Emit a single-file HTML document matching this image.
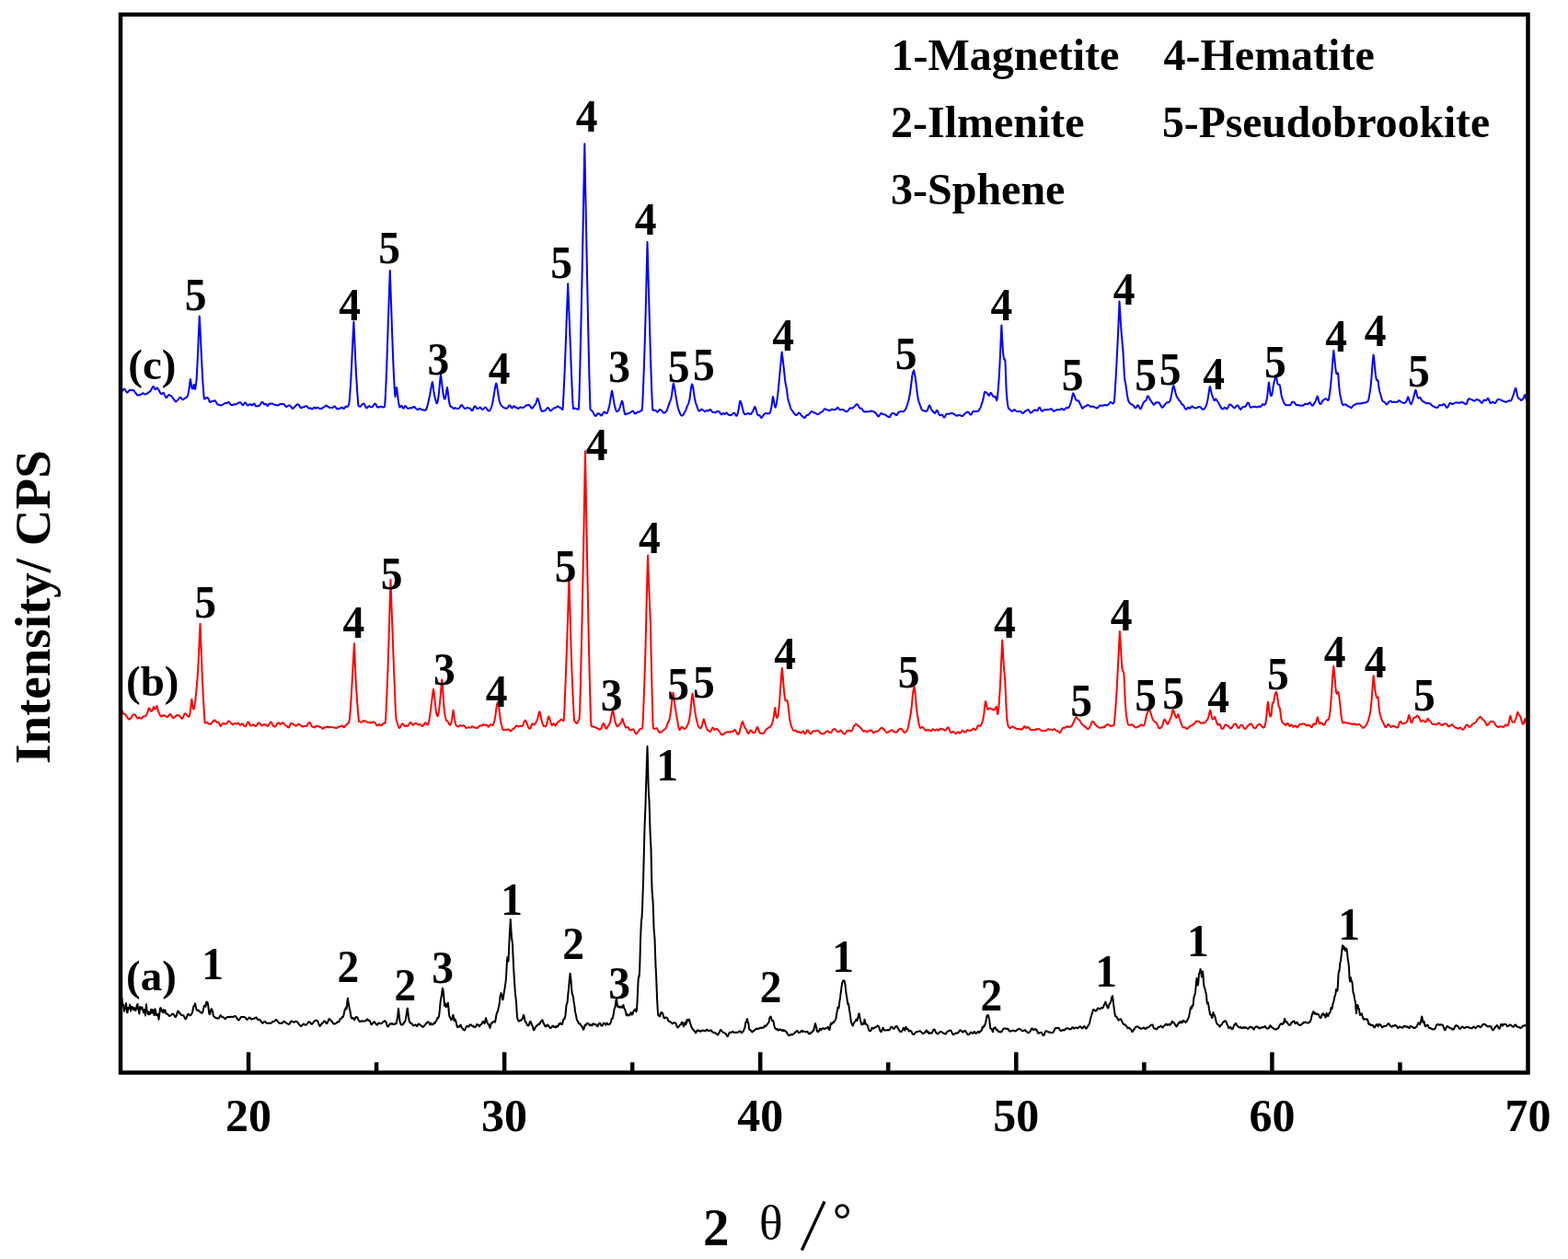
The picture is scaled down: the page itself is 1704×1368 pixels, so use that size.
<!DOCTYPE html>
<html><head><meta charset="utf-8"><title>XRD patterns</title>
<style>
html,body{margin:0;padding:0;background:#fff;}
body{width:1704px;height:1368px;overflow:hidden;}
svg{display:block;}
.serif{font-family:"Liberation Serif","Noto Serif CJK SC",serif;font-weight:bold;}
</style></head><body>
<svg width="1704" height="1368" viewBox="0 0 1704 1368">
<rect x="0" y="0" width="1704" height="1368" fill="#fff"/>
<g fill="none" stroke-width="2.0" stroke-linejoin="round" stroke-linecap="round">
<path d="M132.5 1085.0L133.0 1091.0L133.5 1092.1L134.0 1091.5L134.5 1094.9L135.0 1098.8L135.5 1096.4L136.0 1096.1L136.5 1092.4L137.0 1090.3L137.5 1093.8L138.0 1100.0L138.5 1100.2L139.0 1097.6L139.5 1095.0L140.0 1096.0L140.5 1095.7L141.0 1091.6L141.5 1094.6L142.0 1098.7L142.5 1093.7L143.0 1094.5L143.5 1094.0L144.0 1094.9L144.5 1097.0L145.0 1094.8L145.5 1096.7L146.0 1096.9L146.5 1097.7L147.0 1095.3L147.5 1097.9L148.0 1096.1L148.5 1093.8L149.0 1092.0L149.5 1091.0L150.0 1096.1L150.5 1095.8L151.0 1100.3L151.5 1101.5L152.0 1094.0L152.5 1094.9L153.0 1094.6L153.5 1096.2L154.0 1096.5L154.5 1094.4L155.0 1097.9L155.5 1098.1L156.0 1100.4L156.5 1098.0L157.0 1097.1L157.5 1099.2L158.0 1103.5L158.5 1096.0L159.0 1091.3L159.5 1097.4L160.0 1098.7L160.5 1100.4L161.0 1102.2L161.5 1102.3L162.0 1099.6L162.5 1099.8L163.0 1101.9L163.5 1101.1L164.0 1097.0L164.5 1100.6L165.0 1096.7L165.5 1098.6L166.0 1100.8L166.5 1097.5L167.0 1097.8L167.5 1103.1L168.0 1102.4L168.5 1096.2L169.0 1097.8L169.5 1101.0L170.0 1103.3L170.5 1101.9L171.0 1102.2L171.5 1101.9L172.0 1104.1L172.5 1107.7L173.0 1104.1L173.5 1100.5L174.0 1095.7L174.5 1095.1L175.0 1095.8L175.5 1098.7L176.0 1098.7L176.5 1098.6L177.0 1100.2L177.5 1097.1L178.0 1099.6L178.5 1099.7L179.0 1098.0L179.5 1097.6L180.0 1099.6L180.5 1101.4L181.0 1101.4L181.5 1101.4L182.0 1101.7L182.5 1102.3L183.0 1103.1L183.5 1103.7L184.0 1103.9L184.5 1103.8L185.0 1103.7L185.5 1103.4L186.0 1102.9L186.5 1102.2L187.0 1101.8L187.5 1101.7L188.0 1101.8L188.5 1102.0L189.0 1102.6L189.5 1103.4L190.0 1104.4L190.5 1105.1L191.0 1105.0L191.5 1104.1L192.0 1102.9L192.5 1101.1L193.0 1099.4L193.5 1098.6L194.0 1098.9L194.5 1099.8L195.0 1100.8L195.5 1101.3L196.0 1101.5L196.5 1102.1L197.0 1102.8L197.5 1103.1L198.0 1103.2L198.5 1103.2L199.0 1103.2L199.5 1103.4L200.0 1104.4L200.5 1105.7L201.0 1106.8L201.5 1107.4L202.0 1107.1L202.5 1106.2L203.0 1105.0L203.5 1103.5L204.0 1102.2L204.5 1101.6L205.0 1102.0L205.5 1102.7L206.0 1103.2L206.5 1103.2L207.0 1103.1L207.5 1102.7L208.0 1102.0L208.5 1101.0L209.0 1100.3L209.5 1098.3L210.0 1095.0L210.5 1093.4L211.0 1093.0L211.5 1091.9L211.8 1090.7L212.0 1090.4L212.5 1092.3L213.0 1095.3L213.5 1096.8L214.0 1097.9L214.5 1097.9L215.0 1097.4L215.5 1097.7L216.0 1098.1L216.5 1098.8L217.0 1099.4L217.5 1099.3L218.0 1099.8L218.5 1100.4L219.0 1100.7L219.5 1100.8L220.0 1100.3L220.5 1099.1L221.0 1096.6L221.5 1094.5L221.8 1092.9L222.0 1093.0L222.5 1092.6L223.0 1093.6L223.5 1093.8L224.0 1089.4L224.5 1088.6L224.8 1088.8L225.0 1090.8L225.5 1088.9L226.0 1091.1L226.5 1094.7L227.0 1099.2L227.5 1102.0L228.0 1102.1L228.5 1100.9L229.0 1098.4L229.5 1096.7L229.8 1096.1L230.0 1096.4L230.5 1097.7L231.0 1098.6L231.5 1101.3L232.0 1103.7L232.5 1104.6L233.0 1104.9L233.5 1105.3L234.0 1105.8L234.5 1106.3L235.0 1106.3L235.5 1106.1L236.0 1106.5L236.5 1106.7L237.0 1106.4L237.5 1106.4L238.0 1106.2L238.5 1105.2L239.0 1104.0L239.5 1103.2L240.0 1103.3L240.5 1104.0L241.0 1104.8L241.5 1105.2L242.0 1105.3L242.5 1105.2L243.0 1105.4L243.5 1105.9L244.0 1106.7L244.5 1107.3L245.0 1107.1L245.5 1106.4L246.0 1105.9L246.5 1105.5L247.0 1105.2L247.5 1105.1L248.0 1105.0L248.5 1105.0L249.0 1105.1L249.5 1105.2L250.0 1105.0L250.5 1104.9L251.0 1104.9L251.5 1104.7L252.0 1104.7L252.5 1104.9L253.0 1105.1L253.5 1105.0L254.0 1104.8L254.5 1104.4L255.0 1104.1L255.5 1104.1L256.0 1104.3L256.5 1104.9L257.0 1105.5L257.5 1106.3L258.0 1107.2L258.5 1108.1L259.0 1108.6L259.5 1108.6L260.0 1108.1L260.5 1107.4L261.0 1106.4L261.5 1105.5L262.0 1105.0L262.5 1104.9L263.0 1105.0L263.5 1105.1L264.0 1105.2L264.5 1105.1L265.0 1105.0L265.5 1105.0L266.0 1105.3L266.5 1105.8L267.0 1106.3L267.5 1106.9L268.0 1107.6L268.5 1107.9L269.0 1107.6L269.5 1107.1L270.0 1106.5L270.5 1106.0L271.0 1105.6L271.5 1105.7L272.0 1106.3L272.5 1107.0L273.0 1107.4L273.5 1107.5L274.0 1107.3L274.5 1107.1L275.0 1107.0L275.5 1107.0L276.0 1107.0L276.5 1106.6L277.0 1106.2L277.5 1105.8L278.0 1105.5L278.5 1105.5L279.0 1106.1L279.5 1106.9L280.0 1107.7L280.5 1108.2L281.0 1108.3L281.5 1108.3L282.0 1108.1L282.5 1108.1L283.0 1108.6L283.5 1109.4L284.0 1110.3L284.5 1111.0L285.0 1111.5L285.5 1111.8L286.0 1111.4L286.5 1110.7L287.0 1110.2L287.5 1110.0L288.0 1110.0L288.5 1110.5L289.0 1111.1L289.5 1111.5L290.0 1111.8L290.5 1111.9L291.0 1111.8L291.5 1111.7L292.0 1111.7L292.5 1111.7L293.0 1111.9L293.5 1112.0L294.0 1111.8L294.5 1111.5L295.0 1111.4L295.5 1111.0L296.0 1110.4L296.5 1110.0L297.0 1109.9L297.5 1109.9L298.0 1109.7L298.5 1109.4L299.0 1109.0L299.5 1108.5L300.0 1108.0L300.5 1108.2L301.0 1108.8L301.5 1109.4L302.0 1110.1L302.5 1110.7L303.0 1111.2L303.5 1111.7L304.0 1111.9L304.5 1111.8L305.0 1111.8L305.5 1111.8L306.0 1112.0L306.5 1112.0L307.0 1111.5L307.5 1110.7L308.0 1110.0L308.5 1109.7L309.0 1109.7L309.5 1110.2L310.0 1110.8L310.5 1111.2L311.0 1111.5L311.5 1111.8L312.0 1112.1L312.5 1112.3L313.0 1112.6L313.5 1112.9L314.0 1112.9L314.5 1112.6L315.0 1111.9L315.5 1111.0L316.0 1110.2L316.5 1109.6L317.0 1109.5L317.5 1109.9L318.0 1110.4L318.5 1110.6L319.0 1110.6L319.5 1110.7L320.0 1110.6L320.5 1110.2L321.0 1110.0L321.5 1109.8L322.0 1109.8L322.5 1110.1L323.0 1110.5L323.5 1111.0L324.0 1111.7L324.5 1112.5L325.0 1112.9L325.5 1113.6L326.0 1114.2L326.5 1114.7L327.0 1115.0L327.5 1115.0L328.0 1114.4L328.5 1113.7L329.0 1113.3L329.5 1112.8L330.0 1112.5L330.5 1112.7L331.0 1113.2L331.5 1113.6L332.0 1113.7L332.5 1113.7L333.0 1113.4L333.5 1112.9L334.0 1112.3L334.5 1111.5L335.0 1110.6L335.5 1110.3L336.0 1110.4L336.5 1110.5L337.0 1110.9L337.5 1111.5L338.0 1112.3L338.5 1112.8L339.0 1112.8L339.5 1112.4L340.0 1111.8L340.5 1111.0L341.0 1110.2L341.5 1109.8L342.0 1109.4L342.5 1109.1L343.0 1108.8L343.5 1108.7L344.0 1108.9L344.5 1109.0L345.0 1109.3L345.5 1110.1L346.0 1111.5L346.5 1112.8L347.0 1114.2L347.5 1115.0L348.0 1114.7L348.5 1113.8L349.0 1113.1L349.5 1112.3L350.0 1111.9L350.5 1111.8L351.0 1111.3L351.5 1110.5L352.0 1109.8L352.5 1109.4L353.0 1109.7L353.5 1110.3L354.0 1110.8L354.5 1111.5L355.0 1112.1L355.5 1111.8L356.0 1111.0L356.5 1109.7L357.0 1108.3L357.5 1107.4L358.0 1107.0L358.5 1107.4L359.0 1108.4L359.5 1108.9L360.0 1109.2L360.5 1109.9L361.0 1110.3L361.5 1111.0L362.0 1111.9L362.5 1112.3L363.0 1112.4L363.5 1112.7L364.0 1112.5L364.5 1112.1L365.0 1111.9L365.5 1111.7L366.0 1111.3L366.5 1110.6L367.0 1110.1L367.5 1110.3L368.0 1110.5L368.5 1110.1L369.0 1109.0L369.5 1107.6L370.0 1106.9L370.5 1107.1L371.0 1106.8L371.5 1105.6L372.0 1105.0L372.5 1105.3L373.0 1104.6L373.5 1102.7L374.0 1100.6L374.5 1098.1L375.0 1096.6L375.5 1096.1L376.0 1094.7L376.5 1096.4L377.0 1093.9L377.4 1087.5L377.5 1086.3L378.0 1084.8L378.5 1088.7L379.0 1091.1L379.5 1094.3L380.0 1097.1L380.5 1098.5L381.0 1101.9L381.5 1105.2L382.0 1106.5L382.5 1106.5L383.0 1106.1L383.5 1106.0L384.0 1106.6L384.5 1107.7L385.0 1108.3L385.5 1107.7L386.0 1106.5L386.5 1105.5L387.0 1105.1L387.5 1105.0L388.0 1105.3L388.5 1105.8L389.0 1107.0L389.5 1108.1L390.0 1109.1L390.5 1109.7L391.0 1109.9L391.5 1110.0L392.0 1109.9L392.5 1109.5L393.0 1109.2L393.5 1109.4L394.0 1109.7L394.5 1109.7L395.0 1109.5L395.5 1109.4L396.0 1109.5L396.5 1109.4L397.0 1109.3L397.5 1109.3L398.0 1108.8L398.5 1108.1L399.0 1107.3L399.5 1107.7L400.0 1108.5L400.5 1108.7L401.0 1108.5L401.5 1108.8L402.0 1109.7L402.5 1110.7L403.0 1112.2L403.5 1113.3L404.0 1113.2L404.5 1112.8L405.0 1112.2L405.5 1111.4L406.0 1110.7L406.5 1110.2L407.0 1110.2L407.5 1111.0L408.0 1111.8L408.5 1112.5L409.0 1113.1L409.5 1113.6L410.0 1113.7L410.5 1112.9L411.0 1111.8L411.5 1111.5L412.0 1111.6L412.5 1111.8L413.0 1112.2L413.5 1112.2L414.0 1112.2L414.5 1112.1L415.0 1111.9L415.5 1111.3L416.0 1110.4L416.5 1110.3L417.0 1110.1L417.5 1109.7L418.0 1109.3L418.5 1109.3L419.0 1109.9L419.5 1110.7L420.0 1112.1L420.5 1113.8L421.0 1115.0L421.5 1115.6L422.0 1115.3L422.5 1114.3L423.0 1113.8L423.5 1113.0L424.0 1112.2L424.5 1112.5L425.0 1112.7L425.5 1112.2L426.0 1112.1L426.5 1112.2L427.0 1112.7L427.5 1113.2L428.0 1112.9L428.5 1112.8L429.0 1112.7L429.5 1112.2L430.0 1112.5L430.5 1112.3L431.0 1110.6L431.5 1107.7L432.0 1105.5L432.5 1101.1L432.9 1096.2L433.0 1095.8L433.5 1100.0L434.0 1106.1L434.5 1109.5L435.0 1111.3L435.5 1112.8L436.0 1113.4L436.5 1113.7L437.0 1113.1L437.5 1112.7L438.0 1113.1L438.5 1112.4L439.0 1111.1L439.5 1110.1L440.0 1110.1L440.5 1108.8L441.0 1106.9L441.5 1103.8L442.0 1100.0L442.5 1096.4L442.9 1095.6L443.0 1096.2L443.5 1101.0L444.0 1105.4L444.5 1108.1L445.0 1109.9L445.5 1111.4L446.0 1111.6L446.5 1111.4L447.0 1112.1L447.5 1112.6L448.0 1112.6L448.5 1113.7L449.0 1114.2L449.5 1114.6L450.0 1114.4L450.5 1113.9L451.0 1113.4L451.5 1113.4L452.0 1113.7L452.5 1114.6L453.0 1115.1L453.5 1114.8L454.0 1113.8L454.5 1112.9L455.0 1112.4L455.5 1112.7L456.0 1113.2L456.5 1113.6L457.0 1114.2L457.5 1114.6L458.0 1114.5L458.5 1115.0L459.0 1115.6L459.5 1115.9L460.0 1115.7L460.5 1115.1L461.0 1114.9L461.5 1114.1L462.0 1113.4L462.5 1113.0L463.0 1112.2L463.5 1111.5L464.0 1111.4L464.5 1110.7L465.0 1110.4L465.5 1110.6L466.0 1110.7L466.5 1111.6L467.0 1113.1L467.5 1113.4L468.0 1112.6L468.5 1111.9L469.0 1112.8L469.5 1113.4L470.0 1113.2L470.5 1112.8L471.0 1112.8L471.5 1111.8L472.0 1111.2L472.5 1111.8L473.0 1111.2L473.5 1109.9L474.0 1109.1L474.5 1108.6L475.0 1106.9L475.5 1105.7L476.0 1106.4L476.5 1106.0L477.0 1104.2L477.5 1100.8L478.0 1095.5L478.5 1089.9L479.0 1086.2L479.5 1083.2L480.0 1081.5L480.5 1076.6L481.0 1073.7L481.5 1075.4L482.0 1079.1L482.5 1085.7L483.0 1092.8L483.5 1092.8L484.0 1090.6L484.5 1093.8L485.0 1094.2L485.5 1093.4L486.0 1091.5L486.5 1090.1L486.9 1089.7L487.0 1090.3L487.5 1095.6L488.0 1102.4L488.5 1104.7L489.0 1105.1L489.5 1106.1L490.0 1107.7L490.5 1108.3L491.0 1107.5L491.5 1106.6L492.0 1103.9L492.5 1102.8L492.9 1104.6L493.0 1105.4L493.5 1109.0L494.0 1109.2L494.5 1107.5L495.0 1108.3L495.5 1110.2L496.0 1112.3L496.5 1114.4L497.0 1115.9L497.5 1116.0L498.0 1115.2L498.5 1115.2L499.0 1115.8L499.5 1115.5L500.0 1114.3L500.5 1113.6L501.0 1114.4L501.5 1116.0L502.0 1117.0L502.5 1117.3L503.0 1117.9L503.5 1118.7L504.0 1119.2L504.5 1119.5L505.0 1119.1L505.5 1118.2L506.0 1117.2L506.5 1116.1L507.0 1115.4L507.5 1114.8L508.0 1114.9L508.5 1115.2L509.0 1115.3L509.5 1115.6L510.0 1114.6L510.5 1113.4L511.0 1113.4L511.5 1113.6L512.0 1113.4L512.5 1113.9L513.0 1114.8L513.5 1115.2L514.0 1115.0L514.5 1114.8L515.0 1115.5L515.5 1116.2L516.0 1116.0L516.5 1116.1L517.0 1115.6L517.5 1114.6L518.0 1113.4L518.5 1112.9L519.0 1113.4L519.5 1113.4L520.0 1114.0L520.5 1114.7L521.0 1115.4L521.5 1114.9L522.0 1113.5L522.5 1113.3L523.0 1113.1L523.5 1112.5L524.0 1111.4L524.5 1110.2L525.0 1110.0L525.5 1110.1L526.0 1111.3L526.5 1112.2L527.0 1111.3L527.5 1108.1L527.8 1106.7L528.0 1106.2L528.5 1107.6L529.0 1109.8L529.5 1111.0L530.0 1112.2L530.5 1112.6L531.0 1113.3L531.5 1114.2L532.0 1115.8L532.5 1116.9L533.0 1115.2L533.5 1112.8L534.0 1111.8L534.5 1111.2L535.0 1111.5L535.5 1111.1L536.0 1110.3L536.5 1110.0L537.0 1109.8L537.5 1110.2L538.0 1110.6L538.5 1108.6L539.0 1105.3L539.5 1102.5L540.0 1100.4L540.5 1099.4L541.0 1099.0L541.5 1096.1L542.0 1093.9L542.5 1091.8L543.0 1087.8L543.5 1082.9L544.0 1080.9L544.5 1079.0L545.0 1080.5L545.5 1082.4L546.0 1085.9L546.5 1086.3L547.0 1084.1L547.5 1079.9L548.0 1076.7L548.5 1074.5L548.8 1072.0L549.0 1070.4L549.5 1067.4L550.0 1061.9L550.5 1053.3L551.0 1043.9L551.5 1039.9L552.0 1043.6L552.5 1044.4L553.0 1033.2L553.5 1022.8L554.0 1012.9L554.5 1003.9L554.8 998.9L555.0 1002.3L555.5 1011.0L556.0 1018.7L556.5 1022.0L557.0 1025.1L557.5 1038.0L558.0 1048.7L558.5 1057.6L559.0 1066.2L559.5 1073.0L560.0 1080.7L560.5 1084.3L561.0 1088.9L561.5 1097.7L562.0 1104.4L562.5 1107.2L563.0 1108.7L563.5 1108.9L564.0 1109.7L564.5 1109.0L565.0 1108.5L565.5 1108.7L566.0 1108.8L566.5 1108.7L567.0 1107.7L567.5 1107.0L568.0 1106.6L568.5 1104.9L568.7 1103.4L569.0 1102.7L569.5 1103.8L570.0 1106.8L570.5 1109.1L571.0 1110.3L571.5 1110.8L572.0 1111.4L572.5 1112.7L573.0 1113.9L573.5 1114.2L574.0 1114.5L574.5 1114.3L575.0 1113.2L575.5 1111.4L576.0 1109.9L576.5 1109.9L577.0 1110.8L577.5 1112.2L578.0 1113.6L578.5 1114.3L579.0 1115.8L579.5 1118.0L580.0 1119.3L580.5 1119.3L581.0 1118.2L581.5 1116.8L582.0 1115.9L582.5 1115.4L583.0 1115.1L583.5 1114.3L584.0 1113.9L584.5 1113.7L585.0 1113.0L585.5 1112.5L586.0 1112.9L586.5 1112.5L587.0 1111.3L587.5 1110.4L588.0 1109.5L588.5 1109.2L589.0 1108.5L589.5 1108.3L589.7 1109.0L590.0 1110.4L590.5 1111.8L591.0 1111.9L591.5 1113.3L592.0 1114.9L592.5 1115.2L593.0 1115.4L593.5 1114.5L594.0 1114.3L594.5 1114.7L595.0 1113.5L595.5 1113.5L596.0 1114.9L596.5 1115.4L597.0 1115.7L597.5 1116.8L598.0 1117.2L598.5 1116.9L599.0 1116.7L599.5 1116.1L600.0 1115.3L600.5 1114.8L601.0 1114.6L601.5 1115.2L602.0 1116.0L602.5 1115.9L603.0 1115.5L603.5 1115.8L604.0 1116.4L604.5 1115.5L605.0 1114.9L605.5 1115.5L606.0 1115.6L606.5 1115.1L607.0 1113.7L607.5 1112.4L608.0 1112.8L608.5 1112.8L609.0 1111.5L609.5 1111.9L610.0 1112.7L610.5 1112.8L611.0 1112.9L611.5 1111.3L612.0 1108.9L612.5 1107.7L613.0 1106.8L613.5 1107.3L614.0 1105.8L614.5 1102.7L615.0 1097.4L615.5 1092.1L616.0 1090.7L616.5 1089.4L617.0 1084.7L617.5 1078.7L618.0 1075.0L618.5 1068.5L619.0 1062.8L619.5 1058.4L619.6 1057.8L620.0 1060.7L620.5 1065.1L621.0 1072.0L621.5 1078.0L622.0 1080.5L622.5 1081.7L623.0 1083.7L623.5 1088.4L624.0 1090.6L624.5 1094.2L625.0 1099.1L625.5 1101.3L626.0 1103.4L626.5 1106.2L627.0 1108.4L627.5 1109.0L628.0 1109.5L628.5 1111.1L629.0 1112.3L629.5 1112.0L630.0 1111.9L630.5 1112.8L631.0 1113.8L631.5 1114.3L632.0 1114.8L632.5 1115.2L633.0 1116.4L633.5 1117.8L634.0 1118.7L634.5 1118.1L635.0 1116.5L635.5 1114.3L636.0 1113.6L636.5 1114.0L637.0 1113.5L637.5 1112.4L638.0 1111.9L638.5 1112.3L639.0 1112.1L639.5 1112.1L640.0 1113.0L640.5 1113.7L641.0 1114.2L641.5 1114.1L642.0 1113.5L642.5 1113.4L643.0 1114.2L643.5 1114.3L644.0 1113.1L644.5 1112.2L644.6 1112.2L645.0 1112.5L645.5 1112.8L646.0 1113.0L646.5 1112.8L647.0 1113.0L647.5 1113.2L648.0 1113.7L648.5 1114.4L649.0 1115.0L649.5 1115.2L650.0 1114.6L650.5 1112.8L651.0 1111.9L651.5 1111.9L652.0 1111.7L652.5 1112.6L653.0 1114.0L653.5 1114.5L654.0 1114.4L654.5 1114.6L655.0 1113.9L655.5 1112.4L656.0 1111.6L656.5 1111.6L657.0 1112.2L657.5 1112.4L658.0 1112.8L658.5 1113.6L659.0 1112.7L659.5 1111.6L660.0 1111.9L660.5 1112.7L661.0 1113.1L661.5 1113.3L662.0 1113.0L662.5 1112.9L663.0 1112.4L663.5 1111.5L664.0 1110.0L664.5 1107.4L665.0 1106.7L665.5 1107.1L666.0 1105.9L666.5 1102.9L667.0 1100.7L667.5 1096.8L668.0 1095.2L668.5 1094.3L669.0 1090.3L669.5 1086.7L670.0 1086.0L670.5 1089.5L671.0 1093.0L671.5 1094.1L672.0 1094.3L672.5 1093.4L673.0 1093.4L673.5 1094.7L674.0 1094.4L674.5 1093.8L675.0 1093.7L675.5 1094.7L676.0 1094.9L676.5 1094.1L677.0 1092.6L677.5 1092.0L678.0 1094.6L678.5 1096.0L679.0 1096.5L679.5 1097.8L680.0 1099.5L680.5 1102.7L681.0 1103.5L681.5 1102.0L682.0 1102.2L682.5 1102.8L683.0 1103.3L683.5 1103.5L684.0 1103.2L684.5 1102.4L685.0 1101.5L685.5 1100.1L686.0 1100.9L686.5 1102.5L687.0 1102.5L687.5 1101.8L688.0 1100.4L688.5 1098.5L689.0 1097.8L689.5 1097.9L690.0 1097.0L690.5 1096.6L691.0 1098.7L691.5 1099.3L692.0 1097.1L692.5 1089.6L693.0 1078.8L693.5 1067.4L694.0 1060.8L694.5 1061.6L695.0 1057.1L695.5 1042.3L696.0 1021.5L696.5 1009.6L697.0 999.9L697.5 997.2L698.0 987.9L698.5 972.8L699.0 958.2L699.5 939.6L700.0 919.1L700.5 899.7L701.0 886.8L701.5 874.7L702.0 856.2L702.5 839.8L703.0 825.8L703.5 811.1L704.0 828.1L704.5 850.2L705.0 862.6L705.5 869.9L706.0 884.9L706.5 902.1L707.0 913.1L707.5 921.4L708.0 948.0L708.5 965.7L709.0 973.1L709.5 978.8L710.0 990.9L710.5 1007.5L711.0 1014.5L711.5 1019.8L712.0 1034.9L712.5 1049.1L713.0 1057.9L713.5 1070.3L714.0 1083.9L714.5 1093.0L715.0 1101.5L715.5 1103.6L716.0 1103.4L716.5 1103.7L717.0 1104.5L717.5 1103.2L718.0 1100.3L718.5 1100.5L719.0 1101.0L719.4 1100.4L719.5 1100.3L720.0 1100.6L720.5 1102.3L721.0 1104.6L721.5 1105.6L722.0 1106.5L722.5 1106.4L723.0 1105.4L723.5 1105.4L724.0 1105.5L724.5 1105.9L725.0 1106.1L725.4 1106.7L725.5 1106.9L726.0 1108.4L726.5 1109.2L727.0 1109.7L727.5 1110.1L728.0 1110.2L728.5 1110.2L729.0 1110.5L729.5 1111.2L730.0 1111.8L730.5 1112.2L731.0 1112.3L731.5 1111.5L732.0 1111.2L732.5 1111.6L733.0 1111.4L733.5 1111.5L734.0 1111.5L734.5 1112.0L735.0 1113.6L735.5 1115.1L736.0 1116.0L736.5 1116.5L737.0 1116.1L737.5 1115.6L738.0 1115.0L738.5 1114.3L739.0 1113.7L739.5 1113.4L740.0 1113.1L740.5 1111.7L741.0 1110.9L741.5 1110.8L742.0 1111.6L742.5 1114.2L743.0 1115.3L743.5 1114.5L744.0 1113.0L744.5 1110.7L745.0 1111.6L745.5 1113.0L746.0 1110.9L746.5 1108.1L747.0 1108.1L747.3 1108.8L747.5 1109.5L748.0 1109.1L748.5 1108.6L749.0 1107.5L749.5 1109.3L750.0 1111.6L750.5 1112.9L751.0 1114.5L751.5 1116.1L752.0 1116.7L752.5 1117.7L753.0 1118.6L753.5 1119.0L754.0 1119.5L754.5 1120.4L755.0 1120.4L755.5 1121.3L756.0 1122.4L756.5 1121.8L757.0 1120.6L757.5 1120.0L758.0 1119.3L758.5 1119.5L759.0 1120.1L759.5 1120.5L760.0 1120.3L760.5 1119.8L761.0 1120.2L761.5 1120.8L762.0 1120.4L762.5 1120.3L763.0 1119.8L763.5 1119.6L764.0 1119.6L764.5 1119.9L765.0 1120.1L765.5 1120.0L766.0 1120.2L766.5 1120.4L767.0 1119.6L767.5 1119.0L768.0 1118.7L768.5 1118.8L769.0 1119.6L769.5 1119.9L770.0 1119.9L770.5 1120.0L771.0 1120.0L771.5 1119.7L772.0 1119.5L772.5 1119.5L773.0 1119.9L773.5 1120.5L774.0 1121.1L774.5 1121.4L775.0 1121.8L775.5 1122.2L776.0 1122.2L776.5 1121.8L777.0 1122.2L777.5 1122.5L778.0 1122.8L778.5 1123.1L779.0 1123.7L779.5 1124.3L780.0 1124.6L780.5 1124.0L781.0 1123.0L781.5 1122.1L782.0 1121.1L782.5 1120.0L783.0 1119.1L783.5 1119.1L784.0 1119.7L784.5 1120.6L785.0 1121.2L785.5 1121.6L786.0 1122.0L786.5 1121.9L787.0 1122.0L787.5 1122.5L788.0 1122.8L788.5 1122.9L789.0 1123.4L789.5 1124.6L790.0 1125.6L790.5 1126.2L791.0 1125.8L791.5 1124.7L792.0 1123.5L792.5 1122.5L793.0 1121.9L793.5 1121.8L794.0 1121.8L794.5 1121.8L795.0 1121.7L795.5 1121.3L796.0 1120.7L796.5 1120.8L797.0 1121.5L797.5 1122.0L798.0 1122.1L798.5 1121.9L799.0 1121.7L799.5 1122.0L800.0 1122.0L800.5 1121.7L801.0 1121.8L801.5 1121.9L802.0 1121.6L802.5 1121.2L803.0 1120.7L803.5 1120.4L804.0 1120.6L804.5 1120.5L805.0 1121.2L805.5 1122.2L806.0 1122.4L806.5 1121.7L807.0 1121.4L807.5 1121.0L808.0 1119.9L808.5 1118.6L809.0 1117.6L809.5 1116.3L810.0 1112.8L810.5 1110.4L811.0 1110.9L811.5 1108.3L812.0 1107.0L812.5 1109.5L813.0 1110.8L813.5 1113.3L814.0 1117.5L814.5 1118.9L815.0 1119.2L815.5 1119.0L816.0 1119.7L816.5 1120.3L817.0 1121.0L817.5 1121.5L818.0 1120.8L818.5 1120.2L819.0 1120.2L819.5 1119.7L820.0 1119.5L820.5 1119.0L821.0 1118.3L821.5 1118.4L822.0 1118.2L822.5 1117.4L823.0 1117.4L823.5 1117.9L824.0 1118.1L824.5 1117.9L825.0 1117.6L825.5 1116.9L826.0 1117.0L826.5 1116.9L827.0 1116.6L827.5 1116.6L828.0 1117.0L828.5 1117.0L829.0 1116.7L829.5 1116.5L830.0 1116.4L830.5 1115.7L831.0 1114.6L831.5 1114.2L832.0 1115.1L832.5 1114.7L833.0 1114.1L833.5 1113.6L834.0 1112.7L834.5 1112.0L835.0 1111.5L835.5 1110.8L836.0 1108.3L836.5 1105.4L837.0 1105.7L837.3 1104.6L837.5 1104.6L838.0 1105.2L838.5 1107.0L839.0 1109.0L839.5 1109.3L840.0 1109.1L840.5 1109.4L841.0 1112.3L841.5 1115.0L842.0 1116.4L842.5 1117.6L843.0 1118.0L843.5 1118.3L844.0 1118.5L844.5 1118.1L845.0 1118.3L845.5 1119.5L846.0 1119.4L846.5 1119.1L847.0 1119.1L847.5 1118.4L848.0 1118.3L848.5 1119.0L849.0 1119.3L849.5 1119.5L850.0 1120.0L850.5 1119.3L851.0 1119.1L851.5 1119.9L852.0 1120.3L852.5 1119.6L853.0 1119.7L853.5 1120.3L854.0 1120.8L854.5 1121.1L855.0 1121.9L855.5 1122.7L856.0 1123.5L856.5 1124.4L857.0 1125.0L857.5 1124.9L858.0 1124.8L858.5 1124.9L859.0 1124.6L859.5 1124.0L860.0 1123.8L860.5 1124.0L861.0 1124.4L861.5 1124.2L862.0 1123.5L862.5 1123.1L863.0 1122.9L863.5 1122.5L864.0 1121.9L864.5 1121.4L865.0 1121.0L865.5 1120.6L866.0 1120.1L866.5 1120.2L867.0 1120.7L867.5 1121.6L868.0 1122.3L868.5 1122.1L869.0 1121.9L869.5 1121.7L870.0 1121.4L870.5 1120.5L871.0 1119.8L871.5 1119.9L872.0 1120.9L872.5 1121.2L873.0 1120.5L873.5 1120.4L874.0 1120.6L874.5 1120.9L875.0 1121.2L875.5 1121.3L876.0 1121.5L876.5 1121.2L877.0 1121.1L877.5 1120.8L878.0 1121.5L878.5 1122.7L879.0 1123.4L879.5 1123.2L880.0 1123.3L880.5 1122.6L881.0 1122.0L881.5 1122.5L882.0 1121.9L882.5 1121.5L883.0 1120.2L883.5 1120.3L884.0 1120.1L884.5 1118.4L885.0 1116.1L885.5 1113.9L885.7 1113.1L886.0 1112.1L886.5 1113.8L887.0 1115.9L887.5 1118.0L888.0 1120.5L888.5 1121.2L889.0 1121.1L889.5 1120.8L890.0 1120.3L890.5 1119.1L891.0 1117.8L891.5 1118.4L892.0 1119.3L892.5 1118.7L893.0 1117.8L893.5 1117.6L894.0 1117.4L894.5 1117.2L895.0 1117.5L895.5 1118.0L896.0 1118.3L896.5 1117.9L897.0 1117.4L897.5 1116.9L898.0 1116.9L898.5 1117.3L899.0 1116.9L899.5 1116.0L900.0 1115.9L900.5 1117.2L901.0 1118.8L901.5 1119.0L902.0 1117.1L902.5 1113.3L903.0 1111.7L903.5 1113.1L904.0 1112.4L904.5 1111.3L905.0 1111.0L905.5 1110.9L905.7 1110.9L906.0 1111.2L906.5 1109.8L907.0 1109.1L907.5 1108.9L908.0 1107.8L908.5 1106.6L909.0 1103.2L909.5 1099.8L910.0 1097.8L910.5 1094.4L911.0 1094.8L911.5 1095.4L912.0 1091.8L912.5 1087.0L913.0 1084.7L913.5 1080.2L914.0 1077.1L914.5 1072.5L915.0 1069.3L915.5 1067.5L916.0 1066.4L916.3 1065.4L916.5 1065.8L917.0 1065.6L917.5 1065.6L918.0 1067.0L918.5 1070.0L919.0 1073.9L919.5 1079.1L920.0 1081.9L920.5 1085.0L921.0 1088.8L921.5 1091.5L922.0 1090.5L922.5 1092.9L923.0 1097.2L923.5 1099.8L924.0 1103.4L924.5 1107.5L925.0 1110.4L925.5 1111.9L926.0 1113.2L926.5 1114.3L927.0 1114.5L927.5 1112.6L928.0 1111.4L928.5 1110.9L929.0 1110.3L929.5 1109.5L930.0 1108.4L930.5 1107.6L931.0 1107.8L931.5 1109.0L932.0 1107.0L932.5 1105.4L933.0 1103.2L933.5 1101.3L933.6 1101.4L934.0 1102.7L934.5 1106.2L935.0 1108.4L935.5 1110.0L936.0 1112.3L936.5 1113.4L937.0 1112.9L937.5 1112.3L938.0 1112.8L938.5 1112.8L939.0 1110.5L939.5 1107.8L939.6 1107.8L940.0 1109.6L940.5 1112.8L941.0 1112.5L941.5 1112.5L942.0 1113.4L942.5 1113.9L943.0 1115.0L943.5 1116.9L944.0 1118.6L944.5 1119.7L945.0 1120.2L945.5 1120.3L946.0 1120.1L946.5 1119.5L947.0 1118.1L947.5 1116.9L948.0 1117.0L948.5 1117.6L949.0 1117.7L949.5 1117.4L950.0 1116.9L950.5 1116.6L951.0 1116.4L951.5 1116.1L952.0 1116.0L952.5 1115.5L953.0 1115.2L953.5 1114.7L954.0 1114.5L954.5 1114.8L955.0 1115.5L955.5 1116.8L956.0 1118.8L956.5 1120.3L957.0 1120.8L957.5 1121.2L958.0 1120.9L958.5 1119.4L959.0 1117.9L959.5 1116.9L960.0 1117.2L960.5 1118.5L961.0 1119.4L961.5 1119.5L962.0 1119.5L962.5 1119.6L963.0 1119.6L963.5 1119.3L964.0 1119.0L964.5 1119.2L965.0 1119.5L965.5 1119.1L966.0 1119.2L966.5 1119.3L967.0 1118.7L967.5 1117.6L968.0 1116.4L968.5 1115.8L969.0 1115.8L969.5 1115.9L970.0 1116.4L970.5 1117.3L971.0 1118.0L971.5 1117.9L972.0 1117.4L972.5 1116.6L973.0 1115.8L973.5 1115.2L974.0 1114.9L974.5 1114.9L975.0 1115.7L975.5 1116.7L976.0 1117.4L976.5 1118.3L977.0 1119.0L977.5 1120.1L978.0 1120.8L978.5 1120.9L979.0 1121.2L979.5 1120.9L980.0 1120.6L980.5 1119.8L981.0 1118.6L981.5 1117.3L982.0 1116.9L982.5 1118.0L983.0 1119.4L983.5 1119.6L984.0 1116.4L984.5 1115.8L985.0 1117.4L985.5 1118.0L986.0 1118.3L986.5 1118.0L987.0 1119.0L987.5 1120.2L988.0 1120.6L988.5 1120.0L989.0 1119.7L989.5 1119.9L990.0 1120.3L990.5 1120.9L991.0 1121.9L991.5 1123.1L992.0 1123.7L992.5 1124.1L993.0 1124.1L993.5 1123.7L994.0 1123.1L994.5 1122.2L995.0 1121.5L995.5 1121.6L996.0 1121.5L996.5 1121.1L997.0 1121.1L997.5 1120.9L998.0 1120.7L998.5 1120.4L999.0 1120.4L999.5 1120.4L1000.0 1120.3L1000.5 1120.8L1001.0 1121.3L1001.5 1121.9L1002.0 1122.4L1002.5 1123.0L1003.0 1123.0L1003.5 1122.7L1004.0 1122.5L1004.5 1122.5L1005.0 1121.8L1005.5 1121.2L1006.0 1120.8L1006.5 1119.7L1007.0 1119.5L1007.5 1121.4L1008.0 1121.1L1008.5 1120.9L1009.0 1122.4L1009.5 1123.0L1010.0 1122.3L1010.5 1122.5L1011.0 1122.7L1011.5 1122.4L1012.0 1122.6L1012.5 1122.7L1013.0 1122.0L1013.5 1120.8L1014.0 1119.7L1014.5 1118.9L1015.0 1118.4L1015.5 1118.6L1016.0 1119.4L1016.5 1120.7L1017.0 1121.7L1017.5 1122.3L1018.0 1122.8L1018.5 1123.2L1019.0 1123.4L1019.5 1123.0L1020.0 1122.6L1020.5 1122.4L1021.0 1121.8L1021.5 1121.3L1022.0 1121.1L1022.5 1121.0L1023.0 1121.0L1023.5 1121.4L1024.0 1121.9L1024.5 1122.3L1025.0 1122.5L1025.5 1122.7L1026.0 1122.9L1026.5 1123.0L1027.0 1123.4L1027.5 1123.6L1028.0 1123.1L1028.5 1122.3L1029.0 1121.5L1029.5 1121.0L1030.0 1120.6L1030.5 1120.4L1031.0 1120.1L1031.5 1119.8L1032.0 1119.8L1032.5 1119.5L1033.0 1119.4L1033.5 1119.9L1034.0 1120.8L1034.5 1121.9L1035.0 1123.0L1035.5 1124.0L1036.0 1124.2L1036.5 1123.8L1037.0 1123.5L1037.5 1123.3L1038.0 1123.0L1038.5 1122.6L1039.0 1122.6L1039.5 1122.7L1040.0 1122.7L1040.5 1122.4L1041.0 1122.4L1041.5 1122.0L1042.0 1121.1L1042.5 1120.4L1043.0 1119.7L1043.5 1119.3L1044.0 1119.5L1044.5 1119.9L1045.0 1120.4L1045.5 1121.1L1046.0 1121.5L1046.5 1121.5L1047.0 1121.4L1047.5 1120.6L1048.0 1120.0L1048.5 1120.1L1049.0 1120.1L1049.5 1120.6L1050.0 1121.4L1050.5 1122.3L1051.0 1123.2L1051.5 1124.0L1052.0 1124.2L1052.5 1124.0L1053.0 1124.0L1053.5 1123.6L1054.0 1122.8L1054.5 1121.9L1055.0 1121.5L1055.5 1121.8L1056.0 1122.2L1056.5 1122.6L1057.0 1122.9L1057.5 1122.8L1058.0 1122.0L1058.5 1121.1L1059.0 1120.9L1059.5 1121.6L1060.0 1122.7L1060.5 1123.0L1061.0 1122.7L1061.5 1122.4L1062.0 1121.9L1062.5 1121.2L1063.0 1120.7L1063.5 1121.6L1064.0 1122.2L1064.5 1121.8L1065.0 1121.0L1065.5 1120.5L1066.0 1120.1L1066.5 1119.8L1067.0 1118.6L1067.5 1116.1L1068.0 1116.1L1068.5 1116.8L1069.0 1115.1L1069.5 1114.4L1070.0 1114.8L1070.5 1113.1L1071.0 1111.4L1071.5 1109.2L1072.0 1106.8L1072.5 1103.6L1073.0 1103.1L1073.5 1103.2L1073.7 1102.8L1074.0 1103.2L1074.5 1105.7L1075.0 1107.0L1075.5 1110.6L1076.0 1115.2L1076.5 1117.6L1077.0 1117.9L1077.5 1118.0L1078.0 1118.5L1078.5 1120.6L1079.0 1121.3L1079.5 1118.5L1080.0 1117.0L1080.5 1117.0L1081.0 1116.8L1081.5 1116.4L1082.0 1117.1L1082.5 1118.7L1083.0 1119.4L1083.5 1119.2L1084.0 1119.1L1084.5 1120.0L1085.0 1120.9L1085.5 1121.2L1086.0 1121.3L1086.5 1120.9L1087.0 1120.9L1087.5 1121.4L1088.0 1121.4L1088.5 1120.8L1089.0 1120.4L1089.5 1119.4L1090.0 1118.5L1090.5 1117.9L1091.0 1117.6L1091.5 1117.4L1092.0 1117.4L1092.5 1117.6L1093.0 1117.6L1093.5 1117.9L1094.0 1118.2L1094.5 1118.0L1095.0 1117.8L1095.5 1118.0L1096.0 1118.7L1096.5 1119.5L1097.0 1120.4L1097.5 1120.8L1098.0 1120.6L1098.5 1120.4L1099.0 1120.2L1099.5 1120.1L1100.0 1120.0L1100.5 1119.7L1101.0 1119.5L1101.5 1119.8L1102.0 1120.0L1102.5 1120.1L1103.0 1120.4L1103.5 1120.4L1104.0 1120.3L1104.5 1119.9L1105.0 1119.3L1105.5 1118.8L1106.0 1118.6L1106.5 1118.3L1107.0 1118.2L1107.5 1118.1L1108.0 1118.0L1108.5 1118.3L1109.0 1118.5L1109.5 1119.0L1110.0 1119.6L1110.5 1119.9L1111.0 1120.0L1111.5 1120.1L1112.0 1120.2L1112.5 1120.0L1113.0 1119.6L1113.5 1119.5L1114.0 1119.3L1114.5 1119.5L1115.0 1120.4L1115.5 1120.9L1116.0 1121.1L1116.5 1121.6L1117.0 1122.1L1117.5 1122.5L1118.0 1121.9L1118.5 1121.5L1119.0 1121.4L1119.5 1120.9L1120.0 1119.8L1120.5 1118.6L1121.0 1117.9L1121.5 1117.4L1122.0 1117.5L1122.5 1118.5L1123.0 1119.0L1123.5 1118.9L1124.0 1118.6L1124.5 1118.3L1125.0 1118.0L1125.5 1118.6L1126.0 1119.3L1126.5 1119.1L1127.0 1120.0L1127.5 1121.4L1128.0 1122.7L1128.5 1122.5L1129.0 1122.7L1129.5 1122.4L1130.0 1121.9L1130.5 1121.8L1131.0 1121.8L1131.5 1121.9L1132.0 1122.3L1132.5 1123.0L1133.0 1124.1L1133.5 1125.1L1134.0 1125.1L1134.5 1124.7L1135.0 1123.7L1135.5 1122.1L1136.0 1121.1L1136.5 1120.5L1137.0 1120.2L1137.5 1120.4L1138.0 1120.7L1138.5 1121.0L1139.0 1121.2L1139.5 1121.4L1140.0 1121.5L1140.5 1121.6L1141.0 1121.8L1141.5 1122.0L1142.0 1122.2L1142.5 1122.1L1143.0 1122.1L1143.5 1122.1L1144.0 1122.0L1144.5 1121.6L1145.0 1120.8L1145.5 1120.0L1146.0 1118.8L1146.5 1117.8L1147.0 1117.2L1147.5 1117.1L1148.0 1117.1L1148.5 1117.2L1149.0 1117.1L1149.5 1116.9L1150.0 1116.7L1150.5 1116.8L1151.0 1117.4L1151.5 1118.6L1152.0 1119.4L1152.5 1119.9L1153.0 1120.0L1153.5 1120.0L1154.0 1119.6L1154.5 1119.3L1155.0 1119.2L1155.5 1119.1L1156.0 1119.5L1156.5 1119.6L1157.0 1119.1L1157.5 1118.5L1158.0 1118.1L1158.5 1117.7L1159.0 1117.3L1159.5 1117.2L1160.0 1117.4L1160.5 1117.6L1161.0 1117.5L1161.5 1117.7L1162.0 1118.0L1162.5 1118.3L1163.0 1118.4L1163.5 1118.3L1164.0 1118.0L1164.5 1117.4L1165.0 1116.6L1165.5 1116.2L1166.0 1116.3L1166.5 1116.8L1167.0 1117.4L1167.5 1117.5L1168.0 1117.1L1168.5 1116.9L1169.0 1116.6L1169.5 1116.6L1170.0 1116.8L1170.5 1117.0L1171.0 1117.3L1171.5 1117.3L1172.0 1116.7L1172.5 1116.1L1173.0 1115.6L1173.5 1115.4L1174.0 1115.3L1174.5 1115.7L1175.0 1116.4L1175.5 1117.1L1176.0 1117.4L1176.5 1117.1L1177.0 1116.5L1177.5 1115.8L1178.0 1115.3L1178.5 1115.1L1179.0 1115.6L1179.5 1116.6L1180.0 1117.5L1180.5 1117.5L1181.0 1116.9L1181.5 1116.2L1182.0 1115.4L1182.5 1114.5L1183.0 1113.6L1183.5 1113.1L1184.0 1112.2L1184.5 1109.6L1185.0 1107.2L1185.5 1105.3L1186.0 1103.7L1186.5 1102.1L1187.0 1100.5L1187.5 1098.8L1188.0 1096.9L1188.5 1097.0L1189.0 1097.2L1189.5 1097.6L1190.0 1098.2L1190.5 1098.6L1191.0 1098.6L1191.5 1098.1L1191.8 1097.6L1192.0 1097.1L1192.5 1096.1L1193.0 1095.5L1193.5 1095.5L1194.0 1095.9L1194.5 1096.3L1195.0 1096.5L1195.5 1096.3L1196.0 1095.9L1196.5 1095.5L1197.0 1095.1L1197.5 1095.2L1198.0 1095.5L1198.5 1095.1L1199.0 1094.1L1199.5 1092.9L1200.0 1091.7L1200.5 1090.6L1201.0 1089.2L1201.5 1088.6L1201.8 1089.2L1202.0 1090.3L1202.5 1092.0L1203.0 1093.2L1203.5 1094.7L1204.0 1095.5L1204.5 1094.7L1205.0 1093.0L1205.5 1091.1L1206.0 1090.3L1206.5 1090.0L1207.0 1088.9L1207.5 1087.0L1208.0 1084.1L1208.5 1083.2L1209.0 1082.1L1209.2 1082.8L1209.5 1085.7L1210.0 1090.3L1210.5 1094.2L1211.0 1097.9L1211.5 1101.3L1212.0 1104.2L1212.5 1104.5L1213.0 1104.5L1213.5 1105.1L1214.0 1106.0L1214.5 1106.7L1215.0 1107.9L1215.5 1108.5L1216.0 1108.5L1216.5 1108.1L1217.0 1107.6L1217.5 1107.1L1218.0 1107.5L1218.5 1108.2L1219.0 1109.1L1219.5 1110.2L1220.0 1111.5L1220.5 1112.6L1221.0 1112.8L1221.5 1112.9L1222.0 1113.2L1222.5 1113.5L1223.0 1113.7L1223.5 1114.5L1224.0 1115.1L1224.5 1115.3L1225.0 1116.2L1225.5 1117.2L1226.0 1117.2L1226.5 1116.7L1227.0 1116.7L1227.5 1117.2L1228.0 1117.9L1228.5 1118.4L1229.0 1118.5L1229.5 1119.4L1230.0 1120.7L1230.5 1121.1L1231.0 1120.7L1231.5 1119.9L1232.0 1119.2L1232.5 1118.4L1233.0 1117.6L1233.5 1116.9L1234.0 1116.3L1234.5 1115.8L1235.0 1115.6L1235.5 1115.5L1236.0 1115.4L1236.5 1115.5L1237.0 1115.9L1237.5 1116.3L1238.0 1116.8L1238.5 1116.9L1239.0 1117.2L1239.5 1117.7L1240.0 1117.8L1240.5 1117.6L1241.0 1117.4L1241.5 1117.3L1242.0 1117.3L1242.5 1116.9L1243.0 1116.4L1243.5 1116.9L1244.0 1117.5L1244.5 1117.6L1245.0 1118.1L1245.5 1117.8L1246.0 1116.8L1246.5 1116.4L1247.0 1116.6L1247.5 1116.6L1248.0 1116.2L1248.5 1116.1L1249.0 1115.6L1249.5 1114.9L1250.0 1114.5L1250.5 1114.2L1251.0 1113.7L1251.5 1113.6L1252.0 1113.5L1252.5 1113.4L1253.0 1114.7L1253.5 1116.3L1254.0 1117.4L1254.5 1117.6L1255.0 1117.5L1255.5 1117.6L1256.0 1118.2L1256.5 1118.5L1257.0 1118.1L1257.5 1117.8L1258.0 1117.3L1258.5 1116.5L1259.0 1115.9L1259.5 1115.9L1260.0 1115.9L1260.5 1115.7L1261.0 1115.1L1261.5 1114.6L1262.0 1115.1L1262.5 1115.6L1263.0 1116.3L1263.5 1116.6L1264.0 1115.6L1264.5 1115.1L1265.0 1114.8L1265.5 1114.0L1266.0 1113.6L1266.5 1113.8L1267.0 1113.0L1267.5 1112.6L1268.0 1113.2L1268.5 1114.0L1269.0 1113.5L1269.5 1113.4L1270.0 1113.1L1270.5 1112.9L1271.0 1113.8L1271.5 1113.7L1272.0 1113.2L1272.5 1112.2L1272.6 1112.1L1273.0 1111.8L1273.5 1110.4L1274.0 1109.5L1274.5 1110.9L1275.0 1111.2L1275.5 1111.0L1276.0 1111.4L1276.5 1112.4L1277.0 1113.6L1277.5 1113.7L1278.0 1114.7L1278.5 1115.5L1279.0 1114.9L1279.5 1114.2L1280.0 1113.2L1280.5 1112.0L1281.0 1112.0L1281.5 1110.7L1282.0 1110.2L1282.5 1110.9L1283.0 1111.5L1283.5 1110.8L1284.0 1109.6L1284.5 1110.2L1284.6 1110.3L1285.0 1111.1L1285.5 1109.8L1286.0 1108.7L1286.5 1109.2L1287.0 1110.0L1287.5 1109.9L1288.0 1110.1L1288.5 1111.1L1289.0 1110.1L1289.5 1109.4L1290.0 1109.4L1290.5 1108.2L1291.0 1107.2L1291.5 1106.1L1292.0 1104.6L1292.5 1102.2L1293.0 1099.5L1293.5 1096.8L1294.0 1094.5L1294.5 1094.9L1295.0 1095.7L1295.5 1092.8L1296.0 1093.1L1296.5 1092.7L1297.0 1087.9L1297.5 1083.3L1298.0 1082.5L1298.5 1080.6L1299.0 1078.4L1299.5 1073.0L1300.0 1066.5L1300.5 1063.1L1301.0 1067.0L1301.5 1070.6L1302.0 1069.9L1302.5 1064.6L1303.0 1057.8L1303.5 1057.4L1304.0 1055.6L1304.5 1052.9L1305.0 1054.5L1305.5 1057.8L1306.0 1061.5L1306.5 1059.0L1307.0 1055.4L1307.5 1059.5L1308.0 1067.8L1308.5 1071.4L1309.0 1073.3L1309.5 1074.3L1310.0 1077.3L1310.5 1078.9L1311.0 1081.1L1311.5 1087.4L1312.0 1090.5L1312.5 1089.5L1313.0 1089.6L1313.5 1093.1L1314.0 1096.9L1314.5 1098.8L1315.0 1102.4L1315.5 1102.9L1316.0 1102.4L1316.5 1103.6L1317.0 1106.1L1317.5 1105.6L1318.0 1102.6L1318.5 1100.1L1319.0 1102.1L1319.5 1102.9L1320.0 1103.3L1320.5 1105.0L1321.0 1106.7L1321.5 1109.3L1322.0 1111.2L1322.5 1112.1L1323.0 1113.2L1323.5 1113.3L1324.0 1113.7L1324.5 1114.0L1325.0 1114.7L1325.5 1115.7L1326.0 1115.4L1326.5 1114.0L1327.0 1113.8L1327.5 1113.6L1328.0 1112.6L1328.5 1111.9L1329.0 1110.8L1329.5 1110.6L1330.0 1110.5L1330.5 1109.6L1331.0 1109.2L1331.5 1109.6L1332.0 1109.3L1332.5 1110.0L1333.0 1111.9L1333.5 1113.1L1334.0 1114.0L1334.5 1115.3L1335.0 1116.5L1335.5 1117.3L1336.0 1116.7L1336.5 1115.9L1337.0 1115.9L1337.5 1116.5L1338.0 1117.2L1338.5 1118.2L1339.0 1118.3L1339.5 1118.1L1340.0 1117.2L1340.5 1115.7L1341.0 1114.2L1341.5 1113.4L1342.0 1113.0L1342.5 1112.2L1343.0 1111.8L1343.5 1112.9L1344.0 1114.0L1344.5 1114.6L1345.0 1114.7L1345.5 1115.2L1346.0 1115.7L1346.5 1116.1L1347.0 1116.4L1347.5 1116.7L1348.0 1116.4L1348.5 1115.8L1349.0 1116.7L1349.5 1117.1L1350.0 1116.9L1350.5 1116.9L1351.0 1116.7L1351.5 1116.1L1352.0 1116.1L1352.5 1117.1L1353.0 1117.0L1353.5 1116.2L1354.0 1116.3L1354.5 1116.8L1355.0 1117.2L1355.5 1117.5L1356.0 1117.9L1356.5 1118.0L1357.0 1117.3L1357.5 1116.4L1358.0 1116.1L1358.5 1115.8L1359.0 1116.0L1359.5 1115.8L1360.0 1115.7L1360.5 1116.5L1361.0 1117.0L1361.5 1117.0L1362.0 1117.7L1362.5 1118.6L1363.0 1118.0L1363.5 1116.7L1364.0 1116.4L1364.5 1116.2L1365.0 1115.4L1365.5 1115.3L1366.0 1115.7L1366.5 1115.8L1367.0 1115.7L1367.5 1116.4L1368.0 1117.2L1368.5 1117.5L1369.0 1117.3L1369.5 1117.2L1370.0 1116.8L1370.5 1116.5L1371.0 1116.3L1371.5 1116.4L1372.0 1116.6L1372.5 1116.3L1373.0 1115.9L1373.5 1116.0L1374.0 1115.8L1374.5 1115.1L1375.0 1115.3L1375.5 1116.0L1376.0 1116.8L1376.5 1117.5L1377.0 1117.6L1377.5 1117.5L1378.0 1117.5L1378.5 1117.3L1379.0 1117.0L1379.5 1116.1L1380.0 1114.8L1380.5 1114.3L1381.0 1115.0L1381.5 1115.6L1382.0 1116.0L1382.5 1116.2L1383.0 1116.7L1383.5 1117.4L1384.0 1117.5L1384.5 1117.9L1385.0 1118.2L1385.5 1118.3L1386.0 1118.5L1386.5 1118.4L1387.0 1118.5L1387.5 1117.9L1388.0 1117.6L1388.5 1117.5L1389.0 1117.3L1389.5 1116.6L1390.0 1115.3L1390.5 1114.3L1391.0 1113.5L1391.5 1112.8L1392.0 1112.4L1392.5 1112.3L1393.0 1112.2L1393.5 1112.9L1394.0 1112.8L1394.5 1112.1L1395.0 1111.7L1395.5 1109.1L1396.0 1106.9L1396.3 1107.3L1396.5 1108.3L1397.0 1110.6L1397.5 1110.0L1398.0 1110.1L1398.5 1110.5L1399.0 1111.5L1399.5 1112.2L1400.0 1112.5L1400.5 1113.4L1401.0 1113.7L1401.5 1113.8L1402.0 1113.9L1402.5 1113.4L1403.0 1112.1L1403.5 1111.2L1404.0 1111.0L1404.5 1110.6L1405.0 1109.8L1405.5 1109.7L1406.0 1109.5L1406.5 1109.6L1407.0 1110.8L1407.5 1112.2L1408.0 1111.9L1408.3 1111.7L1408.5 1111.8L1409.0 1111.1L1409.5 1110.6L1410.0 1111.1L1410.5 1112.2L1411.0 1113.2L1411.5 1113.5L1412.0 1113.8L1412.5 1113.7L1413.0 1113.6L1413.5 1114.0L1414.0 1113.7L1414.5 1112.8L1415.0 1112.5L1415.5 1112.3L1416.0 1111.9L1416.5 1111.2L1417.0 1110.6L1417.5 1110.8L1418.0 1111.3L1418.5 1110.9L1419.0 1110.7L1419.5 1111.0L1420.0 1111.0L1420.5 1111.3L1421.0 1111.6L1421.5 1111.6L1422.0 1111.2L1422.5 1111.1L1423.0 1110.5L1423.5 1110.4L1424.0 1109.8L1424.5 1108.0L1425.0 1106.5L1425.5 1103.9L1426.0 1101.9L1426.5 1101.0L1427.0 1099.5L1427.5 1099.1L1428.0 1100.8L1428.5 1101.6L1429.0 1100.8L1429.5 1100.7L1430.0 1101.9L1430.5 1102.2L1431.0 1101.9L1431.5 1101.6L1432.0 1101.8L1432.5 1102.2L1433.0 1102.2L1433.5 1103.7L1434.0 1105.2L1434.5 1105.5L1435.0 1105.7L1435.5 1106.0L1436.0 1104.4L1436.5 1102.7L1437.0 1102.0L1437.5 1101.3L1438.0 1101.3L1438.5 1102.0L1439.0 1103.3L1439.5 1102.9L1440.0 1104.0L1440.5 1105.6L1441.0 1103.6L1441.5 1101.0L1442.0 1101.7L1442.5 1103.5L1443.0 1104.1L1443.5 1104.1L1444.0 1101.5L1444.5 1100.8L1445.0 1100.8L1445.5 1099.9L1446.0 1097.8L1446.5 1094.9L1447.0 1095.0L1447.5 1096.3L1448.0 1093.7L1448.5 1090.4L1449.0 1090.0L1449.5 1087.6L1450.0 1085.3L1450.5 1082.3L1451.0 1081.6L1451.5 1079.4L1452.0 1075.1L1452.5 1076.2L1453.0 1076.7L1453.5 1076.3L1454.0 1068.7L1454.5 1058.4L1455.0 1055.3L1455.5 1054.9L1456.0 1049.9L1456.4 1046.0L1456.5 1045.6L1457.0 1044.6L1457.5 1039.7L1458.0 1035.7L1458.5 1030.7L1459.0 1027.2L1459.5 1030.1L1460.0 1031.1L1460.5 1028.8L1460.6 1028.4L1461.0 1030.0L1461.5 1030.7L1462.0 1033.1L1462.5 1032.5L1463.0 1030.4L1463.5 1031.2L1464.0 1034.8L1464.5 1040.4L1465.0 1043.8L1465.5 1046.4L1466.0 1051.4L1466.5 1062.4L1467.0 1066.4L1467.5 1062.0L1468.0 1062.6L1468.5 1066.0L1469.0 1066.1L1469.5 1067.8L1470.0 1072.1L1470.5 1078.6L1471.0 1079.2L1471.5 1081.4L1472.0 1085.2L1472.5 1087.1L1473.0 1089.5L1473.5 1096.1L1474.0 1101.1L1474.5 1096.2L1475.0 1091.8L1475.5 1092.4L1476.0 1094.0L1476.5 1095.8L1477.0 1096.6L1477.5 1100.7L1478.0 1103.0L1478.5 1102.5L1479.0 1102.0L1479.5 1101.2L1480.0 1101.7L1480.5 1103.8L1481.0 1105.0L1481.5 1107.3L1482.0 1107.7L1482.5 1107.2L1483.0 1107.1L1483.5 1107.3L1484.0 1107.1L1484.5 1107.6L1485.0 1107.8L1485.5 1107.5L1486.0 1107.5L1486.5 1109.0L1487.0 1111.6L1487.5 1113.0L1488.0 1112.5L1488.5 1112.4L1489.0 1113.2L1489.5 1113.4L1490.0 1114.2L1490.5 1113.7L1491.0 1113.7L1491.5 1114.3L1492.0 1114.0L1492.5 1114.6L1493.0 1115.9L1493.5 1116.6L1494.0 1116.4L1494.5 1115.2L1495.0 1114.2L1495.5 1113.8L1496.0 1113.1L1496.5 1113.4L1497.0 1114.6L1497.5 1115.2L1498.0 1114.1L1498.5 1112.8L1499.0 1112.9L1499.5 1113.7L1500.0 1113.4L1500.5 1113.7L1501.0 1114.8L1501.5 1115.8L1502.0 1116.4L1502.5 1116.0L1503.0 1115.6L1503.5 1115.1L1504.0 1114.9L1504.5 1114.9L1505.0 1115.1L1505.5 1115.1L1506.0 1114.9L1506.5 1114.7L1507.0 1113.9L1507.5 1113.5L1508.0 1113.0L1508.5 1112.3L1509.0 1112.2L1509.5 1112.5L1510.0 1113.3L1510.5 1114.2L1511.0 1114.7L1511.5 1115.1L1512.0 1115.5L1512.5 1115.7L1513.0 1115.2L1513.5 1114.7L1514.0 1114.5L1514.5 1114.7L1515.0 1114.6L1515.5 1114.3L1516.0 1113.8L1516.5 1114.0L1517.0 1114.5L1517.5 1114.7L1518.0 1115.0L1518.5 1116.2L1519.0 1117.1L1519.5 1117.0L1520.0 1116.6L1520.5 1116.0L1521.0 1115.5L1521.5 1115.7L1522.0 1116.1L1522.5 1116.0L1523.0 1116.3L1523.5 1116.7L1524.0 1116.8L1524.5 1116.5L1525.0 1116.1L1525.5 1115.2L1526.0 1114.7L1526.5 1115.0L1527.0 1115.5L1527.5 1115.3L1528.0 1115.2L1528.5 1115.7L1529.0 1116.0L1529.5 1115.6L1530.0 1115.6L1530.5 1116.3L1531.0 1117.0L1531.5 1117.1L1532.0 1116.6L1532.5 1115.5L1533.0 1114.8L1533.5 1115.2L1534.0 1115.4L1534.5 1115.4L1535.0 1115.9L1535.5 1116.3L1536.0 1116.8L1536.5 1117.0L1537.0 1116.8L1537.5 1117.1L1538.0 1116.7L1538.5 1116.1L1539.0 1116.1L1539.5 1115.6L1540.0 1114.6L1540.5 1113.3L1541.0 1112.4L1541.5 1111.2L1542.0 1111.3L1542.5 1112.7L1543.0 1113.0L1543.5 1112.0L1544.0 1110.3L1544.5 1108.3L1545.0 1104.5L1545.4 1104.8L1545.5 1105.1L1546.0 1109.0L1546.5 1110.9L1547.0 1110.8L1547.5 1109.9L1548.0 1111.8L1548.5 1114.5L1549.0 1115.3L1549.5 1115.3L1550.0 1114.7L1550.5 1113.7L1551.0 1113.7L1551.5 1113.8L1552.0 1114.6L1552.5 1116.1L1553.0 1116.8L1553.5 1116.9L1554.0 1116.9L1554.5 1116.9L1555.0 1117.3L1555.5 1117.9L1556.0 1117.9L1556.5 1118.1L1557.0 1118.5L1557.5 1118.6L1558.0 1118.4L1558.5 1118.2L1559.0 1118.2L1559.5 1117.8L1560.0 1116.7L1560.5 1115.2L1561.0 1114.1L1561.5 1113.5L1562.0 1113.1L1562.5 1112.9L1563.0 1113.0L1563.5 1113.4L1564.0 1113.8L1564.5 1113.7L1565.0 1113.3L1565.5 1113.3L1566.0 1113.6L1566.5 1113.6L1567.0 1113.4L1567.5 1113.5L1568.0 1114.0L1568.5 1115.3L1569.0 1116.7L1569.5 1118.1L1570.0 1119.3L1570.5 1119.3L1571.0 1118.2L1571.5 1116.9L1572.0 1116.2L1572.5 1115.3L1573.0 1115.0L1573.5 1115.3L1574.0 1115.9L1574.5 1116.3L1575.0 1116.5L1575.5 1116.7L1576.0 1117.1L1576.5 1117.3L1577.0 1117.5L1577.5 1117.6L1578.0 1118.0L1578.5 1118.5L1579.0 1118.8L1579.5 1118.6L1580.0 1117.9L1580.5 1116.9L1581.0 1115.9L1581.5 1115.1L1582.0 1114.4L1582.5 1114.1L1583.0 1114.4L1583.5 1114.7L1584.0 1114.9L1584.5 1115.3L1585.0 1115.9L1585.5 1116.9L1586.0 1117.7L1586.5 1117.9L1587.0 1117.7L1587.5 1117.2L1588.0 1116.6L1588.5 1115.9L1589.0 1115.6L1589.5 1115.6L1590.0 1116.1L1590.5 1116.6L1591.0 1116.9L1591.5 1116.9L1592.0 1117.0L1592.5 1116.6L1593.0 1116.1L1593.5 1115.9L1594.0 1116.1L1594.5 1116.0L1595.0 1115.9L1595.5 1115.8L1596.0 1116.1L1596.5 1116.5L1597.0 1116.7L1597.5 1117.0L1598.0 1117.1L1598.5 1117.1L1599.0 1117.3L1599.5 1117.2L1600.0 1117.0L1600.5 1116.5L1601.0 1115.7L1601.5 1115.6L1602.0 1115.8L1602.5 1116.2L1603.0 1116.8L1603.5 1117.2L1604.0 1117.0L1604.5 1116.3L1605.0 1115.7L1605.5 1115.3L1606.0 1114.9L1606.5 1114.7L1607.0 1114.9L1607.5 1115.3L1608.0 1115.8L1608.5 1116.2L1609.0 1116.2L1609.5 1115.9L1610.0 1115.3L1610.5 1114.5L1611.0 1113.7L1611.5 1113.4L1612.0 1113.2L1612.5 1112.8L1613.0 1112.7L1613.5 1113.0L1614.0 1113.4L1614.5 1113.8L1615.0 1114.0L1615.5 1114.4L1616.0 1114.9L1616.5 1115.4L1617.0 1115.6L1617.5 1115.3L1618.0 1115.2L1618.5 1115.3L1619.0 1115.2L1619.5 1115.1L1620.0 1115.3L1620.5 1115.8L1621.0 1117.0L1621.5 1118.3L1622.0 1119.2L1622.5 1119.4L1623.0 1118.9L1623.5 1118.1L1624.0 1117.4L1624.5 1116.8L1625.0 1115.9L1625.5 1115.4L1626.0 1115.0L1626.5 1114.3L1627.0 1114.0L1627.5 1114.8L1628.0 1115.8L1628.5 1116.9L1629.0 1117.5L1629.5 1117.8L1630.0 1116.8L1630.5 1115.6L1631.0 1113.5L1631.5 1112.7L1632.0 1113.2L1632.5 1114.5L1633.0 1114.5L1633.5 1113.7L1634.0 1112.9L1634.5 1112.8L1635.0 1113.1L1635.5 1113.0L1636.0 1113.0L1636.5 1112.9L1637.0 1113.8L1637.5 1114.8L1638.0 1115.2L1638.5 1115.1L1639.0 1114.9L1639.5 1114.5L1640.0 1113.9L1640.5 1113.5L1641.0 1113.6L1641.5 1113.8L1642.0 1114.0L1642.5 1114.2L1643.0 1114.7L1643.5 1115.2L1644.0 1115.5L1644.5 1115.8L1645.0 1115.7L1645.5 1114.8L1646.0 1113.9L1646.5 1113.5L1647.0 1113.4L1647.5 1114.0L1648.0 1114.9L1648.5 1115.3L1649.0 1115.6L1649.5 1115.9L1650.0 1115.9L1650.5 1115.9L1651.0 1116.2L1651.5 1116.7L1652.0 1116.9L1652.5 1116.9L1653.0 1116.7L1653.5 1116.5L1654.0 1115.8L1654.5 1115.1L1655.0 1114.7L1655.5 1114.6L1656.0 1114.7L1656.5 1114.5L1657.0 1114.2L1657.5 1114.0L1658.0 1114.1L1658.5 1114.5L1659.0 1114.8L1659.5 1115.3" stroke="#000" />
<path d="M132.5 772.4L132.6 772.3L133.0 773.0L133.5 774.1L134.0 775.1L134.5 775.7L135.0 776.0L135.5 776.1L136.0 776.4L136.5 776.7L137.0 777.4L137.5 778.2L138.0 779.1L138.5 779.9L139.0 780.5L139.5 781.1L140.0 781.5L140.5 781.6L141.0 781.3L141.4 780.9L141.5 780.9L142.0 780.5L142.5 779.9L143.0 779.0L143.5 778.1L144.0 777.3L144.5 776.9L145.0 776.7L145.5 776.6L146.0 776.5L146.5 776.6L147.0 776.8L147.5 777.5L148.0 778.4L148.5 779.5L149.0 780.3L149.5 780.6L150.0 780.5L150.5 780.0L151.0 779.6L151.5 779.5L152.0 779.9L152.5 780.4L153.0 780.8L153.5 780.8L154.0 780.4L154.5 779.7L155.0 779.0L155.5 778.5L156.0 778.4L156.5 778.4L157.0 778.4L157.5 778.3L158.0 778.0L158.5 777.5L159.0 776.9L159.5 776.0L160.0 774.9L160.5 773.4L161.0 771.7L161.5 770.1L161.7 769.6L162.0 769.4L162.5 769.8L163.0 770.7L163.5 771.8L164.0 772.5L164.5 772.8L165.0 772.7L165.5 772.1L166.0 770.9L166.5 769.2L167.0 768.0L167.5 769.0L168.0 770.1L168.5 770.5L169.0 770.1L169.5 769.1L170.0 767.8L170.5 767.0L171.0 768.7L171.5 770.9L172.0 772.8L172.5 774.2L173.0 775.3L173.5 776.3L174.0 777.2L174.5 777.9L175.0 778.4L175.5 778.6L176.0 778.3L176.5 777.8L177.0 777.3L177.5 777.1L178.0 777.2L178.5 777.5L179.0 777.7L179.5 777.9L180.0 778.2L180.5 778.5L181.0 778.8L181.5 779.0L182.0 778.9L182.5 778.6L183.0 778.1L183.5 777.4L184.0 776.6L184.5 776.1L185.0 776.0L185.5 776.3L186.0 777.0L186.5 777.9L187.0 778.8L187.5 779.6L188.0 780.0L188.5 780.1L189.0 779.8L189.5 779.4L190.0 778.9L190.5 778.5L191.0 778.1L191.5 777.8L192.0 777.4L192.5 777.1L193.0 777.0L193.5 777.1L194.0 777.3L194.5 777.6L195.0 777.8L195.5 778.2L196.0 778.8L196.5 779.5L197.0 780.3L197.5 780.8L198.0 780.9L198.5 780.4L199.0 779.4L199.5 778.1L200.0 776.7L200.5 775.8L201.0 775.4L201.5 775.3L202.0 775.6L202.5 776.1L203.0 776.6L203.5 777.4L204.0 778.1L204.5 778.6L205.0 778.9L205.5 778.8L206.0 777.3L206.5 775.0L207.0 771.6L207.5 767.0L208.0 761.9L208.3 759.8L208.5 760.7L209.0 764.5L209.5 768.3L210.0 770.2L210.5 770.6L211.0 769.6L211.5 766.8L212.0 763.7L212.5 760.0L212.7 757.0L213.0 754.0L213.5 748.9L214.0 743.6L214.5 737.5L215.0 730.2L215.5 721.5L216.0 711.5L216.5 700.2L217.0 688.8L217.5 677.7L218.0 689.7L218.5 702.5L219.0 715.6L219.5 728.2L220.0 739.7L220.5 750.2L221.0 759.9L221.5 769.1L222.0 777.5L222.5 784.4L223.0 785.7L223.5 785.4L224.0 785.0L224.5 784.8L225.0 784.9L225.5 785.3L226.0 785.9L226.5 786.3L227.0 786.6L227.5 786.7L228.0 786.8L228.5 786.8L229.0 786.7L229.5 786.3L230.0 785.8L230.5 785.0L231.0 784.3L231.5 783.6L232.0 783.1L232.5 782.7L233.0 782.6L233.5 782.6L234.0 783.0L234.5 783.6L235.0 784.3L235.5 784.8L236.0 785.0L236.5 784.8L237.0 784.6L237.5 784.9L238.0 785.6L238.5 786.8L239.0 788.0L239.5 788.8L240.0 788.9L240.5 788.4L241.0 787.6L241.5 786.6L242.0 786.0L242.5 785.9L243.0 786.1L243.5 786.3L244.0 786.4L244.5 786.4L245.0 786.4L245.5 786.5L246.0 786.4L246.5 786.0L247.0 785.3L247.5 784.4L248.0 783.8L248.5 783.5L249.0 783.7L249.5 784.1L250.0 784.6L250.5 785.0L251.0 785.4L251.5 785.9L252.0 786.5L252.5 787.1L253.0 787.4L253.5 787.3L254.0 786.8L254.5 786.3L255.0 786.1L255.5 786.1L256.0 786.3L256.5 786.5L257.0 786.4L257.5 786.1L258.0 785.8L258.5 785.6L259.0 785.7L259.5 786.2L260.0 787.0L260.5 787.6L261.0 787.8L261.5 787.6L262.0 787.1L262.5 786.6L263.0 786.4L263.5 786.6L264.0 787.1L264.5 787.7L265.0 788.2L265.5 788.6L266.0 789.0L266.5 789.3L267.0 789.2L267.5 788.6L268.0 787.5L268.5 786.2L269.0 785.1L269.5 784.5L270.0 784.6L270.5 785.4L271.0 786.5L271.5 787.6L272.0 788.3L272.5 788.5L273.0 788.5L273.5 788.3L274.0 788.0L274.5 787.7L275.0 787.4L275.5 787.4L276.0 787.7L276.5 788.2L277.0 788.7L277.5 789.0L278.0 789.0L278.5 788.7L279.0 788.1L279.5 787.4L280.0 786.6L280.5 785.9L281.0 785.5L281.5 785.4L282.0 785.6L282.5 786.1L283.0 786.8L283.5 787.6L284.0 788.3L284.5 788.5L285.0 788.3L285.5 787.9L286.0 787.4L286.5 787.2L287.0 787.1L287.5 787.2L288.0 787.3L288.5 787.5L289.0 787.7L289.5 788.1L290.0 788.5L290.5 788.8L291.0 788.8L291.5 788.5L292.0 787.8L292.5 787.0L293.0 786.1L293.5 785.2L294.0 784.6L294.5 784.5L295.0 785.0L295.5 785.9L296.0 787.0L296.5 787.9L297.0 788.7L297.5 789.2L298.0 789.5L298.5 789.6L299.0 789.5L299.5 789.2L300.0 788.5L300.5 787.7L301.0 786.8L301.5 786.0L302.0 785.5L302.5 785.3L303.0 785.5L303.5 786.0L304.0 786.6L304.5 787.0L305.0 787.1L305.5 786.7L306.0 786.1L306.5 785.6L307.0 785.2L307.5 785.3L308.0 785.7L308.5 786.4L309.0 787.1L309.5 787.7L310.0 788.0L310.5 788.3L311.0 788.6L311.5 788.9L312.0 789.3L312.5 789.8L313.0 790.3L313.5 790.6L314.0 790.4L314.5 789.6L315.0 788.4L315.5 787.2L316.0 786.3L316.5 785.9L317.0 785.8L317.5 786.1L318.0 786.4L318.5 786.7L319.0 787.1L319.5 787.6L320.0 788.1L320.5 788.4L321.0 788.6L321.5 788.6L322.0 788.5L322.5 788.3L323.0 787.9L323.5 787.4L324.0 787.0L324.5 786.7L325.0 786.7L325.5 787.1L326.0 787.6L326.5 788.2L327.0 788.7L327.5 789.0L328.0 789.2L328.5 789.3L329.0 789.4L329.5 789.4L330.0 789.3L330.5 789.1L331.0 789.0L331.5 789.0L332.0 789.0L332.5 789.0L333.0 788.8L333.5 788.4L334.0 787.7L334.5 786.9L335.0 786.0L335.5 785.2L336.0 784.9L336.5 784.9L337.0 785.5L337.5 786.5L338.0 787.6L338.5 788.7L339.0 789.4L339.5 789.7L340.0 789.7L340.5 789.8L341.0 790.0L341.5 790.3L342.0 790.4L342.5 790.3L343.0 789.8L343.5 789.3L344.0 788.9L344.5 788.7L345.0 788.8L345.5 789.1L346.0 789.4L346.5 789.7L347.0 789.8L347.5 789.7L348.0 789.7L348.5 789.8L349.0 790.2L349.5 790.8L350.0 791.4L350.5 791.7L351.0 791.7L351.5 791.3L352.0 790.8L352.5 790.5L353.0 790.3L353.5 790.4L354.0 790.4L354.5 790.2L355.0 789.9L355.5 789.6L356.0 789.6L356.5 789.9L357.0 790.3L357.5 790.4L358.0 790.2L358.5 789.9L359.0 789.8L359.5 789.9L360.0 790.1L360.5 790.3L361.0 790.3L361.5 790.2L362.0 790.3L362.5 790.4L363.0 790.6L363.5 790.8L364.0 790.8L364.5 790.7L365.0 790.8L365.5 790.9L366.0 790.9L366.5 790.8L367.0 790.5L367.5 790.0L368.0 789.6L368.5 789.4L369.0 789.5L369.5 789.6L370.0 789.5L370.5 789.2L371.0 788.8L371.5 788.6L372.0 788.8L372.5 789.4L373.0 790.0L373.5 790.3L374.0 790.2L374.5 789.7L375.0 789.0L375.5 788.3L376.0 787.8L376.5 787.4L377.0 787.2L377.5 786.8L378.0 786.3L378.5 785.6L379.0 784.7L379.5 783.8L380.0 781.2L380.5 775.2L381.0 768.3L381.5 760.7L382.0 752.4L382.5 743.5L383.0 734.5L383.5 725.8L384.0 716.9L384.5 706.7L384.9 699.2L385.0 700.8L385.5 712.0L386.0 725.4L386.5 736.9L387.0 745.7L387.5 753.2L388.0 760.1L388.5 766.8L389.0 773.3L389.5 779.1L390.0 783.7L390.5 784.1L391.0 784.2L391.5 784.4L392.0 784.7L392.5 785.0L393.0 784.9L393.5 784.4L394.0 783.8L394.5 783.3L395.0 783.0L395.5 783.1L396.0 783.3L396.5 783.5L397.0 783.7L397.5 783.9L398.0 784.0L398.5 784.2L399.0 784.5L399.5 784.8L400.0 785.0L400.5 785.0L401.0 785.1L401.5 785.2L402.0 785.3L402.5 785.4L403.0 785.5L403.5 785.3L404.0 785.1L404.5 784.9L405.0 784.6L405.5 784.5L406.0 784.4L406.5 784.5L407.0 784.8L407.5 785.4L408.0 786.1L408.5 786.8L409.0 787.6L409.5 788.1L410.0 788.5L410.5 788.2L411.0 787.7L411.5 787.2L412.0 787.1L412.5 787.3L413.0 787.7L413.5 788.1L414.0 788.3L414.5 788.3L415.0 788.0L415.5 787.5L416.0 786.9L416.5 786.3L417.0 785.8L417.5 785.5L418.0 785.5L418.5 785.7L419.0 783.3L419.5 774.4L420.0 763.7L420.5 751.8L421.0 739.0L421.5 725.2L422.0 710.4L422.5 694.4L423.0 677.6L423.5 660.8L424.0 645.1L424.5 629.7L425.0 644.6L425.5 658.6L426.0 672.1L426.5 685.6L427.0 699.3L427.5 712.9L428.0 726.4L428.5 738.8L429.0 750.0L429.5 762.8L430.0 775.2L430.5 780.7L431.0 783.0L431.5 784.8L432.0 786.4L432.5 788.0L433.0 789.3L433.5 790.5L434.0 791.1L434.5 791.0L435.0 790.2L435.5 789.2L436.0 788.1L436.5 787.1L437.0 786.5L437.5 786.4L438.0 786.7L438.5 787.4L439.0 788.2L439.5 788.8L440.0 789.0L440.5 788.8L441.0 788.6L441.5 788.6L442.0 788.7L442.5 788.9L443.0 788.8L443.5 788.4L444.0 787.8L444.5 787.0L445.0 786.1L445.5 785.4L446.0 784.9L446.5 785.0L447.0 785.6L447.5 786.5L448.0 787.4L448.5 787.8L449.0 787.7L449.5 787.2L450.0 786.7L450.5 786.3L451.0 786.1L451.5 786.0L452.0 786.0L452.5 786.1L453.0 786.5L453.5 786.9L454.0 787.3L454.5 787.5L455.0 787.4L455.5 787.1L456.0 786.9L456.5 787.0L457.0 787.3L457.5 787.8L458.0 788.3L458.5 788.7L459.0 788.9L459.5 788.8L460.0 788.4L460.5 787.7L461.0 786.8L461.5 785.9L462.0 785.3L462.5 785.3L463.0 785.7L463.5 786.4L464.0 787.1L464.5 787.5L465.0 787.5L465.5 786.6L466.0 784.6L466.5 781.9L467.0 778.6L467.5 775.1L468.0 771.4L468.5 767.6L469.0 763.7L469.5 759.7L470.0 755.5L470.5 751.4L471.0 748.7L471.5 751.3L472.0 755.6L472.5 760.8L473.0 766.0L473.5 770.4L474.0 773.9L474.5 776.2L475.0 777.5L475.5 778.2L476.0 777.7L476.5 775.6L477.0 772.2L477.5 768.1L478.0 763.4L478.5 758.4L479.0 752.8L479.5 746.5L480.0 740.7L480.3 738.4L480.5 740.0L481.0 746.2L481.5 754.1L482.0 761.9L482.5 768.3L483.0 773.1L483.5 776.5L484.0 779.2L484.5 781.5L485.0 782.8L485.5 783.1L486.0 783.4L486.5 783.8L487.0 784.5L487.5 785.5L488.0 786.6L488.5 787.4L489.0 787.8L489.5 787.5L490.0 786.4L490.5 784.4L491.0 781.9L491.5 778.9L492.0 775.2L492.5 772.1L492.6 771.8L493.0 773.9L493.5 777.9L494.0 781.5L494.5 784.3L495.0 786.4L495.5 787.8L496.0 788.3L496.5 788.7L497.0 789.1L497.5 789.4L498.0 789.5L498.5 789.4L499.0 789.0L499.5 788.5L500.0 788.2L500.5 788.2L501.0 788.3L501.5 788.6L502.0 788.7L502.5 788.7L503.0 788.4L503.5 788.2L504.0 788.2L504.5 788.4L505.0 788.9L505.5 789.6L506.0 790.3L506.5 790.9L507.0 791.2L507.5 791.2L508.0 790.9L508.5 790.4L509.0 790.2L509.5 790.2L510.0 790.4L510.5 790.6L511.0 790.8L511.5 790.7L512.0 790.4L512.5 790.0L513.0 789.6L513.5 789.5L514.0 789.6L514.5 789.8L515.0 790.2L515.5 790.5L516.0 790.7L516.5 790.7L517.0 790.7L517.5 790.7L518.0 790.9L518.5 791.1L519.0 791.0L519.5 790.7L520.0 790.1L520.5 789.5L521.0 788.9L521.5 788.5L522.0 788.4L522.5 788.5L523.0 788.6L523.5 788.5L524.0 788.1L524.5 787.7L525.0 787.4L525.5 787.2L526.0 787.4L526.5 787.7L527.0 787.9L527.5 788.0L528.0 787.9L528.5 787.8L529.0 787.9L529.5 788.3L530.0 788.9L530.5 789.5L531.0 789.7L531.5 789.4L532.0 788.6L532.5 787.8L533.0 787.3L533.5 787.2L534.0 787.5L534.5 788.0L535.0 788.4L535.5 788.1L536.0 787.1L536.5 785.9L537.0 784.3L537.5 782.4L538.0 779.9L538.5 776.7L539.0 773.0L539.5 769.0L540.0 765.8L540.5 763.9L540.8 763.2L541.0 763.7L541.5 765.1L542.0 767.4L542.5 771.1L543.0 775.6L543.5 779.8L544.0 783.2L544.5 785.8L545.0 787.8L545.5 789.6L546.0 791.1L546.5 792.6L547.0 793.2L547.5 793.4L548.0 793.2L548.5 792.9L549.0 792.7L549.5 792.7L550.0 793.0L550.5 793.1L551.0 793.1L551.5 792.9L552.0 792.6L552.5 792.5L553.0 792.6L553.5 793.1L554.0 793.8L554.5 794.3L555.0 794.5L555.5 794.2L556.0 793.6L556.5 792.9L557.0 792.4L557.5 792.0L558.0 791.8L558.5 791.6L559.0 791.2L559.5 790.5L560.0 789.7L560.5 789.0L561.0 788.6L561.5 788.6L562.0 788.9L562.5 789.2L563.0 789.5L563.5 789.5L564.0 789.4L564.5 789.2L565.0 789.0L565.5 788.8L566.0 788.8L566.5 788.9L567.0 789.1L567.5 789.0L568.0 788.4L568.5 787.2L569.0 785.8L569.5 784.4L570.0 783.4L570.5 782.8L571.0 782.7L571.5 783.6L572.0 784.7L572.5 785.9L573.0 787.3L573.5 788.7L574.0 790.0L574.5 790.9L575.0 791.5L575.5 791.8L576.0 791.7L576.5 791.1L577.0 790.0L577.5 788.5L578.0 787.1L578.5 786.3L579.0 786.3L579.5 786.8L580.0 787.4L580.5 787.6L581.0 787.3L581.5 786.7L582.0 785.8L582.5 784.8L583.0 783.9L583.5 782.9L584.0 781.7L584.5 780.1L585.0 778.0L585.5 775.7L586.0 773.8L586.3 773.2L586.5 773.6L587.0 775.4L587.5 777.7L588.0 780.1L588.5 782.2L589.0 784.2L589.5 785.9L590.0 787.4L590.5 788.5L591.0 788.9L591.5 789.0L592.0 789.1L592.5 789.3L593.0 789.4L593.5 788.9L594.0 787.7L594.5 785.7L595.0 783.0L595.5 780.3L596.0 778.5L596.5 778.8L597.0 780.0L597.5 781.6L598.0 783.3L598.5 785.1L599.0 786.8L599.5 787.8L600.0 788.0L600.5 787.5L601.0 786.8L601.5 786.3L602.0 786.4L602.5 787.1L603.0 788.0L603.5 788.5L604.0 788.3L604.5 787.5L605.0 786.5L605.5 785.5L606.0 784.9L606.5 784.5L607.0 784.3L607.5 783.9L608.0 783.5L608.5 782.9L609.0 782.4L609.5 782.0L610.0 781.8L610.5 782.0L611.0 782.4L611.5 782.9L612.0 783.1L612.5 783.3L613.0 778.9L613.5 768.8L614.0 757.0L614.5 744.1L615.0 730.5L615.5 716.8L616.0 703.0L616.5 688.9L617.0 673.9L617.5 657.3L618.0 640.1L618.4 627.1L618.5 630.3L619.0 647.1L619.5 665.0L620.0 683.0L620.5 700.4L621.0 716.3L621.5 730.5L622.0 743.1L622.5 754.3L623.0 764.7L623.5 774.3L624.0 782.6L624.5 783.8L625.0 784.2L625.5 784.8L626.0 785.5L626.5 786.0L627.0 785.9L627.5 785.3L628.0 784.2L628.5 783.0L629.0 782.2L629.5 781.7L630.0 775.1L630.5 758.7L631.0 739.8L631.5 719.0L632.0 696.9L632.5 674.0L633.0 650.6L633.5 626.4L634.0 600.9L634.5 574.1L635.0 546.1L635.5 517.8L636.0 490.3L636.5 518.2L637.0 547.5L637.5 576.3L638.0 603.9L638.5 630.3L639.0 655.9L639.5 680.4L640.0 703.5L640.5 725.0L641.0 745.2L641.5 764.3L642.0 781.3L642.5 788.6L643.0 789.3L643.5 789.6L644.0 789.6L644.5 789.6L645.0 789.7L645.5 789.8L646.0 790.0L646.5 790.2L647.0 790.3L647.5 790.6L648.0 790.8L648.5 791.1L649.0 791.3L649.5 791.6L650.0 791.9L650.5 792.3L651.0 792.5L651.5 792.6L652.0 792.6L652.5 792.3L653.0 791.9L653.5 791.1L654.0 790.0L654.5 788.6L655.0 787.2L655.5 786.3L656.0 786.1L656.5 786.7L657.0 787.9L657.5 789.4L658.0 790.7L658.5 791.6L659.0 791.8L659.5 791.3L660.0 790.4L660.5 789.7L661.0 788.8L661.5 788.0L662.0 787.2L662.5 786.2L663.0 784.6L663.5 782.5L664.0 780.0L664.5 777.3L665.0 774.9L665.5 773.2L666.0 772.5L666.3 772.6L666.5 773.4L667.0 776.1L667.5 779.1L668.0 781.9L668.5 784.2L669.0 785.9L669.5 787.2L670.0 788.3L670.5 789.0L671.0 789.3L671.5 789.2L672.0 788.8L672.5 788.0L673.0 787.3L673.5 786.6L674.0 786.2L674.5 785.9L675.0 785.2L675.5 783.8L676.0 781.9L676.3 780.9L676.5 781.2L677.0 782.6L677.5 784.2L678.0 785.7L678.5 787.1L679.0 788.5L679.5 789.7L680.0 790.3L680.5 790.5L681.0 790.3L681.5 790.1L682.0 790.0L682.5 790.3L683.0 790.8L683.5 791.6L684.0 792.4L684.5 793.1L685.0 793.4L685.5 793.4L686.0 793.2L686.5 792.9L687.0 792.6L687.5 792.4L688.0 792.4L688.5 792.7L689.0 793.5L689.5 794.6L690.0 795.7L690.5 796.6L691.0 797.2L691.5 797.4L692.0 797.1L692.5 796.5L693.0 795.8L693.5 795.0L694.0 794.3L694.5 793.5L695.0 792.7L695.5 792.2L696.0 792.0L696.5 791.9L697.0 791.9L697.5 791.7L698.0 791.4L698.5 787.7L699.0 776.1L699.5 763.3L700.0 750.1L700.5 736.3L701.0 721.1L701.5 703.7L702.0 683.9L702.5 662.8L703.0 642.0L703.5 622.4L704.0 603.4L704.5 618.1L705.0 630.7L705.5 643.5L706.0 656.4L706.5 667.8L706.9 676.0L707.0 680.9L707.5 705.4L708.0 728.5L708.5 749.4L709.0 768.4L709.5 785.3L710.0 791.0L710.5 791.6L711.0 792.0L711.5 792.1L712.0 791.9L712.5 791.5L713.0 791.2L713.5 791.2L714.0 791.5L714.5 792.2L715.0 793.2L715.5 794.3L716.0 795.2L716.5 795.8L717.0 795.9L717.5 795.8L718.0 795.5L718.5 795.3L719.0 795.1L719.5 794.8L720.0 794.4L720.5 793.9L721.0 793.5L721.5 793.0L722.0 792.7L722.5 792.4L723.0 792.1L723.5 791.5L724.0 790.5L724.5 789.3L725.0 787.8L725.5 786.2L726.0 785.0L726.5 784.0L727.0 783.0L727.5 781.6L728.0 779.4L728.5 776.3L729.0 772.3L729.5 767.8L730.0 763.2L730.5 759.0L731.0 755.2L731.5 752.7L732.0 755.2L732.5 759.2L733.0 763.2L733.5 766.8L734.0 770.2L734.5 773.4L735.0 776.3L735.5 779.2L736.0 782.2L736.5 785.2L737.0 788.2L737.5 790.7L738.0 792.4L738.5 793.1L739.0 792.7L739.5 791.9L740.0 791.1L740.5 790.3L741.0 789.9L741.5 789.9L742.0 790.4L742.5 791.1L743.0 791.7L743.5 792.0L744.0 792.0L744.5 791.8L745.0 791.4L745.5 790.8L746.0 790.1L746.5 789.3L747.0 788.0L747.5 787.0L748.0 785.9L748.5 784.4L749.0 782.3L749.5 779.4L750.0 775.8L750.5 771.5L751.0 766.6L751.5 761.4L752.0 756.9L752.5 753.9L752.6 753.6L753.0 755.4L753.5 758.8L754.0 762.8L754.5 766.9L755.0 770.8L755.5 774.3L756.0 777.3L756.5 779.9L757.0 782.2L757.5 784.3L758.0 786.3L758.5 788.1L759.0 789.4L759.5 790.0L760.0 790.5L760.5 791.0L761.0 791.3L761.5 791.4L762.0 790.7L762.5 789.6L763.0 788.0L763.5 786.1L764.0 783.9L764.5 782.0L764.8 781.3L765.0 781.6L765.5 783.2L766.0 785.2L766.5 787.1L767.0 788.8L767.5 790.3L768.0 791.8L768.5 792.7L769.0 793.3L769.5 793.7L770.0 794.0L770.5 794.3L771.0 794.7L771.5 795.1L772.0 795.0L772.5 794.4L773.0 793.3L773.5 792.1L774.0 791.1L774.5 790.6L775.0 790.9L775.5 791.6L776.0 792.6L776.5 793.2L777.0 793.2L777.5 792.6L777.9 792.1L778.0 792.0L778.5 791.9L779.0 792.0L779.5 792.2L780.0 792.7L780.5 793.3L781.0 793.9L781.5 794.6L782.0 795.2L782.5 796.0L783.0 796.8L783.5 797.6L784.0 798.2L784.5 798.4L785.0 798.4L785.5 798.2L786.0 797.9L786.5 797.6L787.0 797.3L787.5 796.8L788.0 796.3L788.5 795.9L789.0 795.7L789.5 795.7L790.0 795.6L790.5 795.4L791.0 795.2L791.5 795.2L792.0 795.3L792.5 795.5L793.0 795.7L793.5 795.6L794.0 795.3L794.5 795.0L795.0 794.8L795.5 794.9L796.0 795.1L796.5 795.0L797.0 794.6L797.5 794.0L798.0 793.3L798.5 793.0L799.0 793.2L799.5 794.0L800.0 795.1L800.5 796.1L801.0 796.9L801.5 797.5L802.0 797.9L802.5 797.9L803.0 797.1L803.5 795.7L804.0 794.0L804.5 792.0L805.0 790.0L805.5 787.9L806.0 786.1L806.5 784.8L807.0 784.1L807.5 785.4L808.0 786.9L808.5 788.3L809.0 789.5L809.5 790.5L810.0 791.3L810.5 792.0L811.0 792.9L811.5 794.1L812.0 795.3L812.5 796.4L813.0 797.0L813.5 797.0L814.0 796.3L814.5 795.3L815.0 794.2L815.5 793.5L816.0 793.4L816.5 793.7L817.0 794.4L817.5 795.1L818.0 795.7L818.5 796.1L819.0 796.3L819.5 796.2L820.0 796.0L820.5 795.5L821.0 794.6L821.5 793.3L822.0 791.9L822.5 790.7L823.0 790.0L823.5 790.6L824.0 791.9L824.5 793.3L825.0 794.7L825.5 795.9L826.0 796.6L826.5 796.9L827.0 796.9L827.5 796.8L828.0 796.7L828.5 796.7L829.0 796.8L829.5 796.9L830.0 796.7L830.5 796.1L831.0 795.3L831.5 794.4L832.0 793.5L832.5 792.7L833.0 792.2L833.5 791.8L834.0 791.5L834.5 791.2L835.0 790.9L835.5 790.5L836.0 790.3L836.5 790.0L837.0 789.6L837.5 789.1L838.0 788.3L838.5 787.6L839.0 786.6L839.5 784.8L840.0 782.8L840.5 780.4L841.0 777.5L841.5 773.7L842.0 770.0L842.2 769.0L842.5 770.3L843.0 774.0L843.5 778.0L844.0 779.8L844.5 779.9L845.0 779.2L845.5 777.6L846.0 774.3L846.5 769.7L847.0 763.7L847.5 756.7L848.0 749.4L848.5 742.4L849.0 735.9L849.5 729.9L849.9 726.0L850.0 726.8L850.5 732.0L851.0 738.4L851.5 744.9L852.0 750.5L852.5 755.3L853.0 758.9L853.5 761.0L854.0 761.7L854.5 761.4L855.0 760.9L855.5 761.2L855.9 762.0L856.0 762.9L856.5 766.4L857.0 770.7L857.5 775.4L858.0 779.7L858.5 783.0L859.0 785.5L859.5 787.4L860.0 789.1L860.5 790.6L861.0 791.4L861.5 792.4L862.0 793.3L862.5 793.9L863.0 794.0L863.5 793.8L864.0 793.5L864.5 793.6L865.0 794.0L865.5 794.6L866.0 795.2L866.5 795.5L867.0 795.5L867.5 795.3L868.0 795.2L868.5 795.2L869.0 795.5L869.5 795.9L870.0 796.3L870.5 796.4L871.0 796.2L871.5 795.6L872.0 794.9L872.5 794.4L873.0 794.6L873.5 795.3L874.0 796.4L874.5 797.2L875.0 797.4L875.5 796.9L876.0 795.8L876.5 794.6L877.0 793.7L877.5 793.4L878.0 793.7L878.5 794.4L879.0 795.2L879.5 796.1L880.0 796.8L880.5 797.2L881.0 797.3L881.5 797.1L882.0 796.5L882.5 795.7L883.0 795.0L883.5 794.4L884.0 794.2L884.5 794.2L885.0 794.4L885.5 794.6L886.0 794.6L886.5 794.4L887.0 794.1L887.5 793.9L888.0 793.9L888.5 794.0L889.0 794.1L889.5 794.3L890.0 794.6L890.5 795.1L891.0 795.8L891.5 796.5L892.0 796.8L892.5 797.0L893.0 797.0L893.5 797.1L894.0 797.3L894.5 797.4L895.0 797.4L895.5 797.2L896.0 796.8L896.5 796.3L897.0 795.7L897.5 795.3L898.0 794.9L898.5 794.6L899.0 794.4L899.5 794.3L900.0 794.5L900.5 794.9L901.0 795.4L901.5 796.0L902.0 796.3L902.5 796.3L903.0 796.0L903.5 795.4L904.0 794.6L904.5 793.9L905.0 793.2L905.5 792.7L906.0 792.4L906.5 792.2L907.0 792.1L907.5 792.3L908.0 792.7L908.5 793.3L909.0 794.0L909.5 794.6L910.0 794.9L910.5 795.1L911.0 795.2L911.5 795.1L912.0 794.8L912.5 794.3L913.0 793.9L913.5 793.7L914.0 793.8L914.5 794.3L915.0 795.0L915.5 795.8L916.0 796.6L916.5 797.2L917.0 797.5L917.5 797.6L918.0 797.4L918.5 797.0L919.0 796.5L919.5 795.8L920.0 795.0L920.5 794.3L921.0 793.8L921.5 793.7L922.0 793.8L922.5 794.0L923.0 794.0L923.5 794.1L924.0 794.3L924.5 794.4L925.0 794.4L925.5 794.0L926.0 793.2L926.5 792.1L927.0 790.9L927.5 789.8L928.0 789.0L928.5 788.4L929.0 787.9L929.5 787.3L930.0 786.7L930.5 786.7L931.0 786.9L931.5 787.5L932.0 788.1L932.5 788.6L933.0 789.0L933.5 789.2L934.0 789.6L934.5 790.0L935.0 790.6L935.5 791.2L936.0 791.8L936.5 792.4L937.0 793.1L937.5 793.8L938.0 794.3L938.5 794.6L939.0 794.5L939.5 794.2L940.0 794.0L940.5 794.1L941.0 794.5L941.5 795.0L942.0 795.5L942.5 795.5L943.0 795.1L943.5 794.6L944.0 794.1L944.5 793.8L945.0 793.7L945.5 793.7L946.0 793.7L946.5 793.6L947.0 793.7L947.5 794.2L948.0 794.9L948.5 795.7L949.0 796.2L949.5 796.4L950.0 796.1L950.5 795.6L951.0 795.1L951.5 794.8L952.0 794.8L952.5 794.8L953.0 794.9L953.5 794.7L954.0 794.3L954.5 794.0L955.0 793.6L955.5 793.2L956.0 792.6L956.5 792.0L957.0 791.5L957.5 791.1L958.0 791.0L958.5 791.0L959.0 791.2L959.5 791.5L960.0 791.8L960.5 792.3L961.0 793.0L961.5 793.7L962.0 794.4L962.5 795.1L963.0 795.6L963.5 795.9L964.0 796.0L964.5 795.9L965.0 795.5L965.5 795.1L966.0 794.8L966.5 794.6L967.0 794.3L967.5 794.0L968.0 793.7L968.5 793.4L969.0 793.3L969.5 793.5L970.0 794.0L970.5 794.6L971.0 795.0L971.5 795.2L972.0 795.3L972.5 795.4L973.0 795.5L973.5 795.7L974.0 795.8L974.5 795.6L975.0 795.1L975.5 794.4L976.0 793.6L976.5 792.9L977.0 792.5L977.5 792.2L978.0 792.0L978.5 791.8L979.0 791.7L979.5 791.9L980.0 792.3L980.5 792.9L981.0 793.6L981.5 794.3L982.0 795.0L982.5 795.6L983.0 796.0L983.5 795.9L984.0 795.6L984.5 795.2L985.0 794.6L985.5 793.9L986.0 793.1L986.5 792.0L987.0 789.9L987.5 787.1L988.0 784.2L988.5 781.6L989.0 779.2L989.5 776.6L990.0 773.6L990.5 769.6L991.0 764.8L991.5 759.4L992.0 754.5L992.5 750.8L993.0 748.3L993.5 746.1L994.0 748.5L994.5 752.5L995.0 758.1L995.5 764.1L996.0 769.4L996.5 773.8L997.0 777.4L997.5 780.5L998.0 783.4L998.5 786.1L999.0 788.4L999.5 790.0L1000.0 791.1L1000.5 791.2L1001.0 790.6L1001.5 790.2L1002.0 790.0L1002.5 790.0L1003.0 790.4L1003.5 790.9L1004.0 791.5L1004.5 792.2L1005.0 792.8L1005.5 793.3L1006.0 793.7L1006.5 793.7L1007.0 793.5L1007.5 793.2L1008.0 793.0L1008.5 793.0L1009.0 793.2L1009.5 793.4L1010.0 793.7L1010.5 793.9L1011.0 794.2L1011.5 794.3L1012.0 794.2L1012.5 793.7L1013.0 793.0L1013.5 792.5L1014.0 792.2L1014.5 792.4L1015.0 792.9L1015.5 793.3L1016.0 793.6L1016.5 793.5L1017.0 793.1L1017.5 792.8L1018.0 792.8L1018.5 793.0L1019.0 793.4L1019.5 793.7L1020.0 793.6L1020.5 793.2L1021.0 792.5L1021.5 792.0L1022.0 791.8L1022.5 791.9L1023.0 792.1L1023.5 792.2L1024.0 792.2L1024.5 792.2L1025.0 792.3L1025.5 792.8L1026.0 793.3L1026.5 793.7L1027.0 793.8L1027.5 793.5L1028.0 792.8L1028.5 792.1L1029.0 791.4L1029.5 790.8L1030.0 790.4L1030.5 790.5L1031.0 791.0L1031.5 792.0L1032.0 793.3L1032.5 794.8L1033.0 795.9L1033.5 796.3L1034.0 796.1L1034.5 795.6L1035.0 795.1L1035.5 795.0L1036.0 795.2L1036.5 795.5L1037.0 795.8L1037.5 796.2L1038.0 796.6L1038.5 797.0L1039.0 797.2L1039.5 796.9L1040.0 796.4L1040.5 795.7L1041.0 795.4L1041.5 795.5L1042.0 795.9L1042.5 796.5L1043.0 796.7L1043.5 796.6L1044.0 796.2L1044.5 795.5L1045.0 794.7L1045.5 794.1L1046.0 793.8L1046.5 793.8L1047.0 794.3L1047.5 794.9L1048.0 795.5L1048.5 795.8L1049.0 795.8L1049.5 795.4L1050.0 794.7L1050.5 793.8L1051.0 793.3L1051.5 793.2L1052.0 793.4L1052.5 793.6L1053.0 793.7L1053.5 793.8L1054.0 793.8L1054.5 793.9L1055.0 793.9L1055.5 793.7L1056.0 793.3L1056.5 792.7L1057.0 792.2L1057.5 791.8L1058.0 791.6L1058.5 791.8L1059.0 792.3L1059.5 792.8L1060.0 793.0L1060.5 792.8L1061.0 792.0L1061.5 791.0L1062.0 789.9L1062.5 788.9L1063.0 788.4L1063.5 788.3L1064.0 788.6L1064.5 788.9L1065.0 789.1L1065.5 788.9L1066.0 788.0L1066.5 786.9L1067.0 785.8L1067.5 784.5L1068.0 783.0L1068.5 780.8L1069.0 778.0L1069.5 774.0L1070.0 769.1L1070.5 764.7L1071.0 762.0L1071.5 763.2L1072.0 765.4L1072.5 768.1L1073.0 770.1L1073.5 770.8L1074.0 770.5L1074.5 769.9L1075.0 769.6L1075.5 769.6L1076.0 769.8L1076.5 770.1L1077.0 770.0L1077.5 770.2L1078.0 770.3L1078.5 770.7L1079.0 771.2L1079.5 771.5L1080.0 771.5L1080.5 771.3L1081.0 770.9L1081.5 770.5L1082.0 769.6L1082.5 768.2L1082.8 767.7L1083.0 768.3L1083.5 771.5L1084.0 775.9L1084.5 775.8L1085.0 772.3L1085.5 766.7L1086.0 759.9L1086.5 752.0L1087.0 743.2L1087.5 733.1L1088.0 722.1L1088.5 710.8L1089.0 699.8L1089.2 695.5L1089.5 700.3L1090.0 709.3L1090.5 718.3L1091.0 725.6L1091.5 730.8L1092.0 736.2L1092.2 738.8L1092.5 745.5L1093.0 756.9L1093.5 767.5L1094.0 776.9L1094.5 783.1L1095.0 786.1L1095.5 788.5L1096.0 789.7L1096.5 790.3L1097.0 790.8L1097.5 791.0L1098.0 791.1L1098.5 790.9L1099.0 790.4L1099.5 789.9L1100.0 789.5L1100.5 789.4L1101.0 789.6L1101.5 790.0L1102.0 790.4L1102.5 790.7L1103.0 790.9L1103.5 791.2L1104.0 791.6L1104.5 791.8L1105.0 792.0L1105.5 792.0L1106.0 792.0L1106.5 792.0L1107.0 792.2L1107.5 792.3L1108.0 792.4L1108.5 792.3L1109.0 792.2L1109.5 792.3L1110.0 792.6L1110.5 792.7L1111.0 792.4L1111.5 791.8L1112.0 790.9L1112.5 790.0L1113.0 789.4L1113.5 789.2L1114.0 789.4L1114.5 790.1L1115.0 790.8L1115.5 791.1L1116.0 790.9L1116.5 790.4L1117.0 790.1L1117.5 790.2L1118.0 790.6L1118.5 791.3L1119.0 792.0L1119.5 792.5L1120.0 793.0L1120.5 793.2L1121.0 793.3L1121.5 793.2L1122.0 793.1L1122.5 793.0L1123.0 793.0L1123.5 793.1L1124.0 793.2L1124.5 793.1L1125.0 792.9L1125.5 792.5L1126.0 792.3L1126.5 792.3L1127.0 792.4L1127.5 792.4L1128.0 792.3L1128.5 792.1L1129.0 792.1L1129.5 792.3L1130.0 792.6L1130.5 793.0L1131.0 793.4L1131.5 793.7L1132.0 793.9L1132.5 794.0L1133.0 794.0L1133.5 794.0L1134.0 794.0L1134.5 794.0L1135.0 794.0L1135.5 794.0L1136.0 794.0L1136.5 793.9L1137.0 793.8L1137.5 793.5L1138.0 793.0L1138.5 792.5L1139.0 792.2L1139.5 792.2L1140.0 792.4L1140.5 792.6L1141.0 792.8L1141.5 792.8L1142.0 792.7L1142.5 792.7L1143.0 792.9L1143.5 793.2L1144.0 793.2L1144.5 792.9L1145.0 792.5L1145.5 792.2L1146.0 792.3L1146.5 792.6L1147.0 793.1L1147.5 793.5L1148.0 793.8L1148.5 794.1L1149.0 794.3L1149.5 794.5L1150.0 794.8L1150.5 795.2L1151.0 795.6L1151.5 796.0L1152.0 796.0L1152.5 795.6L1153.0 794.7L1153.5 793.6L1154.0 792.5L1154.5 791.7L1155.0 791.1L1155.5 790.8L1156.0 790.7L1156.5 790.8L1157.0 790.8L1157.5 790.6L1158.0 790.3L1158.5 789.9L1159.0 789.5L1159.5 789.3L1160.0 789.5L1160.5 789.7L1161.0 789.9L1161.5 789.9L1162.0 789.7L1162.5 789.6L1163.0 789.5L1163.5 789.5L1164.0 789.4L1164.5 789.0L1165.0 788.3L1165.5 787.3L1166.0 786.3L1166.5 785.2L1167.0 784.0L1167.5 782.9L1168.0 781.7L1168.5 780.6L1169.0 779.8L1169.5 779.3L1169.6 779.2L1170.0 779.6L1170.5 780.2L1171.0 780.7L1171.5 781.2L1172.0 781.6L1172.5 782.1L1173.0 782.5L1173.5 783.1L1174.0 783.9L1174.5 785.0L1175.0 786.0L1175.5 786.7L1176.0 787.1L1176.5 787.4L1177.0 787.7L1177.5 788.3L1178.0 788.8L1178.5 789.3L1179.0 789.5L1179.5 789.7L1180.0 790.2L1180.5 790.8L1181.0 791.4L1181.5 791.9L1182.0 792.1L1182.5 792.1L1183.0 791.8L1183.5 791.3L1184.0 790.5L1184.5 789.6L1185.0 788.6L1185.5 787.3L1186.0 786.0L1186.5 784.7L1186.6 784.5L1187.0 784.1L1187.5 783.9L1188.0 784.1L1188.5 784.6L1189.0 785.3L1189.5 786.1L1190.0 786.9L1190.5 787.5L1191.0 788.0L1191.5 788.4L1192.0 788.8L1192.5 789.1L1193.0 789.5L1193.5 789.9L1194.0 790.3L1194.5 790.6L1195.0 790.8L1195.5 790.8L1196.0 790.7L1196.5 790.5L1197.0 790.4L1197.5 790.3L1198.0 790.2L1198.5 790.3L1199.0 790.5L1199.5 790.5L1200.0 790.3L1200.5 789.9L1201.0 789.2L1201.5 788.5L1202.0 788.0L1202.5 787.7L1203.0 787.6L1203.5 787.5L1204.0 787.3L1204.5 787.1L1205.0 787.2L1205.5 787.6L1206.0 788.2L1206.5 788.7L1207.0 788.9L1207.5 788.8L1208.0 788.6L1208.5 788.5L1209.0 788.5L1209.5 788.5L1210.0 788.4L1210.5 788.1L1211.0 784.9L1211.5 779.5L1212.0 773.5L1212.5 766.9L1213.0 759.5L1213.5 751.1L1214.0 741.9L1214.5 732.2L1215.0 722.4L1215.5 712.6L1216.0 702.9L1216.5 693.3L1216.9 685.9L1217.0 687.4L1217.5 694.9L1218.0 703.3L1218.5 712.2L1219.0 720.2L1219.5 726.0L1220.0 728.9L1220.5 729.5L1221.0 730.4L1221.5 733.8L1222.0 744.1L1222.5 755.2L1223.0 765.9L1223.5 772.5L1224.0 777.0L1224.5 780.6L1225.0 783.3L1225.5 785.5L1226.0 787.1L1226.5 787.5L1227.0 787.7L1227.5 788.0L1228.0 788.1L1228.5 788.0L1229.0 787.7L1229.5 787.4L1230.0 787.2L1230.5 787.3L1231.0 787.6L1231.5 788.2L1232.0 788.7L1232.5 789.2L1233.0 789.7L1233.5 790.1L1234.0 790.4L1234.5 790.5L1235.0 790.4L1235.5 790.1L1236.0 789.8L1236.5 789.6L1237.0 789.6L1237.5 789.5L1238.0 789.2L1238.5 788.7L1239.0 788.2L1239.5 787.8L1240.0 787.6L1240.5 787.6L1241.0 787.7L1241.5 788.0L1242.0 788.3L1242.5 788.5L1243.0 788.3L1243.5 787.5L1244.0 786.1L1244.5 784.1L1245.0 781.7L1245.5 779.3L1246.0 777.2L1246.5 775.4L1247.0 774.0L1247.5 772.7L1248.0 771.6L1248.4 770.8L1248.5 770.8L1249.0 771.1L1249.5 772.0L1250.0 773.4L1250.5 774.9L1251.0 776.5L1251.5 778.1L1252.0 779.5L1252.5 780.8L1253.0 781.9L1253.5 782.8L1254.0 783.4L1254.5 783.9L1255.0 784.3L1255.5 784.6L1256.0 785.0L1256.5 785.6L1257.0 786.3L1257.5 787.3L1258.0 788.5L1258.5 789.6L1259.0 790.6L1259.5 791.1L1260.0 791.4L1260.5 791.3L1261.0 791.2L1261.5 790.8L1262.0 790.3L1262.5 789.6L1263.0 788.6L1263.5 787.2L1264.0 785.6L1264.5 783.8L1265.0 782.4L1265.4 781.7L1265.5 781.7L1266.0 782.1L1266.5 782.9L1267.0 783.9L1267.5 784.8L1268.0 785.7L1268.5 786.5L1269.0 786.7L1269.5 786.3L1270.0 785.3L1270.5 784.0L1271.0 782.8L1271.5 781.6L1272.0 780.6L1272.5 779.4L1273.0 777.7L1273.5 775.6L1274.0 773.2L1274.3 771.8L1274.5 771.7L1275.0 771.8L1275.5 772.8L1276.0 774.2L1276.5 775.6L1277.0 777.2L1277.5 778.6L1278.0 779.6L1278.5 779.9L1279.0 779.5L1279.5 778.3L1280.0 776.9L1280.3 776.1L1280.5 776.5L1281.0 777.9L1281.5 779.7L1282.0 781.2L1282.5 782.6L1283.0 784.0L1283.5 785.5L1284.0 787.0L1284.5 788.5L1285.0 789.6L1285.5 790.2L1286.0 790.5L1286.5 790.5L1287.0 790.4L1287.5 790.2L1288.0 790.4L1288.5 790.8L1289.0 791.4L1289.5 791.9L1290.0 792.1L1290.5 791.8L1291.0 791.3L1291.5 790.8L1292.0 790.2L1292.5 789.7L1293.0 789.2L1293.5 788.8L1294.0 788.5L1294.5 788.4L1295.0 788.2L1295.5 788.0L1296.0 787.6L1296.5 787.2L1297.0 787.0L1297.5 786.7L1298.0 786.3L1298.5 785.6L1299.0 784.9L1299.5 784.2L1300.0 783.6L1300.5 783.7L1301.0 783.8L1301.5 783.8L1302.0 783.8L1302.5 783.8L1303.0 783.9L1303.5 784.3L1304.0 784.8L1304.5 785.4L1305.0 785.9L1305.5 786.0L1306.0 785.9L1306.5 785.6L1307.0 785.3L1307.5 785.3L1308.0 785.5L1308.5 785.6L1309.0 785.5L1309.5 785.1L1310.0 784.6L1310.5 784.1L1311.0 783.4L1311.3 782.9L1311.5 782.6L1312.0 782.0L1312.5 781.1L1313.0 779.7L1313.5 777.9L1314.0 775.7L1314.5 773.5L1315.0 772.0L1315.2 771.7L1315.5 772.6L1316.0 774.9L1316.5 777.6L1317.0 779.8L1317.5 781.1L1318.0 781.5L1318.5 781.4L1319.0 780.8L1319.5 780.1L1320.0 779.2L1320.2 778.9L1320.5 779.5L1321.0 781.1L1321.5 782.7L1322.0 784.3L1322.5 785.8L1323.0 787.0L1323.5 787.7L1324.0 787.5L1324.5 787.0L1325.0 786.8L1325.5 787.0L1326.0 787.9L1326.5 789.2L1327.0 790.5L1327.5 791.6L1328.0 792.1L1328.5 792.1L1329.0 791.7L1329.5 791.1L1330.0 790.2L1330.5 789.2L1331.0 788.2L1331.5 787.6L1332.0 787.4L1332.5 787.5L1333.0 787.9L1333.5 788.2L1334.0 788.4L1334.5 788.7L1335.0 789.0L1335.5 789.6L1336.0 790.4L1336.5 791.0L1337.0 791.4L1337.5 791.5L1338.0 791.3L1338.5 790.8L1339.0 790.1L1339.5 789.3L1340.0 788.5L1340.5 787.7L1341.0 787.2L1341.5 786.8L1342.0 786.6L1342.5 786.6L1343.0 786.8L1343.5 787.4L1344.0 788.4L1344.5 789.5L1345.0 790.5L1345.5 791.1L1346.0 791.1L1346.5 790.7L1347.0 790.0L1347.5 789.2L1348.0 788.6L1348.5 788.1L1349.0 787.9L1349.5 787.8L1350.0 788.0L1350.5 788.5L1351.0 789.3L1351.5 790.2L1352.0 791.1L1352.5 791.7L1353.0 792.1L1353.5 792.0L1354.0 791.6L1354.5 790.9L1355.0 790.1L1355.5 789.4L1356.0 788.8L1356.5 788.3L1357.0 787.9L1357.5 787.5L1358.0 787.1L1358.5 786.7L1359.0 786.5L1359.5 786.4L1360.0 786.6L1360.5 787.3L1361.0 788.2L1361.5 789.1L1362.0 789.9L1362.5 790.5L1363.0 791.0L1363.5 791.2L1364.0 791.2L1364.5 791.1L1365.0 790.6L1365.5 789.8L1366.0 788.9L1366.5 788.2L1367.0 787.7L1367.5 787.3L1368.0 787.1L1368.5 787.0L1369.0 787.0L1369.5 787.2L1370.0 787.6L1370.5 788.2L1371.0 788.9L1371.5 789.6L1372.0 790.1L1372.5 790.4L1373.0 790.5L1373.5 790.3L1374.0 789.9L1374.5 789.2L1375.0 787.1L1375.5 784.2L1376.0 780.5L1376.5 775.9L1377.0 770.6L1377.5 765.5L1377.9 762.8L1378.0 763.2L1378.5 766.5L1379.0 770.8L1379.5 774.7L1380.0 777.1L1380.5 778.4L1381.0 778.5L1381.5 776.5L1382.0 772.0L1382.5 767.0L1382.9 763.7L1383.0 763.5L1383.5 763.7L1384.0 763.5L1384.5 761.4L1385.0 757.9L1385.5 754.7L1386.0 753.2L1386.5 752.7L1386.9 751.8L1387.0 752.1L1387.5 753.7L1388.0 756.1L1388.5 759.8L1389.0 763.6L1389.5 766.5L1390.0 768.2L1390.5 768.9L1390.9 769.6L1391.0 770.3L1391.5 774.2L1392.0 778.3L1392.5 781.8L1393.0 783.8L1393.5 784.8L1394.0 785.4L1394.5 785.6L1395.0 785.8L1395.5 786.4L1396.0 787.2L1396.5 787.8L1397.0 788.1L1397.5 787.8L1398.0 787.2L1398.5 786.4L1399.0 786.0L1399.5 786.0L1400.0 786.7L1400.5 787.6L1401.0 788.5L1401.5 789.0L1402.0 788.8L1402.5 788.3L1403.0 787.8L1403.5 787.6L1404.0 788.0L1404.5 788.7L1405.0 789.4L1405.5 789.8L1406.0 789.8L1406.5 789.4L1407.0 788.9L1407.5 788.5L1408.0 788.5L1408.5 789.0L1409.0 789.6L1409.5 790.2L1410.0 790.4L1410.5 790.1L1411.0 789.2L1411.5 788.2L1412.0 787.4L1412.5 787.1L1413.0 787.0L1413.5 787.0L1414.0 786.9L1414.5 786.7L1415.0 786.5L1415.5 786.5L1416.0 786.5L1416.5 786.5L1417.0 786.6L1417.5 786.8L1418.0 787.1L1418.5 787.4L1419.0 787.8L1419.5 788.1L1420.0 788.3L1420.5 788.4L1421.0 788.2L1421.5 787.9L1422.0 787.7L1422.5 787.7L1423.0 787.9L1423.5 788.3L1424.0 789.0L1424.5 789.7L1425.0 790.1L1425.5 790.1L1426.0 789.4L1426.5 788.4L1427.0 787.3L1427.5 786.5L1428.0 786.4L1428.5 786.7L1429.0 787.2L1429.5 787.1L1430.0 786.4L1430.5 784.9L1431.0 782.6L1431.5 780.2L1431.8 779.2L1432.0 779.5L1432.5 781.4L1433.0 783.5L1433.5 785.1L1434.0 786.0L1434.5 786.4L1435.0 786.0L1435.5 785.5L1436.0 785.4L1436.5 785.6L1437.0 786.2L1437.5 786.9L1438.0 787.5L1438.5 787.8L1439.0 787.7L1439.5 787.1L1440.0 786.1L1440.5 785.1L1441.0 784.0L1441.5 783.1L1441.7 782.8L1442.0 782.6L1442.5 782.3L1443.0 782.1L1443.5 782.2L1444.0 781.0L1444.5 779.0L1445.0 776.3L1445.5 772.7L1446.0 767.8L1446.5 761.5L1447.0 754.1L1447.5 746.0L1448.0 738.1L1448.5 731.5L1449.0 726.4L1449.3 723.8L1449.5 725.3L1450.0 729.9L1450.5 735.9L1451.0 742.2L1451.5 747.7L1452.0 751.5L1452.5 753.5L1453.0 753.8L1453.5 752.8L1454.0 751.9L1454.5 752.3L1454.7 752.8L1455.0 755.4L1455.5 758.5L1456.0 762.7L1456.5 767.7L1457.0 772.7L1457.5 777.0L1458.0 780.5L1458.5 783.2L1459.0 784.9L1459.5 785.5L1460.0 785.4L1460.5 785.1L1461.0 784.8L1461.5 784.7L1462.0 784.9L1462.5 785.2L1463.0 785.4L1463.5 785.6L1464.0 785.7L1464.5 785.7L1465.0 785.6L1465.5 785.6L1466.0 785.7L1466.5 786.0L1467.0 786.2L1467.5 786.4L1468.0 786.5L1468.5 786.6L1469.0 786.8L1469.5 787.0L1470.0 787.0L1470.5 787.0L1471.0 786.7L1471.5 786.5L1472.0 786.6L1472.5 786.8L1473.0 787.1L1473.5 787.4L1474.0 787.6L1474.5 787.6L1475.0 787.4L1475.5 787.2L1476.0 787.0L1476.5 786.8L1477.0 786.9L1477.5 787.1L1478.0 787.6L1478.5 788.1L1479.0 788.7L1479.5 789.2L1480.0 789.9L1480.5 790.4L1481.0 790.8L1481.5 791.0L1482.0 790.7L1482.5 790.2L1483.0 789.7L1483.5 789.2L1484.0 788.6L1484.5 788.1L1485.0 787.3L1485.5 786.3L1486.0 785.1L1486.5 783.9L1487.0 782.8L1487.5 780.8L1488.0 778.9L1488.5 776.8L1489.0 774.3L1489.5 771.1L1490.0 766.9L1490.5 761.7L1491.0 755.3L1491.5 747.8L1492.0 740.3L1492.5 734.9L1492.6 734.2L1493.0 737.2L1493.5 741.9L1494.0 746.6L1494.5 750.5L1495.0 753.6L1495.5 756.1L1496.0 757.8L1496.5 758.2L1497.0 757.6L1497.5 757.6L1497.6 757.8L1498.0 761.9L1498.5 767.6L1499.0 772.1L1499.5 775.1L1500.0 777.0L1500.5 778.6L1501.0 780.2L1501.5 781.7L1502.0 783.2L1502.5 784.1L1503.0 785.0L1503.5 786.0L1504.0 787.1L1504.5 788.2L1505.0 789.2L1505.5 789.9L1506.0 790.2L1506.5 790.0L1507.0 789.3L1507.5 788.4L1508.0 787.6L1508.5 787.1L1509.0 787.1L1509.5 787.5L1510.0 788.3L1510.5 789.0L1511.0 789.7L1511.5 790.0L1512.0 789.9L1512.5 789.6L1513.0 789.2L1513.5 789.0L1514.0 788.9L1514.5 788.9L1515.0 789.0L1515.5 789.2L1516.0 789.5L1516.5 789.8L1517.0 790.0L1517.5 790.3L1518.0 790.6L1518.5 790.6L1519.0 790.2L1519.5 789.2L1520.0 787.8L1520.5 786.3L1521.0 784.9L1521.5 784.1L1522.0 783.9L1522.5 784.2L1523.0 784.9L1523.5 785.7L1524.0 786.2L1524.5 786.3L1525.0 786.2L1525.5 786.0L1526.0 785.9L1526.5 785.8L1527.0 785.7L1527.5 785.4L1528.0 785.1L1528.5 784.7L1529.0 784.0L1529.5 783.0L1530.0 781.3L1530.5 779.1L1531.0 777.2L1531.1 777.0L1531.5 777.4L1532.0 779.2L1532.5 781.3L1533.0 783.4L1533.5 784.9L1534.0 785.4L1534.5 784.7L1535.0 783.4L1535.5 782.0L1536.0 780.9L1536.5 780.2L1537.0 779.9L1537.5 779.7L1538.0 779.5L1538.5 779.2L1539.0 778.7L1539.5 778.1L1540.0 777.6L1540.5 777.8L1541.0 778.2L1541.5 778.7L1542.0 779.5L1542.5 780.4L1543.0 781.5L1543.5 782.6L1544.0 783.6L1544.5 784.0L1545.0 783.9L1545.5 783.3L1546.0 782.8L1546.5 782.6L1547.0 782.9L1547.5 783.3L1548.0 783.9L1548.5 784.3L1549.0 784.5L1549.5 784.3L1550.0 783.7L1550.5 782.7L1551.0 781.6L1551.5 780.8L1552.0 781.2L1552.5 781.9L1553.0 782.5L1553.5 783.1L1554.0 783.4L1554.5 783.9L1555.0 784.5L1555.5 785.2L1556.0 786.1L1556.5 786.7L1557.0 787.0L1557.5 787.1L1558.0 787.0L1558.5 786.9L1559.0 786.9L1559.5 787.1L1560.0 787.4L1560.5 787.5L1561.0 787.4L1561.5 787.1L1562.0 786.6L1562.5 786.0L1563.0 785.6L1563.5 785.5L1564.0 785.8L1564.5 786.2L1565.0 786.8L1565.5 787.3L1566.0 787.7L1566.5 788.0L1567.0 788.1L1567.5 787.9L1568.0 787.5L1568.5 787.0L1569.0 786.6L1569.5 786.4L1570.0 786.4L1570.5 786.4L1571.0 786.4L1571.5 786.4L1572.0 786.7L1572.5 787.3L1573.0 788.1L1573.5 788.8L1574.0 789.3L1574.5 789.4L1575.0 789.2L1575.5 788.8L1576.0 788.5L1576.5 788.2L1577.0 787.8L1577.5 787.5L1578.0 787.3L1578.5 787.4L1579.0 787.9L1579.5 788.6L1580.0 789.3L1580.5 789.9L1581.0 790.4L1581.5 790.6L1582.0 790.7L1582.5 790.7L1583.0 790.9L1583.5 791.2L1584.0 791.6L1584.5 791.8L1585.0 791.7L1585.5 791.4L1586.0 790.9L1586.5 790.6L1587.0 790.6L1587.5 791.0L1588.0 791.5L1588.5 792.1L1589.0 792.5L1589.5 792.7L1590.0 792.7L1590.5 792.4L1591.0 791.8L1591.5 791.0L1592.0 790.1L1592.5 789.2L1593.0 788.4L1593.5 787.9L1594.0 787.6L1594.5 787.6L1595.0 788.0L1595.5 788.5L1596.0 789.1L1596.5 789.6L1597.0 789.9L1597.5 789.9L1598.0 789.7L1598.5 789.1L1599.0 788.4L1599.5 787.6L1600.0 787.0L1600.5 786.6L1601.0 786.4L1601.5 786.2L1602.0 785.9L1602.5 785.6L1603.0 785.3L1603.5 784.9L1604.0 784.3L1604.5 783.6L1605.0 782.8L1605.5 782.1L1606.0 781.4L1606.5 780.8L1607.0 780.2L1607.5 779.6L1608.0 779.1L1608.5 779.1L1609.0 779.2L1609.5 779.5L1610.0 780.1L1610.5 780.8L1611.0 781.4L1611.5 782.0L1612.0 782.4L1612.5 782.8L1613.0 783.2L1613.5 783.7L1614.0 784.4L1614.5 785.5L1615.0 786.7L1615.5 787.7L1616.0 788.1L1616.5 788.0L1617.0 787.4L1617.5 786.8L1618.0 786.2L1618.5 785.8L1619.0 785.2L1619.5 784.6L1620.0 784.0L1620.5 783.8L1621.0 783.8L1621.5 783.9L1622.0 783.9L1622.5 784.1L1623.0 784.4L1623.5 784.9L1624.0 785.7L1624.5 786.6L1625.0 787.5L1625.5 788.1L1626.0 788.5L1626.5 788.8L1627.0 789.2L1627.5 789.7L1628.0 790.0L1628.5 790.0L1629.0 789.8L1629.5 789.6L1630.0 789.5L1630.5 789.5L1631.0 789.5L1631.5 789.5L1632.0 789.5L1632.5 789.6L1633.0 789.7L1633.5 789.9L1634.0 790.0L1634.5 789.7L1635.0 789.2L1635.5 788.3L1636.0 787.7L1636.5 787.5L1637.0 787.7L1637.5 788.0L1638.0 788.4L1638.5 788.4L1639.0 787.6L1639.5 785.9L1640.0 783.4L1640.5 780.7L1641.0 778.6L1641.3 778.0L1641.5 778.3L1642.0 779.9L1642.5 781.7L1643.0 783.2L1643.5 784.1L1644.0 784.7L1644.5 785.1L1645.0 785.1L1645.5 784.7L1646.0 784.0L1646.5 782.9L1647.0 781.7L1647.5 780.3L1648.0 778.5L1648.5 776.4L1649.0 774.4L1649.2 773.7L1649.5 774.3L1650.0 775.4L1650.5 776.4L1651.0 777.1L1651.5 777.5L1652.0 778.1L1652.5 779.3L1653.0 781.0L1653.5 783.0L1654.0 784.6L1654.5 785.9L1655.0 786.8L1655.5 786.7L1656.0 785.9L1656.5 784.1L1657.0 781.9L1657.2 781.2L1657.5 781.8L1658.0 783.7L1658.5 785.3L1659.0 786.4L1659.5 786.9" stroke="#f00" />
<path d="M132.5 425.0L133.0 424.6L133.5 424.0L134.0 423.4L134.5 422.8L135.0 422.5L135.5 422.8L136.0 423.4L136.5 424.4L137.0 425.3L137.5 426.0L138.0 426.4L138.5 426.4L139.0 426.0L139.5 425.4L140.0 424.8L140.5 424.3L141.0 423.9L141.5 423.7L142.0 423.7L142.5 423.8L143.0 423.9L143.5 424.0L144.0 423.9L144.5 423.9L145.0 424.0L145.5 424.5L146.0 425.1L146.5 425.8L147.0 426.5L147.5 427.2L148.0 427.9L148.5 428.6L149.0 429.1L149.5 429.4L150.0 429.5L150.5 429.4L151.0 429.2L151.5 429.1L152.0 429.2L152.5 428.8L153.0 428.6L153.5 428.3L154.0 428.1L154.5 427.7L155.0 427.3L155.5 427.3L156.0 427.5L156.5 428.0L157.0 428.3L157.5 428.4L158.0 428.3L158.5 428.1L159.0 428.0L159.5 427.9L160.0 427.5L160.5 427.1L161.0 426.7L161.5 426.3L162.0 426.0L162.5 425.8L163.0 425.4L163.5 424.8L164.0 423.9L164.5 423.0L165.0 422.1L165.5 421.2L166.0 420.5L166.5 420.0L167.0 420.0L167.5 421.2L168.0 422.4L168.5 423.0L169.0 423.1L169.5 422.8L170.0 422.3L170.5 421.8L171.0 421.4L171.5 422.2L172.0 423.0L172.5 423.8L173.0 424.6L173.5 425.5L174.0 426.6L174.5 427.4L175.0 427.9L175.5 428.2L176.0 428.0L176.5 427.5L177.0 427.0L177.5 426.8L178.0 427.1L178.5 428.0L179.0 429.3L179.5 430.5L180.0 431.5L180.5 432.1L181.0 432.1L181.5 431.7L182.0 430.8L182.5 430.0L183.0 429.4L183.5 429.1L184.0 429.2L184.5 429.5L185.0 429.8L185.5 430.1L186.0 430.3L186.5 430.7L187.0 431.3L187.5 432.0L188.0 432.7L188.5 433.3L189.0 433.9L189.5 434.6L190.0 435.4L190.5 436.1L191.0 436.4L191.5 436.2L192.0 435.6L192.5 435.1L193.0 434.6L193.5 434.2L194.0 433.7L194.5 433.1L195.0 432.5L195.5 432.0L196.0 431.8L196.5 432.0L197.0 432.6L197.5 433.2L198.0 433.8L198.5 434.2L199.0 434.2L199.5 433.9L200.0 433.5L200.5 433.0L201.0 432.6L201.5 432.4L202.0 432.2L202.5 431.9L203.0 431.4L203.5 430.7L204.0 429.8L204.5 428.0L205.0 425.6L205.5 422.5L206.0 418.6L206.5 414.3L206.9 412.0L207.0 412.3L207.5 415.4L208.0 419.2L208.5 421.5L209.0 422.4L209.5 422.1L210.0 420.4L210.5 418.5L210.8 417.9L211.0 418.8L211.5 422.1L212.0 422.9L212.5 420.7L213.0 417.5L213.5 413.2L213.6 412.1L214.0 405.4L214.5 395.5L215.0 384.6L215.5 372.6L216.0 360.2L216.5 348.9L216.8 343.4L217.0 347.0L217.5 357.0L218.0 367.7L218.5 378.2L219.0 388.7L219.5 398.8L220.0 408.3L220.5 416.8L221.0 424.1L221.5 430.0L222.0 433.6L222.5 433.4L223.0 433.1L223.5 432.7L224.0 432.5L224.5 432.1L225.0 432.0L225.5 432.1L226.0 432.5L226.5 433.4L227.0 434.6L227.5 435.9L228.0 436.8L228.5 437.1L229.0 436.8L229.5 436.3L230.0 435.9L230.5 435.8L231.0 435.9L231.5 436.0L232.0 435.9L232.5 435.6L233.0 435.3L233.5 435.2L234.0 435.5L234.5 436.3L235.0 437.2L235.5 438.2L236.0 438.9L236.5 439.4L237.0 439.7L237.5 439.9L238.0 440.0L238.5 440.1L239.0 440.3L239.5 440.4L240.0 440.4L240.5 440.3L241.0 440.1L241.5 439.9L242.0 439.7L242.5 439.4L243.0 439.1L243.5 438.7L244.0 438.4L244.5 438.2L245.0 438.1L245.5 438.1L246.0 438.1L246.5 437.9L247.0 437.6L247.5 437.2L248.0 436.9L248.5 437.0L249.0 437.4L249.5 438.1L250.0 438.8L250.5 439.4L251.0 439.8L251.5 440.0L252.0 440.2L252.5 440.2L253.0 440.0L253.5 439.7L254.0 439.4L254.5 439.2L255.0 439.3L255.5 439.4L256.0 439.4L256.5 439.3L257.0 439.0L257.5 438.7L258.0 438.4L258.5 438.1L259.0 437.9L259.5 437.7L260.0 437.5L260.5 437.3L261.0 437.2L261.5 437.4L262.0 437.8L262.5 438.5L263.0 439.4L263.5 440.0L264.0 440.3L264.5 440.0L265.0 439.2L265.5 438.4L266.0 437.7L266.5 437.5L267.0 437.7L267.5 438.4L268.0 439.3L268.5 440.0L269.0 440.5L269.5 440.6L270.0 440.4L270.5 439.9L271.0 439.5L271.5 439.3L272.0 439.3L272.5 439.5L273.0 439.9L273.5 440.2L274.0 440.3L274.5 440.1L275.0 439.5L275.5 438.9L276.0 438.6L276.5 438.8L277.0 439.6L277.5 440.5L278.0 441.3L278.5 441.6L279.0 441.6L279.5 441.4L280.0 441.2L280.5 441.1L281.0 441.0L281.5 440.9L282.0 440.5L282.5 440.0L283.0 439.3L283.5 438.4L284.0 437.5L284.5 436.9L285.0 436.7L285.5 437.1L286.0 437.8L286.5 438.7L287.0 439.3L287.5 439.4L288.0 439.2L288.5 438.9L289.0 438.9L289.5 439.5L290.0 440.3L290.5 440.9L291.0 441.0L291.5 440.3L292.0 439.5L292.5 438.8L293.0 438.6L293.5 438.7L294.0 438.8L294.5 438.8L295.0 438.6L295.5 438.5L296.0 438.5L296.5 438.8L297.0 439.1L297.5 439.4L298.0 439.7L298.5 439.8L299.0 439.9L299.5 439.9L300.0 439.9L300.5 440.0L301.0 440.2L301.5 440.5L302.0 440.5L302.5 440.4L303.0 440.0L303.5 439.6L304.0 439.3L304.5 439.2L305.0 439.1L305.5 439.0L306.0 438.9L306.5 438.9L307.0 439.0L307.5 439.0L308.0 439.1L308.5 439.3L309.0 439.7L309.5 440.3L310.0 441.0L310.5 441.6L311.0 442.0L311.5 442.1L312.0 441.9L312.5 441.4L313.0 441.0L313.5 440.6L314.0 440.4L314.5 440.4L315.0 440.6L315.5 441.1L316.0 441.6L316.5 442.3L317.0 443.0L317.5 443.6L318.0 443.9L318.5 443.8L319.0 443.4L319.5 442.8L320.0 442.2L320.5 441.7L321.0 441.3L321.5 440.8L322.0 440.2L322.5 439.8L323.0 439.5L323.5 439.3L324.0 439.5L324.5 439.8L325.0 440.3L325.5 441.1L326.0 441.9L326.5 442.7L327.0 443.2L327.5 443.4L328.0 443.1L328.5 442.7L329.0 442.4L329.5 442.2L330.0 442.3L330.5 442.3L331.0 442.1L331.5 441.8L332.0 441.4L332.5 441.2L333.0 441.2L333.5 441.4L334.0 441.9L334.5 442.5L335.0 443.1L335.5 443.6L336.0 443.7L336.5 443.6L337.0 443.4L337.5 443.4L338.0 443.6L338.5 444.1L339.0 444.5L339.5 444.5L340.0 444.2L340.5 443.5L341.0 442.9L341.5 442.6L342.0 442.7L342.5 443.2L343.0 443.6L343.5 443.6L344.0 443.3L344.5 442.9L345.0 442.7L345.5 442.9L346.0 443.3L346.5 443.6L347.0 443.8L347.5 443.9L348.0 444.0L348.5 444.1L349.0 444.2L349.5 444.0L350.0 443.6L350.5 443.2L351.0 442.8L351.5 442.6L352.0 442.4L352.5 442.1L353.0 441.6L353.5 441.1L354.0 440.7L354.5 440.6L355.0 440.8L355.5 441.2L356.0 441.7L356.5 442.0L357.0 442.3L357.5 442.5L358.0 442.7L358.5 442.9L359.0 443.0L359.5 443.0L360.0 443.0L360.5 443.0L361.0 443.0L361.5 442.9L362.0 442.5L362.5 442.0L363.0 441.6L363.5 441.4L364.0 441.6L364.5 442.1L365.0 442.8L365.5 443.5L366.0 444.0L366.5 444.4L367.0 444.5L367.5 444.4L368.0 444.2L368.5 444.0L369.0 443.8L369.5 443.7L370.0 443.5L370.5 443.2L371.0 443.0L371.5 442.8L372.0 442.9L372.5 443.3L373.0 443.8L373.5 444.0L374.0 443.9L374.5 443.2L375.0 442.4L375.5 441.8L376.0 441.6L376.5 441.8L377.0 442.0L377.5 441.9L378.0 441.6L378.5 440.9L379.0 440.1L379.5 437.7L380.0 431.8L380.5 425.2L381.0 417.7L381.5 409.2L382.0 399.4L382.5 388.5L383.0 377.4L383.5 366.9L384.0 357.0L384.4 349.5L384.5 351.3L385.0 361.7L385.5 373.8L386.0 385.8L386.5 396.4L387.0 405.8L387.5 414.3L388.0 422.3L388.5 429.5L389.0 435.9L389.5 440.9L390.0 441.3L390.5 441.6L391.0 441.8L391.5 441.8L392.0 441.5L392.5 440.9L393.0 440.2L393.5 439.6L394.0 439.1L394.5 438.7L395.0 438.6L395.5 438.8L396.0 439.4L396.5 440.2L397.0 441.3L397.5 442.4L398.0 443.1L398.5 443.4L399.0 443.1L399.5 442.5L400.0 441.8L400.5 441.4L401.0 441.3L401.5 441.5L402.0 441.8L402.5 442.0L403.0 442.2L403.5 442.3L404.0 442.3L404.5 442.2L405.0 441.8L405.5 441.1L406.0 440.3L406.5 439.5L407.0 438.9L407.5 438.6L408.0 438.8L408.5 439.5L409.0 440.5L409.5 441.6L410.0 442.3L410.5 442.6L411.0 442.6L411.5 442.5L412.0 442.4L412.5 442.1L413.0 441.9L413.5 441.7L414.0 441.8L414.5 442.0L415.0 442.4L415.5 442.6L416.0 442.6L416.5 442.5L417.0 442.2L417.5 442.1L418.0 442.0L418.5 436.6L419.0 427.5L419.5 416.7L420.0 404.4L420.5 390.5L421.0 375.6L421.5 360.3L422.0 345.1L422.5 330.5L423.0 316.5L423.5 302.6L423.8 294.0L424.0 299.8L424.5 314.1L425.0 328.7L425.5 343.6L426.0 358.2L426.5 372.2L427.0 385.3L427.5 397.8L428.0 408.8L428.5 418.4L429.0 426.3L429.5 431.0L430.0 427.5L430.5 423.6L431.0 421.0L431.5 423.9L432.0 428.3L432.5 432.6L433.0 436.4L433.5 439.3L434.0 441.5L434.5 442.5L435.0 442.2L435.5 441.5L436.0 440.9L436.5 440.9L437.0 441.6L437.5 442.7L438.0 443.6L438.5 443.8L439.0 443.2L439.5 442.2L440.0 441.4L440.5 441.1L441.0 441.4L441.5 442.0L442.0 442.7L442.5 443.3L443.0 443.7L443.5 444.0L444.0 444.0L444.5 443.8L445.0 443.5L445.5 443.3L446.0 443.3L446.5 443.3L447.0 443.4L447.5 443.3L448.0 443.0L448.5 442.6L449.0 442.2L449.5 442.0L450.0 441.9L450.5 442.2L451.0 442.7L451.5 443.3L452.0 443.9L452.5 444.4L453.0 444.7L453.5 445.0L454.0 445.2L454.5 445.0L455.0 444.6L455.5 444.2L456.0 443.9L456.5 444.0L457.0 444.4L457.5 444.9L458.0 445.2L458.5 445.3L459.0 445.3L459.5 445.3L460.0 445.4L460.5 445.5L461.0 445.7L461.5 445.8L462.0 445.9L462.5 445.6L463.0 445.0L463.5 444.1L464.0 442.9L464.5 441.1L465.0 439.1L465.5 437.0L466.0 434.8L466.5 432.5L467.0 430.0L467.5 427.2L468.0 424.2L468.5 421.4L469.0 418.6L469.5 416.1L469.8 415.0L470.0 415.6L470.5 418.4L471.0 422.5L471.5 426.3L472.0 429.1L472.5 431.2L473.0 433.1L473.5 435.0L474.0 436.8L474.5 438.2L475.0 438.1L475.5 436.9L476.0 434.3L476.5 430.9L477.0 426.6L477.5 421.5L478.0 415.8L478.5 410.4L479.0 407.0L479.5 410.3L480.0 415.0L480.5 419.5L481.0 423.5L481.5 427.0L482.0 430.0L482.5 432.4L483.0 433.5L483.5 433.6L484.0 432.1L484.5 429.8L485.0 426.7L485.5 423.2L486.0 420.9L486.5 423.9L487.0 428.2L487.5 432.5L488.0 435.9L488.5 438.6L489.0 440.5L489.5 441.6L490.0 441.8L490.5 442.0L491.0 442.4L491.5 442.8L492.0 443.3L492.5 443.7L493.0 443.9L493.5 443.8L494.0 443.5L494.5 443.3L495.0 443.3L495.5 443.6L496.0 443.9L496.5 444.0L497.0 444.0L497.5 444.0L498.0 443.9L498.5 443.8L499.0 443.5L499.5 442.9L500.0 442.0L500.5 441.1L501.0 440.4L501.5 440.1L502.0 440.3L502.5 440.8L503.0 441.5L503.5 442.2L504.0 442.9L504.5 443.5L505.0 443.9L505.5 444.1L506.0 444.0L506.5 443.7L507.0 443.2L507.5 442.9L508.0 442.9L508.5 443.1L509.0 443.3L509.5 443.5L510.0 443.6L510.5 443.6L511.0 443.8L511.5 444.4L512.0 445.2L512.5 446.0L513.0 446.3L513.5 446.0L514.0 445.1L514.5 443.8L515.0 442.6L515.5 441.7L516.0 441.3L516.5 441.4L517.0 442.0L517.5 442.8L518.0 443.5L518.5 444.0L519.0 444.2L519.5 444.1L520.0 443.9L520.5 443.4L521.0 442.9L521.5 442.6L522.0 442.6L522.5 443.2L523.0 444.0L523.5 444.7L524.0 445.0L524.5 445.0L525.0 444.7L525.5 444.2L526.0 443.6L526.5 443.1L527.0 442.7L527.5 442.6L528.0 442.8L528.5 443.4L529.0 444.2L529.5 445.0L530.0 445.8L530.5 446.3L531.0 446.5L531.5 446.5L532.0 446.2L532.5 445.7L533.0 444.7L533.5 443.6L534.0 442.3L534.5 440.8L535.0 438.8L535.5 436.5L536.0 433.9L536.5 431.0L537.0 427.9L537.5 424.7L538.0 421.5L538.5 418.7L539.0 416.9L539.3 416.5L539.5 417.0L540.0 419.3L540.5 422.2L541.0 425.4L541.5 428.7L542.0 431.8L542.5 434.5L543.0 436.7L543.5 438.3L544.0 439.3L544.5 440.1L545.0 440.7L545.5 441.3L546.0 441.9L546.5 442.2L547.0 442.5L547.5 442.8L548.0 443.2L548.5 443.4L549.0 443.6L549.5 443.7L550.0 443.7L550.5 443.7L551.0 443.5L551.5 443.1L552.0 442.4L552.5 441.6L553.0 441.0L553.5 440.6L554.0 440.5L554.5 440.9L555.0 441.6L555.5 442.4L556.0 443.1L556.5 443.4L557.0 443.1L557.5 442.4L558.0 441.7L558.5 441.2L559.0 441.3L559.5 441.8L560.0 442.4L560.5 442.9L561.0 443.1L561.5 442.9L561.8 442.8L562.0 443.1L562.5 443.7L563.0 444.1L563.5 444.0L564.0 443.5L564.5 443.0L565.0 442.6L565.5 442.4L566.0 442.5L566.5 442.7L567.0 442.9L567.5 443.1L568.0 443.1L568.5 442.9L569.0 442.7L569.5 442.4L570.0 442.0L570.5 441.6L571.0 441.2L571.5 440.8L572.0 440.4L572.5 440.2L573.0 440.2L573.5 440.2L574.0 440.2L574.5 440.0L575.0 440.0L575.5 440.3L576.0 440.9L576.5 441.8L577.0 442.7L577.5 443.4L578.0 443.7L578.5 443.6L579.0 443.1L579.5 442.4L580.0 441.5L580.5 440.8L581.0 440.2L581.5 439.6L582.0 438.9L582.5 437.8L583.0 436.3L583.5 434.4L584.0 432.7L584.5 433.1L585.0 434.3L585.5 436.0L586.0 437.9L586.5 440.0L587.0 442.0L587.5 443.9L588.0 445.5L588.5 446.5L589.0 446.8L589.5 446.8L590.0 446.7L590.5 446.6L591.0 446.5L591.5 446.4L592.0 446.2L592.5 445.9L593.0 445.5L593.5 444.9L594.0 444.2L594.5 443.6L595.0 443.1L595.5 443.0L596.0 443.3L596.5 444.1L597.0 445.0L597.5 445.8L598.0 446.3L598.5 446.3L599.0 446.0L599.5 445.6L600.0 445.2L600.5 444.8L601.0 444.5L601.5 444.0L602.0 443.5L602.5 443.1L603.0 442.9L603.5 443.0L604.0 443.1L604.5 442.9L605.0 442.4L605.5 441.7L606.0 441.3L606.5 441.4L607.0 441.8L607.5 442.4L608.0 442.7L608.5 442.9L609.0 443.1L609.5 443.4L610.0 443.9L610.5 444.5L611.0 444.9L611.5 444.9L612.0 437.7L612.5 428.0L613.0 417.3L613.5 406.0L614.0 394.3L614.5 381.7L615.0 368.1L615.5 353.6L616.0 339.4L616.5 326.4L617.0 313.6L617.2 308.3L617.5 316.2L618.0 329.2L618.5 341.9L619.0 354.4L619.5 366.9L620.0 379.8L620.5 393.0L621.0 405.9L621.5 418.3L622.0 429.4L622.5 438.8L623.0 444.2L623.5 444.0L624.0 443.8L624.5 443.6L625.0 443.7L625.5 443.9L626.0 444.2L626.5 444.3L627.0 444.4L627.5 444.7L628.0 444.9L628.5 444.7L629.0 444.0L629.5 430.8L630.0 412.4L630.5 392.1L631.0 370.8L631.5 348.9L632.0 326.1L632.5 302.2L633.0 277.4L633.5 251.8L634.0 225.6L634.5 198.9L635.0 172.1L635.3 156.3L635.5 166.9L636.0 193.9L636.5 220.8L637.0 247.0L637.5 272.5L638.0 297.5L638.5 322.1L639.0 346.4L639.5 369.9L640.0 391.9L640.5 412.1L641.0 429.9L641.5 444.3L642.0 445.6L642.5 445.8L643.0 446.1L643.5 446.6L644.0 447.2L644.5 448.1L645.0 449.1L645.5 450.1L646.0 450.9L646.5 451.6L647.0 452.0L647.5 451.9L648.0 451.5L648.5 450.7L649.0 450.0L649.5 449.5L650.0 449.3L650.5 449.3L651.0 449.5L651.5 449.8L652.0 450.3L652.5 450.8L653.0 451.4L653.5 451.6L654.0 451.3L654.5 450.6L655.0 449.6L655.5 448.7L656.0 448.0L656.5 447.6L657.0 447.6L657.5 447.9L658.0 448.5L658.5 449.0L659.0 449.2L659.5 449.0L660.0 448.2L660.5 447.1L661.0 445.3L661.5 443.4L662.0 441.5L662.5 439.4L663.0 436.9L663.5 433.6L664.0 429.8L664.5 426.6L665.0 424.6L665.5 426.4L666.0 429.1L666.5 432.3L667.0 435.6L667.5 438.5L668.0 440.9L668.5 442.9L669.0 444.6L669.5 446.1L670.0 446.8L670.5 447.1L671.0 447.0L671.5 446.6L672.0 446.2L672.5 445.4L673.0 444.4L673.5 443.1L674.0 441.5L674.5 439.9L675.0 438.2L675.5 436.7L676.0 435.6L676.5 436.7L677.0 438.8L677.5 441.8L678.0 444.9L678.5 447.6L679.0 449.4L679.5 450.3L680.0 450.4L680.5 450.1L681.0 449.7L681.5 449.5L682.0 449.4L682.5 449.2L683.0 449.1L683.5 449.0L684.0 448.7L684.5 448.5L685.0 448.3L685.5 448.0L686.0 447.6L686.5 447.1L687.0 446.7L687.5 446.5L688.0 446.7L688.5 447.3L689.0 448.1L689.5 448.8L690.0 449.3L690.5 449.5L691.0 449.3L691.5 448.9L692.0 448.4L692.5 447.9L693.0 447.7L693.5 447.6L694.0 447.7L694.5 447.7L695.0 447.4L695.5 447.0L696.0 446.5L696.5 446.1L697.0 445.9L697.5 446.2L698.0 443.6L698.5 433.4L699.0 421.5L699.5 408.5L700.0 394.4L700.5 379.3L701.0 363.2L701.5 345.4L702.0 325.8L702.5 304.4L703.0 282.7L703.5 263.1L704.0 281.8L704.5 299.5L705.0 316.6L705.5 334.8L706.0 353.6L706.5 371.8L707.0 388.6L707.5 404.1L708.0 418.3L708.5 431.3L709.0 442.6L709.5 445.8L710.0 445.8L710.5 445.8L711.0 445.7L711.5 445.7L712.0 445.7L712.5 445.9L713.0 446.4L713.5 447.0L714.0 447.5L714.5 447.8L715.0 447.5L715.5 446.8L716.0 445.9L716.5 445.3L717.0 445.0L717.5 445.1L718.0 445.4L718.5 445.8L719.0 446.3L719.5 446.8L720.0 447.4L720.5 448.0L721.0 448.4L721.5 448.5L722.0 448.5L722.5 448.3L723.0 448.1L723.5 447.6L724.0 447.0L724.5 446.2L725.0 445.3L725.5 443.8L726.0 442.2L726.5 440.7L727.0 439.3L727.5 437.9L728.0 436.6L728.5 435.4L729.0 434.1L729.5 432.2L730.0 429.4L730.5 425.6L731.0 421.3L731.5 417.9L731.9 416.4L732.0 416.7L732.5 418.8L733.0 421.6L733.5 424.5L734.0 427.5L734.5 430.6L735.0 433.6L735.5 436.6L736.0 439.4L736.5 441.8L737.0 443.7L737.5 445.2L738.0 446.6L738.5 448.1L739.0 449.3L739.5 450.2L740.0 451.0L740.5 451.4L741.0 451.6L741.5 451.6L742.0 451.3L742.5 450.7L743.0 449.9L743.5 448.9L744.0 448.0L744.5 447.1L745.0 446.2L745.5 445.1L746.0 443.6L746.5 442.1L747.0 440.9L747.5 439.9L748.0 438.9L748.5 437.5L749.0 435.6L749.5 433.1L750.0 429.7L750.5 425.7L751.0 422.0L751.5 419.4L752.0 417.9L752.2 417.4L752.5 418.1L753.0 419.8L753.5 422.8L754.0 426.6L754.5 430.3L755.0 433.3L755.5 435.6L756.0 437.5L756.5 439.1L757.0 440.5L757.5 441.9L758.0 443.4L758.5 444.7L759.0 445.9L759.5 446.4L760.0 446.5L760.5 446.4L761.0 446.0L761.5 445.3L762.0 444.8L762.5 444.7L763.0 444.9L763.5 445.2L764.0 445.6L764.5 445.9L765.0 446.4L765.5 446.9L766.0 447.2L766.5 447.1L767.0 446.7L767.5 446.2L768.0 446.0L768.5 446.0L769.0 446.2L769.5 446.5L770.0 446.4L770.5 446.0L771.0 445.4L771.5 445.0L772.0 445.0L772.5 445.4L773.0 446.1L773.5 446.9L774.0 447.5L774.5 447.9L775.0 447.9L775.5 447.9L776.0 447.9L776.5 448.1L777.0 448.3L777.5 448.3L778.0 448.1L778.5 447.7L779.0 447.3L779.5 446.9L780.0 446.8L780.5 446.8L781.0 447.0L781.5 447.4L782.0 448.0L782.5 448.6L783.0 449.4L783.5 450.0L784.0 450.4L784.5 450.3L785.0 449.7L785.5 449.2L786.0 449.0L786.5 449.3L787.0 449.7L787.5 450.0L788.0 449.8L788.5 449.3L789.0 448.7L789.5 448.5L790.0 448.7L790.5 449.3L791.0 450.0L791.5 450.6L792.0 450.8L792.5 450.9L793.0 451.0L793.5 451.1L794.0 451.2L794.5 451.1L795.0 450.9L795.5 450.5L796.0 449.9L796.5 449.4L797.0 448.9L797.5 448.7L798.0 448.8L798.5 449.3L799.0 450.2L799.5 451.2L800.0 451.8L800.5 451.8L801.0 451.2L801.5 449.9L802.0 447.8L802.5 445.3L803.0 442.4L803.5 439.3L804.0 436.6L804.2 435.8L804.5 435.7L805.0 436.5L805.5 438.1L806.0 440.1L806.5 442.1L807.0 444.1L807.5 445.9L808.0 447.6L808.5 449.0L809.0 449.8L809.5 450.2L810.0 450.2L810.5 450.1L811.0 449.9L811.5 449.7L812.0 449.5L812.5 449.2L813.0 449.0L813.5 449.0L814.0 449.3L814.5 449.6L815.0 450.0L815.5 450.1L816.0 449.8L816.5 449.2L817.0 448.6L817.5 447.8L818.0 447.0L818.5 446.1L819.0 444.9L819.5 443.6L820.0 442.4L820.2 442.1L820.5 442.2L821.0 443.1L821.5 444.7L822.0 446.6L822.5 448.5L823.0 449.9L823.5 450.8L824.0 451.2L824.5 451.2L825.0 451.1L825.5 451.4L826.0 452.1L826.5 453.0L827.0 453.7L827.5 454.0L828.0 453.6L828.5 452.8L829.0 452.0L829.5 451.2L830.0 450.7L830.5 450.1L831.0 449.6L831.5 449.1L832.0 448.9L832.5 449.0L833.0 449.1L833.5 449.3L834.0 449.4L834.5 449.4L835.0 449.4L835.5 449.3L836.0 449.2L836.5 448.9L837.0 447.8L837.5 446.2L838.0 444.2L838.5 441.3L839.0 437.6L839.5 433.5L839.9 431.0L840.0 431.1L840.5 432.9L841.0 435.8L841.5 438.9L842.0 441.4L842.5 442.7L843.0 442.0L843.5 440.1L844.0 437.4L844.5 434.3L845.0 430.6L845.5 426.3L846.0 421.4L846.5 416.1L847.0 410.5L847.5 404.9L848.0 399.5L848.5 394.4L849.0 389.2L849.5 384.2L849.7 382.6L850.0 384.6L850.5 389.1L851.0 393.4L851.5 397.6L852.0 402.1L852.5 407.1L853.0 411.8L853.5 415.8L854.0 418.6L854.5 420.6L855.0 423.0L855.5 427.4L856.0 431.4L856.5 434.3L857.0 436.5L857.5 437.6L858.0 439.1L858.5 440.9L859.0 442.6L859.5 444.1L860.0 445.1L860.5 445.9L861.0 446.4L861.5 446.9L862.0 447.6L862.5 448.4L863.0 449.1L863.5 449.7L864.0 450.3L864.5 450.7L865.0 451.0L865.5 451.1L866.0 450.9L866.5 450.4L867.0 449.7L867.5 449.1L868.0 448.7L868.5 448.6L869.0 448.9L869.5 449.4L870.0 450.2L870.5 451.0L871.0 451.6L871.5 452.1L872.0 452.4L872.5 452.7L873.0 453.1L873.5 453.6L874.0 454.0L874.5 454.0L875.0 453.6L875.5 452.9L876.0 452.0L876.5 451.4L877.0 451.0L877.5 450.9L878.0 450.9L878.5 450.7L879.0 450.3L879.5 449.7L880.0 449.1L880.5 448.3L881.0 447.7L881.5 447.3L882.0 447.1L882.5 447.2L883.0 447.4L883.5 447.8L884.0 448.1L884.5 448.3L885.0 448.4L885.5 448.5L886.0 448.8L886.5 449.1L887.0 449.4L887.5 449.7L888.0 450.0L888.5 450.2L889.0 450.2L889.5 450.1L890.0 449.8L890.5 449.3L891.0 448.7L891.5 448.3L892.0 448.0L892.5 447.8L893.0 447.6L893.5 447.4L894.0 446.9L894.5 446.3L895.0 445.5L895.5 444.9L896.0 444.4L896.5 444.3L897.0 444.4L897.5 444.7L898.0 445.1L898.5 445.3L899.0 445.4L899.5 445.5L900.0 445.5L900.5 445.8L901.0 446.2L901.5 446.3L902.0 446.3L902.5 445.9L903.0 445.3L903.5 444.9L904.0 444.7L904.5 444.7L905.0 444.9L905.5 445.2L906.0 445.3L906.5 445.3L907.0 445.2L907.5 445.1L908.0 445.0L908.5 444.8L909.0 444.3L909.5 443.6L910.0 443.0L910.5 442.9L911.0 443.2L911.5 443.9L912.0 444.5L912.5 445.0L913.0 445.2L913.5 445.3L914.0 445.2L914.5 445.1L915.0 445.0L915.5 444.9L916.0 445.0L916.5 445.2L917.0 445.6L917.5 446.0L918.0 446.4L918.5 446.8L919.0 447.1L919.5 447.2L920.0 447.2L920.5 447.1L921.0 446.8L921.5 446.3L922.0 445.7L922.5 445.0L923.0 444.2L923.5 443.7L924.0 443.4L924.5 443.4L925.0 443.5L925.5 443.6L926.0 443.5L926.5 443.4L927.0 443.1L927.5 442.7L928.0 442.3L928.5 441.8L929.0 441.3L929.5 440.7L930.0 440.0L930.5 439.5L931.0 439.2L931.5 439.3L932.0 439.7L932.5 440.4L933.0 441.3L933.5 442.2L934.0 443.0L934.5 443.5L935.0 443.8L935.5 443.8L936.0 443.8L936.5 444.1L937.0 444.7L937.5 445.6L938.0 446.4L938.5 447.0L939.0 447.3L939.5 447.4L940.0 447.3L940.5 447.2L941.0 447.3L941.5 447.4L942.0 447.5L942.5 447.5L943.0 447.3L943.5 447.1L944.0 446.9L944.5 446.9L945.0 447.0L945.5 447.0L946.0 446.9L946.5 446.7L947.0 446.6L947.5 446.7L948.0 446.9L948.5 447.0L949.0 447.1L949.5 447.3L950.0 447.5L950.5 447.9L951.0 448.3L951.5 448.8L952.0 449.3L952.5 449.9L953.0 450.6L953.5 451.4L954.0 452.1L954.5 452.4L955.0 452.4L955.5 451.8L956.0 451.0L956.5 450.2L957.0 449.5L957.5 449.1L958.0 449.1L958.5 449.4L959.0 449.8L959.5 450.1L960.0 450.2L960.5 450.3L961.0 450.3L961.5 450.4L962.0 450.6L962.5 451.0L963.0 451.4L963.5 451.9L964.0 452.2L964.5 452.5L965.0 452.7L965.5 453.0L966.0 453.3L966.5 453.3L967.0 452.9L967.5 452.1L968.0 451.1L968.5 450.2L969.0 449.5L969.5 449.1L970.0 448.9L970.5 449.0L971.0 449.1L971.5 449.3L972.0 449.5L972.5 449.8L973.0 450.4L973.5 450.9L974.0 451.2L974.5 451.1L975.0 450.5L975.5 449.5L976.0 448.6L976.5 447.9L977.0 447.6L977.5 447.4L978.0 447.3L978.5 447.2L979.0 447.1L979.5 447.0L980.0 447.1L980.5 447.2L981.0 447.3L981.5 447.3L982.0 447.1L982.5 446.7L983.0 446.1L983.5 445.4L984.0 444.7L984.5 444.1L985.0 442.7L985.5 441.3L986.0 439.7L986.5 438.0L987.0 436.3L987.5 434.5L988.0 432.3L988.5 429.8L988.8 428.0L989.0 426.7L989.5 423.2L990.0 419.3L990.5 415.2L991.0 410.9L991.5 407.3L992.0 405.0L992.5 403.7L993.0 402.3L993.5 403.9L994.0 406.1L994.5 408.9L995.0 412.4L995.5 416.4L996.0 420.7L996.5 424.9L997.0 428.8L997.5 432.0L998.0 434.6L998.5 436.5L999.0 438.0L999.5 439.2L1000.0 440.5L1000.5 441.8L1001.0 443.3L1001.5 444.7L1002.0 445.3L1002.5 445.8L1003.0 446.1L1003.5 446.2L1004.0 446.3L1004.5 446.4L1005.0 446.5L1005.5 446.7L1006.0 446.9L1006.5 446.9L1007.0 446.7L1007.5 446.2L1008.0 445.2L1008.5 444.0L1009.0 442.5L1009.5 441.2L1009.9 440.3L1010.0 440.3L1010.5 440.9L1011.0 442.0L1011.5 443.4L1012.0 444.6L1012.5 445.6L1013.0 446.3L1013.5 446.7L1014.0 447.1L1014.5 447.7L1015.0 448.2L1015.5 448.7L1016.0 448.9L1016.5 448.5L1017.0 447.6L1017.5 446.6L1018.0 445.9L1018.5 445.9L1019.0 446.7L1019.5 448.0L1020.0 449.3L1020.5 450.3L1021.0 451.0L1021.5 451.3L1022.0 451.3L1022.5 451.0L1023.0 450.7L1023.5 450.6L1024.0 450.8L1024.5 451.6L1025.0 452.5L1025.5 453.2L1026.0 453.6L1026.5 453.3L1027.0 452.6L1027.5 451.6L1028.0 450.7L1028.5 450.0L1029.0 449.7L1029.5 449.7L1030.0 449.7L1030.5 449.8L1031.0 449.8L1031.5 449.7L1032.0 449.6L1032.5 449.4L1033.0 449.2L1033.5 448.9L1034.0 448.8L1034.5 448.8L1035.0 449.0L1035.5 449.2L1036.0 449.5L1036.5 449.8L1037.0 450.1L1037.5 450.5L1038.0 450.9L1038.5 451.2L1039.0 451.5L1039.5 451.7L1040.0 451.7L1040.5 451.5L1041.0 451.4L1041.5 451.2L1042.0 451.1L1042.5 451.1L1043.0 451.2L1043.5 451.3L1044.0 451.5L1044.5 451.7L1045.0 452.0L1045.5 452.1L1046.0 452.1L1046.5 451.8L1047.0 451.3L1047.5 450.7L1048.0 450.1L1048.5 449.6L1049.0 449.0L1049.5 448.6L1050.0 448.3L1050.5 448.1L1051.0 447.8L1051.5 447.7L1052.0 447.6L1052.5 447.9L1053.0 448.5L1053.5 449.4L1054.0 450.1L1054.5 450.6L1055.0 450.6L1055.5 450.2L1056.0 449.5L1056.5 448.6L1057.0 447.7L1057.5 447.1L1058.0 446.9L1058.5 446.9L1059.0 447.0L1059.5 447.1L1060.0 447.1L1060.5 447.1L1061.0 447.1L1061.5 447.1L1062.0 447.1L1062.5 447.0L1063.0 446.7L1063.5 446.1L1064.0 445.4L1064.5 444.6L1065.0 443.8L1065.5 442.9L1066.0 441.6L1066.5 440.0L1067.0 438.4L1067.5 436.9L1068.0 435.4L1068.5 433.6L1069.0 431.3L1069.5 428.3L1069.8 426.4L1070.0 426.1L1070.5 425.8L1071.0 425.9L1071.5 426.3L1072.0 426.7L1072.5 427.2L1073.0 427.6L1073.5 428.2L1074.0 429.1L1074.5 429.8L1075.0 429.8L1075.5 428.9L1076.0 427.4L1076.5 427.0L1077.0 427.1L1077.5 427.7L1078.0 428.5L1078.5 429.4L1079.0 430.2L1079.5 430.7L1080.0 431.1L1080.5 431.2L1081.0 431.0L1081.5 430.8L1081.8 430.8L1082.0 431.5L1082.5 433.3L1083.0 435.0L1083.5 434.6L1084.0 430.7L1084.5 425.8L1085.0 420.0L1085.5 413.2L1086.0 405.1L1086.5 395.5L1087.0 384.6L1087.5 372.9L1088.0 361.4L1088.4 353.4L1088.5 355.1L1089.0 365.3L1089.5 374.6L1090.0 382.0L1090.5 387.1L1091.0 389.9L1091.5 390.7L1092.0 390.3L1092.4 391.7L1092.5 394.0L1093.0 407.7L1093.5 421.7L1094.0 429.2L1094.5 434.6L1095.0 438.7L1095.5 441.9L1096.0 443.7L1096.5 444.1L1097.0 444.6L1097.5 445.0L1098.0 445.6L1098.5 446.0L1099.0 446.4L1099.5 446.7L1100.0 446.8L1100.5 446.7L1101.0 446.4L1101.5 445.8L1102.0 445.3L1102.5 445.1L1103.0 445.4L1103.5 446.0L1104.0 446.5L1104.5 446.9L1105.0 447.0L1105.5 447.0L1106.0 447.0L1106.5 447.0L1107.0 447.1L1107.5 447.1L1108.0 447.1L1108.5 447.1L1109.0 447.1L1109.5 447.4L1110.0 447.9L1110.5 448.5L1111.0 449.0L1111.5 449.2L1112.0 448.9L1112.5 448.3L1113.0 447.7L1113.5 447.2L1114.0 446.8L1114.5 446.6L1115.0 446.3L1115.5 446.0L1116.0 445.7L1116.5 445.4L1117.0 445.2L1117.5 445.3L1118.0 445.7L1118.5 446.5L1119.0 447.4L1119.5 448.1L1120.0 448.5L1120.5 448.6L1121.0 448.4L1121.5 447.9L1122.0 447.4L1122.5 446.8L1123.0 446.3L1123.5 445.9L1124.0 445.7L1124.5 445.5L1125.0 445.5L1125.5 445.6L1126.0 445.8L1126.5 446.2L1127.0 446.3L1127.5 446.1L1128.0 445.4L1128.5 444.3L1129.0 443.3L1129.5 442.7L1130.0 442.8L1130.5 443.7L1131.0 444.8L1131.5 445.8L1132.0 446.5L1132.5 446.8L1133.0 446.7L1133.5 446.4L1134.0 445.9L1134.5 445.5L1135.0 445.2L1135.5 445.1L1136.0 445.2L1136.5 445.3L1137.0 445.4L1137.5 445.3L1138.0 445.2L1138.5 445.0L1139.0 445.0L1139.5 445.0L1140.0 445.0L1140.5 445.0L1141.0 444.8L1141.5 444.5L1142.0 444.2L1142.5 444.2L1143.0 444.5L1143.5 445.1L1144.0 445.8L1144.5 446.4L1145.0 446.8L1145.5 446.8L1146.0 446.5L1146.5 446.2L1147.0 445.9L1147.5 445.7L1148.0 445.5L1148.5 445.3L1149.0 445.2L1149.5 445.2L1150.0 445.2L1150.5 445.2L1151.0 445.2L1151.5 445.2L1152.0 445.0L1152.5 444.8L1153.0 444.4L1153.5 444.1L1154.0 444.0L1154.5 444.2L1155.0 444.7L1155.5 445.2L1156.0 445.5L1156.5 445.4L1157.0 444.9L1157.5 444.3L1158.0 443.7L1158.5 443.3L1159.0 443.1L1159.5 443.1L1160.0 443.2L1160.5 443.4L1161.0 443.2L1161.5 442.6L1162.0 441.8L1162.5 440.7L1163.0 439.5L1163.5 438.0L1164.0 436.3L1164.5 434.3L1165.0 432.0L1165.5 429.7L1166.0 427.8L1166.2 427.3L1166.5 427.5L1167.0 428.4L1167.5 429.9L1168.0 431.4L1168.5 432.7L1169.0 433.8L1169.5 434.6L1170.0 435.1L1170.5 435.4L1171.0 435.4L1171.5 435.3L1172.0 435.2L1172.5 436.2L1173.0 437.3L1173.5 438.3L1174.0 439.2L1174.5 440.2L1175.0 441.4L1175.5 442.6L1176.0 443.5L1176.5 443.8L1177.0 443.5L1177.5 442.8L1178.0 442.3L1178.5 441.9L1179.0 441.6L1179.5 441.5L1180.0 441.3L1180.5 441.0L1181.0 440.6L1181.5 440.2L1182.0 439.9L1182.5 439.9L1183.0 440.1L1183.5 440.6L1184.0 441.0L1184.5 441.5L1185.0 441.8L1185.5 442.0L1186.0 441.9L1186.5 441.7L1187.0 441.5L1187.5 441.6L1188.0 441.8L1188.5 442.0L1189.0 442.3L1189.5 442.4L1190.0 442.5L1190.5 442.7L1191.0 443.0L1191.5 443.3L1192.0 443.5L1192.5 443.4L1193.0 443.0L1193.5 442.5L1194.0 441.9L1194.5 441.3L1195.0 440.8L1195.5 440.6L1196.0 440.4L1196.5 440.5L1197.0 440.7L1197.5 440.8L1198.0 440.9L1198.5 440.7L1199.0 440.6L1199.5 440.4L1200.0 440.1L1200.5 440.0L1201.0 440.1L1201.5 440.3L1202.0 440.5L1202.5 440.6L1203.0 440.5L1203.5 440.2L1204.0 439.9L1204.5 439.6L1205.0 439.1L1205.5 438.4L1206.0 437.6L1206.5 437.1L1207.0 436.9L1207.5 437.1L1208.0 437.6L1208.5 438.1L1209.0 438.4L1209.5 438.4L1210.0 438.0L1210.5 437.5L1211.0 435.1L1211.5 428.3L1212.0 420.5L1212.5 412.1L1213.0 403.3L1213.5 394.0L1214.0 384.1L1214.5 373.9L1215.0 363.2L1215.5 351.8L1216.0 339.9L1216.5 327.5L1217.0 335.6L1217.5 344.0L1218.0 352.0L1218.5 359.0L1219.0 365.0L1219.5 370.4L1220.0 375.8L1220.5 381.8L1221.0 391.9L1221.5 401.4L1222.0 409.7L1222.5 413.5L1223.0 415.9L1223.5 418.8L1224.0 422.3L1224.5 425.9L1225.0 429.3L1225.5 432.3L1226.0 434.7L1226.5 436.0L1227.0 436.9L1227.5 437.6L1228.0 438.2L1228.5 438.7L1229.0 439.0L1229.5 439.2L1230.0 439.5L1230.5 439.8L1231.0 440.1L1231.5 440.5L1232.0 441.1L1232.5 441.8L1233.0 442.5L1233.5 443.1L1234.0 443.3L1234.5 443.1L1235.0 442.4L1235.5 441.4L1236.0 440.6L1236.5 440.3L1237.0 440.5L1237.5 441.3L1238.0 442.3L1238.5 443.4L1239.0 444.2L1239.5 444.4L1240.0 443.9L1240.5 442.7L1241.0 441.4L1241.5 440.1L1242.0 438.9L1242.5 437.9L1243.0 437.1L1243.5 436.4L1244.0 435.9L1244.5 435.8L1245.0 435.5L1245.5 434.9L1246.0 433.6L1246.5 431.9L1247.0 430.4L1247.5 430.3L1248.0 430.9L1248.5 431.7L1249.0 432.7L1249.5 433.6L1250.0 434.5L1250.5 435.2L1251.0 435.9L1251.5 436.6L1252.0 437.3L1252.5 438.1L1253.0 438.9L1253.5 439.5L1254.0 439.8L1254.5 439.5L1255.0 438.9L1255.5 438.1L1256.0 437.5L1256.5 437.3L1257.0 437.3L1257.5 437.4L1258.0 437.4L1258.5 437.3L1259.0 437.3L1259.5 437.5L1260.0 438.1L1260.5 439.1L1261.0 440.1L1261.5 440.9L1262.0 441.7L1262.5 442.3L1263.0 442.7L1263.5 442.7L1264.0 442.3L1264.5 441.6L1265.0 440.8L1265.5 440.1L1266.0 439.5L1266.5 439.0L1267.0 438.4L1267.5 437.9L1268.0 437.5L1268.5 437.3L1269.0 437.2L1269.5 437.4L1270.0 437.2L1270.5 436.9L1271.0 436.3L1271.5 435.4L1272.0 433.9L1272.5 431.8L1273.0 429.4L1273.5 426.6L1274.0 423.9L1274.5 421.4L1275.0 419.6L1275.3 418.9L1275.5 419.3L1276.0 420.9L1276.5 422.8L1277.0 424.8L1277.5 426.8L1278.0 428.5L1278.5 430.1L1279.0 431.3L1279.5 432.1L1280.0 432.7L1280.3 432.9L1280.5 433.5L1281.0 434.6L1281.5 435.1L1282.0 435.5L1282.5 436.1L1283.0 437.0L1283.5 438.0L1284.0 438.8L1284.5 439.3L1285.0 439.5L1285.5 439.7L1286.0 440.2L1286.5 441.1L1287.0 442.2L1287.5 443.2L1288.0 444.0L1288.5 444.5L1289.0 444.7L1289.5 444.6L1290.0 444.2L1290.5 443.4L1291.0 442.8L1291.5 442.7L1292.0 443.0L1292.5 443.5L1293.0 443.8L1293.5 443.6L1294.0 442.9L1294.5 442.1L1295.0 441.6L1295.5 441.4L1296.0 441.7L1296.5 442.2L1297.0 442.6L1297.5 443.0L1298.0 443.1L1298.5 443.2L1299.0 443.3L1299.5 443.4L1300.0 443.4L1300.5 443.3L1301.0 443.0L1301.5 442.6L1302.0 442.3L1302.5 442.1L1303.0 441.9L1303.5 441.9L1304.0 442.0L1304.5 442.3L1305.0 442.8L1305.5 443.4L1306.0 444.1L1306.5 444.5L1307.0 444.7L1307.5 444.7L1308.0 444.5L1308.5 444.3L1309.0 443.8L1309.5 443.2L1310.0 442.5L1310.5 441.5L1311.0 440.1L1311.5 438.4L1312.0 436.5L1312.5 434.1L1313.0 431.2L1313.5 427.9L1314.0 424.4L1314.5 421.3L1314.8 419.9L1315.0 420.3L1315.5 422.0L1316.0 424.4L1316.5 426.8L1317.0 428.7L1317.5 430.2L1318.0 431.6L1318.5 433.0L1319.0 434.3L1319.5 435.1L1320.0 435.0L1320.5 434.4L1321.0 433.7L1321.2 433.4L1321.5 433.8L1322.0 434.5L1322.5 435.2L1323.0 435.9L1323.5 436.7L1324.0 437.5L1324.5 438.3L1325.0 439.2L1325.5 440.2L1326.0 441.1L1326.5 442.0L1327.0 442.9L1327.5 443.7L1328.0 444.2L1328.5 444.5L1329.0 444.5L1329.5 444.2L1330.0 443.6L1330.5 443.0L1331.0 442.7L1331.5 442.9L1332.0 443.4L1332.5 444.0L1333.0 444.4L1333.5 444.3L1334.0 443.7L1334.5 442.8L1335.0 441.7L1335.5 440.6L1336.0 439.8L1336.5 439.4L1337.0 439.5L1337.5 439.8L1338.0 440.3L1338.5 440.7L1339.0 441.1L1339.5 441.6L1340.0 442.2L1340.5 442.7L1341.0 443.1L1341.5 443.2L1342.0 443.0L1342.5 442.5L1343.0 441.9L1343.5 441.3L1344.0 440.7L1344.5 440.4L1345.0 440.5L1345.5 440.9L1346.0 441.6L1346.5 442.5L1347.0 443.4L1347.5 444.2L1348.0 444.7L1348.5 444.8L1349.0 444.3L1349.5 443.5L1350.0 442.7L1350.5 442.1L1351.0 441.9L1351.5 441.9L1352.0 442.0L1352.5 442.1L1353.0 442.0L1353.5 441.6L1354.0 441.0L1354.5 440.1L1355.0 439.0L1355.5 438.0L1356.0 437.5L1356.5 437.5L1357.0 438.2L1357.5 439.4L1358.0 440.8L1358.5 442.0L1359.0 442.7L1359.5 442.9L1360.0 442.7L1360.5 442.4L1361.0 442.1L1361.5 442.0L1362.0 442.0L1362.5 442.0L1363.0 441.9L1363.5 441.8L1364.0 441.8L1364.5 442.0L1365.0 442.3L1365.5 442.5L1366.0 442.4L1366.5 442.2L1367.0 441.9L1367.5 441.7L1368.0 441.7L1368.5 441.9L1369.0 442.0L1369.5 442.0L1370.0 441.8L1370.5 441.3L1371.0 440.6L1371.5 439.9L1372.0 439.3L1372.5 439.2L1373.0 439.4L1373.5 439.8L1374.0 439.9L1374.5 439.6L1375.0 439.0L1375.5 438.3L1376.0 436.6L1376.5 434.6L1377.0 431.9L1377.5 428.2L1378.0 423.2L1378.5 418.1L1378.9 415.4L1379.0 415.7L1379.5 419.3L1380.0 424.1L1380.5 427.8L1381.0 429.8L1381.5 430.2L1382.0 429.4L1382.5 427.4L1383.0 424.4L1383.5 421.3L1384.0 418.2L1384.5 415.6L1385.0 413.5L1385.5 411.7L1386.0 409.7L1386.5 407.8L1387.0 409.3L1387.5 412.3L1388.0 415.2L1388.5 417.0L1389.0 417.7L1389.5 417.9L1390.0 417.9L1390.5 418.1L1390.9 418.9L1391.0 419.4L1391.5 422.5L1392.0 426.0L1392.5 429.2L1393.0 431.6L1393.5 433.2L1394.0 434.3L1394.5 435.4L1395.0 436.8L1395.5 438.1L1396.0 439.0L1396.5 439.7L1397.0 440.0L1397.5 440.1L1398.0 440.2L1398.5 440.2L1399.0 440.3L1399.5 440.3L1400.0 440.2L1400.5 440.2L1401.0 440.2L1401.5 440.3L1402.0 440.3L1402.5 439.8L1403.0 439.0L1403.5 438.0L1404.0 437.1L1404.5 436.7L1405.0 436.7L1405.5 436.8L1406.0 437.0L1406.5 437.2L1407.0 437.7L1407.5 438.5L1408.0 439.3L1408.5 439.9L1409.0 440.2L1409.5 440.2L1410.0 440.0L1410.5 439.9L1411.0 439.9L1411.5 440.1L1412.0 440.5L1412.5 440.7L1413.0 440.8L1413.5 440.7L1414.0 440.5L1414.5 440.5L1415.0 440.6L1415.5 440.8L1416.0 440.7L1416.5 440.5L1417.0 440.0L1417.5 439.5L1418.0 439.1L1418.5 438.8L1419.0 438.8L1419.5 438.9L1420.0 439.0L1420.5 439.2L1421.0 439.2L1421.5 439.0L1422.0 438.5L1422.5 438.0L1423.0 437.5L1423.5 437.4L1424.0 437.8L1424.5 438.6L1425.0 439.6L1425.5 440.3L1426.0 440.7L1426.5 440.6L1427.0 440.3L1427.5 439.6L1428.0 438.7L1428.5 437.8L1429.0 437.1L1429.5 436.2L1430.0 435.1L1430.5 433.6L1431.0 432.0L1431.5 430.7L1431.8 430.5L1432.0 430.9L1432.5 432.8L1433.0 435.0L1433.5 436.9L1434.0 438.2L1434.5 438.9L1435.0 439.1L1435.5 438.9L1436.0 438.3L1436.5 437.3L1437.0 436.1L1437.5 435.3L1438.0 434.8L1438.5 434.5L1439.0 434.2L1439.5 433.8L1440.0 433.4L1440.5 433.2L1441.0 433.3L1441.5 433.7L1442.0 434.1L1442.5 434.5L1443.0 434.9L1443.5 435.0L1444.0 433.6L1444.5 430.9L1444.7 429.7L1445.0 427.7L1445.5 424.0L1446.0 419.6L1446.5 414.5L1447.0 408.9L1447.5 402.9L1448.0 396.5L1448.5 389.7L1449.0 383.6L1449.3 380.9L1449.5 382.3L1450.0 386.7L1450.5 391.9L1451.0 396.9L1451.5 401.3L1452.0 404.6L1452.5 406.3L1453.0 406.2L1453.5 405.3L1454.0 405.5L1454.1 405.8L1454.5 410.2L1455.0 417.0L1455.5 422.3L1456.0 426.6L1456.5 429.6L1457.0 432.1L1457.5 434.4L1458.0 436.6L1458.5 438.5L1459.0 439.6L1459.5 440.1L1460.0 440.1L1460.5 439.9L1461.0 439.6L1461.5 439.5L1462.0 439.5L1462.5 439.6L1463.0 439.8L1463.5 440.2L1464.0 440.7L1464.5 441.1L1465.0 441.4L1465.5 441.5L1466.0 441.7L1466.5 441.9L1467.0 442.3L1467.5 442.7L1468.0 443.1L1468.5 443.2L1469.0 442.8L1469.5 442.0L1470.0 441.3L1470.5 440.7L1471.0 440.3L1471.5 440.1L1472.0 439.9L1472.5 439.7L1473.0 439.4L1473.5 439.1L1474.0 438.8L1474.5 438.6L1475.0 438.6L1475.5 438.6L1476.0 438.7L1476.5 438.6L1477.0 438.5L1477.5 438.4L1478.0 438.3L1478.5 438.4L1479.0 438.4L1479.5 438.3L1480.0 438.2L1480.5 438.0L1481.0 437.9L1481.5 437.8L1482.0 437.8L1482.5 437.7L1483.0 437.6L1483.5 437.5L1484.0 437.4L1484.5 437.2L1485.0 437.0L1485.5 436.8L1486.0 436.5L1486.5 436.0L1487.0 435.1L1487.5 432.8L1488.0 430.1L1488.5 427.3L1489.0 424.1L1489.5 420.4L1490.0 415.6L1490.5 409.7L1491.0 402.8L1491.5 395.9L1492.0 390.1L1492.5 386.0L1492.6 385.4L1493.0 388.0L1493.5 392.6L1494.0 398.2L1494.5 403.6L1495.0 407.9L1495.5 411.1L1496.0 412.9L1496.5 413.4L1497.0 413.1L1497.5 413.5L1497.6 413.8L1498.0 417.2L1498.5 421.3L1499.0 424.1L1499.5 426.1L1500.0 427.7L1500.5 429.3L1501.0 431.1L1501.5 433.0L1502.0 434.7L1502.5 435.6L1503.0 436.1L1503.5 436.3L1504.0 436.6L1504.5 436.9L1505.0 437.4L1505.5 438.0L1506.0 438.7L1506.5 439.3L1507.0 439.4L1507.5 439.0L1508.0 438.3L1508.5 437.6L1509.0 437.0L1509.5 436.6L1510.0 436.3L1510.5 435.9L1511.0 435.7L1511.5 435.7L1512.0 436.1L1512.5 436.6L1513.0 437.0L1513.5 437.1L1514.0 437.0L1514.5 436.8L1515.0 436.6L1515.5 436.7L1516.0 436.8L1516.5 437.0L1517.0 437.1L1517.5 437.1L1518.0 437.1L1518.5 436.8L1519.0 436.4L1519.5 435.8L1520.0 435.3L1520.5 435.2L1521.0 435.4L1521.5 435.8L1522.0 436.2L1522.5 436.6L1523.0 436.9L1523.5 437.1L1524.0 437.4L1524.5 437.6L1525.0 437.8L1525.5 438.0L1526.0 438.0L1526.5 438.0L1527.0 437.7L1527.5 437.1L1528.0 436.5L1528.5 435.8L1529.0 434.6L1529.5 433.0L1530.0 431.5L1530.1 431.3L1530.5 432.0L1531.0 433.4L1531.5 434.9L1532.0 436.5L1532.5 437.9L1533.0 438.9L1533.5 439.2L1534.0 438.5L1534.5 437.3L1535.0 435.8L1535.5 434.2L1536.0 432.5L1536.5 430.5L1537.0 428.4L1537.5 426.3L1538.0 424.6L1538.5 423.9L1539.0 425.3L1539.5 427.4L1540.0 429.6L1540.5 431.4L1541.0 432.4L1541.5 432.7L1542.0 432.4L1542.5 432.0L1543.0 431.8L1543.5 432.2L1544.0 433.1L1544.5 434.1L1545.0 434.9L1545.5 435.4L1546.0 436.0L1546.5 436.3L1547.0 436.5L1547.5 436.6L1548.0 436.8L1548.5 437.1L1549.0 437.6L1549.5 438.0L1550.0 438.3L1550.5 438.3L1551.0 438.1L1551.5 438.0L1552.0 438.0L1552.5 438.1L1553.0 438.3L1553.5 438.4L1554.0 438.5L1554.5 438.8L1555.0 439.3L1555.5 439.9L1556.0 440.4L1556.5 440.8L1557.0 441.1L1557.5 441.4L1558.0 441.8L1558.5 442.1L1559.0 442.3L1559.5 442.4L1560.0 442.5L1560.5 442.7L1561.0 442.9L1561.5 443.0L1562.0 442.9L1562.5 442.5L1563.0 441.8L1563.5 441.1L1564.0 440.5L1564.5 440.1L1565.0 440.1L1565.5 440.2L1566.0 440.5L1566.5 440.6L1567.0 440.5L1567.5 440.2L1568.0 439.7L1568.5 439.3L1569.0 439.0L1569.5 439.2L1570.0 439.6L1570.5 440.4L1571.0 441.3L1571.5 442.2L1572.0 442.8L1572.5 442.9L1573.0 442.5L1573.5 441.8L1574.0 440.9L1574.5 439.9L1575.0 438.9L1575.5 438.2L1576.0 437.9L1576.5 438.0L1577.0 438.4L1577.5 438.8L1578.0 439.1L1578.5 439.1L1579.0 438.9L1579.5 438.7L1580.0 438.4L1580.5 438.1L1581.0 437.9L1581.5 437.6L1582.0 437.4L1582.5 437.3L1583.0 437.4L1583.5 437.5L1584.0 437.7L1584.5 437.8L1585.0 437.8L1585.5 437.8L1586.0 437.7L1586.5 437.6L1587.0 437.4L1587.5 437.3L1588.0 437.1L1588.5 437.0L1589.0 437.1L1589.5 437.3L1590.0 437.5L1590.5 437.8L1591.0 438.0L1591.5 438.3L1592.0 438.6L1592.5 439.0L1593.0 439.3L1593.5 439.1L1594.0 438.3L1594.5 436.9L1595.0 435.4L1595.5 434.1L1596.0 433.4L1596.5 433.2L1597.0 433.3L1597.5 433.6L1598.0 433.9L1598.5 434.0L1599.0 434.1L1599.5 434.3L1600.0 434.5L1600.5 434.7L1601.0 435.1L1601.5 435.4L1602.0 435.6L1602.5 435.6L1603.0 435.4L1603.5 435.0L1604.0 434.5L1604.5 434.1L1605.0 433.9L1605.5 434.1L1606.0 434.4L1606.5 434.6L1607.0 434.8L1607.5 435.0L1608.0 435.4L1608.5 436.0L1609.0 436.7L1609.5 437.4L1610.0 437.9L1610.5 437.9L1611.0 437.4L1611.5 436.5L1612.0 435.5L1612.5 434.8L1613.0 434.6L1613.5 434.7L1614.0 435.0L1614.5 435.2L1615.0 435.0L1615.5 434.5L1616.0 433.8L1616.5 433.0L1617.0 432.7L1617.5 433.2L1618.0 434.3L1618.5 435.7L1619.0 437.1L1619.5 438.0L1620.0 438.3L1620.5 437.9L1621.0 437.4L1621.5 436.9L1622.0 436.6L1622.5 436.8L1623.0 437.1L1623.5 437.6L1624.0 438.0L1624.5 438.1L1625.0 437.8L1625.5 437.2L1626.0 436.4L1626.5 435.5L1627.0 434.7L1627.5 434.2L1628.0 434.0L1628.5 433.9L1629.0 434.0L1629.5 434.1L1630.0 434.2L1630.5 434.4L1631.0 434.6L1631.5 434.8L1632.0 435.1L1632.5 435.3L1633.0 435.5L1633.5 435.7L1634.0 436.0L1634.5 436.2L1635.0 436.5L1635.5 436.6L1636.0 436.8L1636.5 436.8L1637.0 436.8L1637.5 436.6L1638.0 436.3L1638.5 436.1L1639.0 435.8L1639.5 435.6L1640.0 435.4L1640.5 435.3L1641.0 435.5L1641.5 435.6L1642.0 435.3L1642.5 434.5L1643.0 433.4L1643.5 432.1L1644.0 430.8L1644.5 429.4L1645.0 427.9L1645.5 426.3L1646.0 424.5L1646.5 422.9L1647.0 421.8L1647.2 421.8L1647.5 422.6L1648.0 424.9L1648.5 427.6L1649.0 430.0L1649.5 431.7L1650.0 432.5L1650.5 432.9L1651.0 433.0L1651.5 433.3L1652.0 433.9L1652.5 434.5L1653.0 435.0L1653.5 435.0L1654.0 434.7L1654.5 434.1L1655.0 433.3L1655.5 432.5L1656.0 431.4L1656.5 430.2L1657.0 429.2L1657.2 429.0L1657.5 429.9L1658.0 431.7L1658.5 433.3L1659.0 434.6L1659.5 435.6" stroke="#00f" />
</g>
<rect x="131" y="15.8" width="1529.5" height="1149.7" fill="none" stroke="#000" stroke-width="4.5"/>
<path d="M270.05 1165.5V1143.3M548.13 1165.5V1143.3M826.23 1165.5V1143.3M1104.32 1165.5V1143.3M1382.40 1165.5V1143.3M409.09 1165.5V1154.3M687.18 1165.5V1154.3M965.27 1165.5V1154.3M1243.36 1165.5V1154.3M1521.45 1165.5V1154.3" stroke="#000" stroke-width="4.5" fill="none"/>
<g class="serif" font-size="50" text-anchor="middle" fill="#000">
<text transform="translate(270.0 1228.5) scale(1 1.03)">20</text>
<text transform="translate(548.1 1228.5) scale(1 1.03)">30</text>
<text transform="translate(826.2 1228.5) scale(1 1.03)">40</text>
<text transform="translate(1104.3 1228.5) scale(1 1.03)">50</text>
<text transform="translate(1382.4 1228.5) scale(1 1.03)">60</text>
<text transform="translate(1660.5 1228.5) scale(1 1.03)">70</text>
</g>
<g class="serif" font-size="47.5" text-anchor="middle" fill="#000">
<text transform="translate(212.7 337.2) scale(1 1.05)">5</text>
<text transform="translate(380.0 347.8) scale(1 1.05)">4</text>
<text transform="translate(423.0 286.1) scale(1 1.05)">5</text>
<text transform="translate(476.3 407) scale(1 1.05)">3</text>
<text transform="translate(542.5 417) scale(1 1.05)">4</text>
<text transform="translate(610.0 301.5) scale(1 1.05)">5</text>
<text transform="translate(637.5 142.7) scale(1 1.05)">4</text>
<text transform="translate(673.2 415.1) scale(1 1.05)">3</text>
<text transform="translate(701.6 254.7) scale(1 1.05)">4</text>
<text transform="translate(737.6 414.6) scale(1 1.05)">5</text>
<text transform="translate(764.8 412.7) scale(1 1.05)">5</text>
<text transform="translate(851.2 381.1) scale(1 1.05)">4</text>
<text transform="translate(984.5 401.4) scale(1 1.05)">5</text>
<text transform="translate(1088.4 347.8) scale(1 1.05)">4</text>
<text transform="translate(1165.6 424) scale(1 1.05)">5</text>
<text transform="translate(1221.5 330.9) scale(1 1.05)">4</text>
<text transform="translate(1245.0 424) scale(1 1.05)">5</text>
<text transform="translate(1271.7 417.7) scale(1 1.05)">5</text>
<text transform="translate(1319.2 422.7) scale(1 1.05)">4</text>
<text transform="translate(1385.9 409.8) scale(1 1.05)">5</text>
<text transform="translate(1452.1 381.9) scale(1 1.05)">4</text>
<text transform="translate(1494.6 375.9) scale(1 1.05)">4</text>
<text transform="translate(1541.9 419.8) scale(1 1.05)">5</text>
<text transform="translate(223.0 671.4) scale(1 1.05)">5</text>
<text transform="translate(384.4 692.5) scale(1 1.05)">4</text>
<text transform="translate(425.5 640.3) scale(1 1.05)">5</text>
<text transform="translate(482.9 744.2) scale(1 1.05)">3</text>
<text transform="translate(539.5 768.4) scale(1 1.05)">4</text>
<text transform="translate(614.5 632.4) scale(1 1.05)">5</text>
<text transform="translate(648.7 499.5) scale(1 1.05)">4</text>
<text transform="translate(664.5 771.8) scale(1 1.05)">3</text>
<text transform="translate(705.8 600.8) scale(1 1.05)">4</text>
<text transform="translate(737.0 760.2) scale(1 1.05)">5</text>
<text transform="translate(764.8 758.3) scale(1 1.05)">5</text>
<text transform="translate(853.0 726.8) scale(1 1.05)">4</text>
<text transform="translate(987.7 747.4) scale(1 1.05)">5</text>
<text transform="translate(1091.8 692.9) scale(1 1.05)">4</text>
<text transform="translate(1175.0 777.7) scale(1 1.05)">5</text>
<text transform="translate(1218.5 684.9) scale(1 1.05)">4</text>
<text transform="translate(1245.0 772.1) scale(1 1.05)">5</text>
<text transform="translate(1275.0 769.7) scale(1 1.05)">5</text>
<text transform="translate(1324.2 773.7) scale(1 1.05)">4</text>
<text transform="translate(1388.9 748.8) scale(1 1.05)">5</text>
<text transform="translate(1450.7 724.8) scale(1 1.05)">4</text>
<text transform="translate(1494.6 735.8) scale(1 1.05)">4</text>
<text transform="translate(1547.9 772.1) scale(1 1.05)">5</text>
<text transform="translate(231.1 1064.2) scale(1 1.05)">1</text>
<text transform="translate(378.4 1066.8) scale(1 1.05)">2</text>
<text transform="translate(440.3 1086.8) scale(1 1.05)">2</text>
<text transform="translate(481.0 1067.7) scale(1 1.05)">3</text>
<text transform="translate(556.1 993.9) scale(1 1.05)">1</text>
<text transform="translate(623.2 1041.8) scale(1 1.05)">2</text>
<text transform="translate(673.1 1084.7) scale(1 1.05)">3</text>
<text transform="translate(725.1 847.6) scale(1 1.05)">1</text>
<text transform="translate(837.5 1088.8) scale(1 1.05)">2</text>
<text transform="translate(916.0 1055.9) scale(1 1.05)">1</text>
<text transform="translate(1077.3 1097.8) scale(1 1.05)">2</text>
<text transform="translate(1202.1 1071.8) scale(1 1.05)">1</text>
<text transform="translate(1301.8 1038.9) scale(1 1.05)">1</text>
<text transform="translate(1466.0 1020.8) scale(1 1.05)">1</text>
</g>
<g class="serif" font-size="47" fill="#000">
<text x="139.3" y="412">(c)</text>
<text x="137" y="756.4">(b)</text>
<text x="137" y="1075.8">(a)</text>
</g>
<g class="serif" font-size="48" fill="#000">
<text x="968.5" y="76">1-Magnetite</text>
<text x="1264.5" y="76.4">4-Hematite</text>
<text x="968" y="149">2-Ilmenite</text>
<text x="1263" y="148.6" font-size="47.6">5-Pseudobrookite</text>
<text x="968" y="221.8">3-Sphene</text>
</g>
<text class="serif" font-size="55" transform="translate(54 830) rotate(-90)" fill="#000">Intensity/ CPS</text>
<g fill="#000">
<text class="serif" font-size="57" x="764" y="1353">2</text>
<text x="825" y="1345.5" font-size="53.5" font-family="'Liberation Serif','Noto Serif CJK SC',serif">θ</text>
<text x="868.5" y="1355" font-size="61" stroke="#000" stroke-width="0.6" font-family="'IPAGothic','Noto Sans CJK SC',sans-serif">/</text>
<text x="904" y="1347" font-size="56" font-family="'Liberation Sans','Noto Sans CJK SC',sans-serif">°</text>
</g>
</svg>
</body></html>
